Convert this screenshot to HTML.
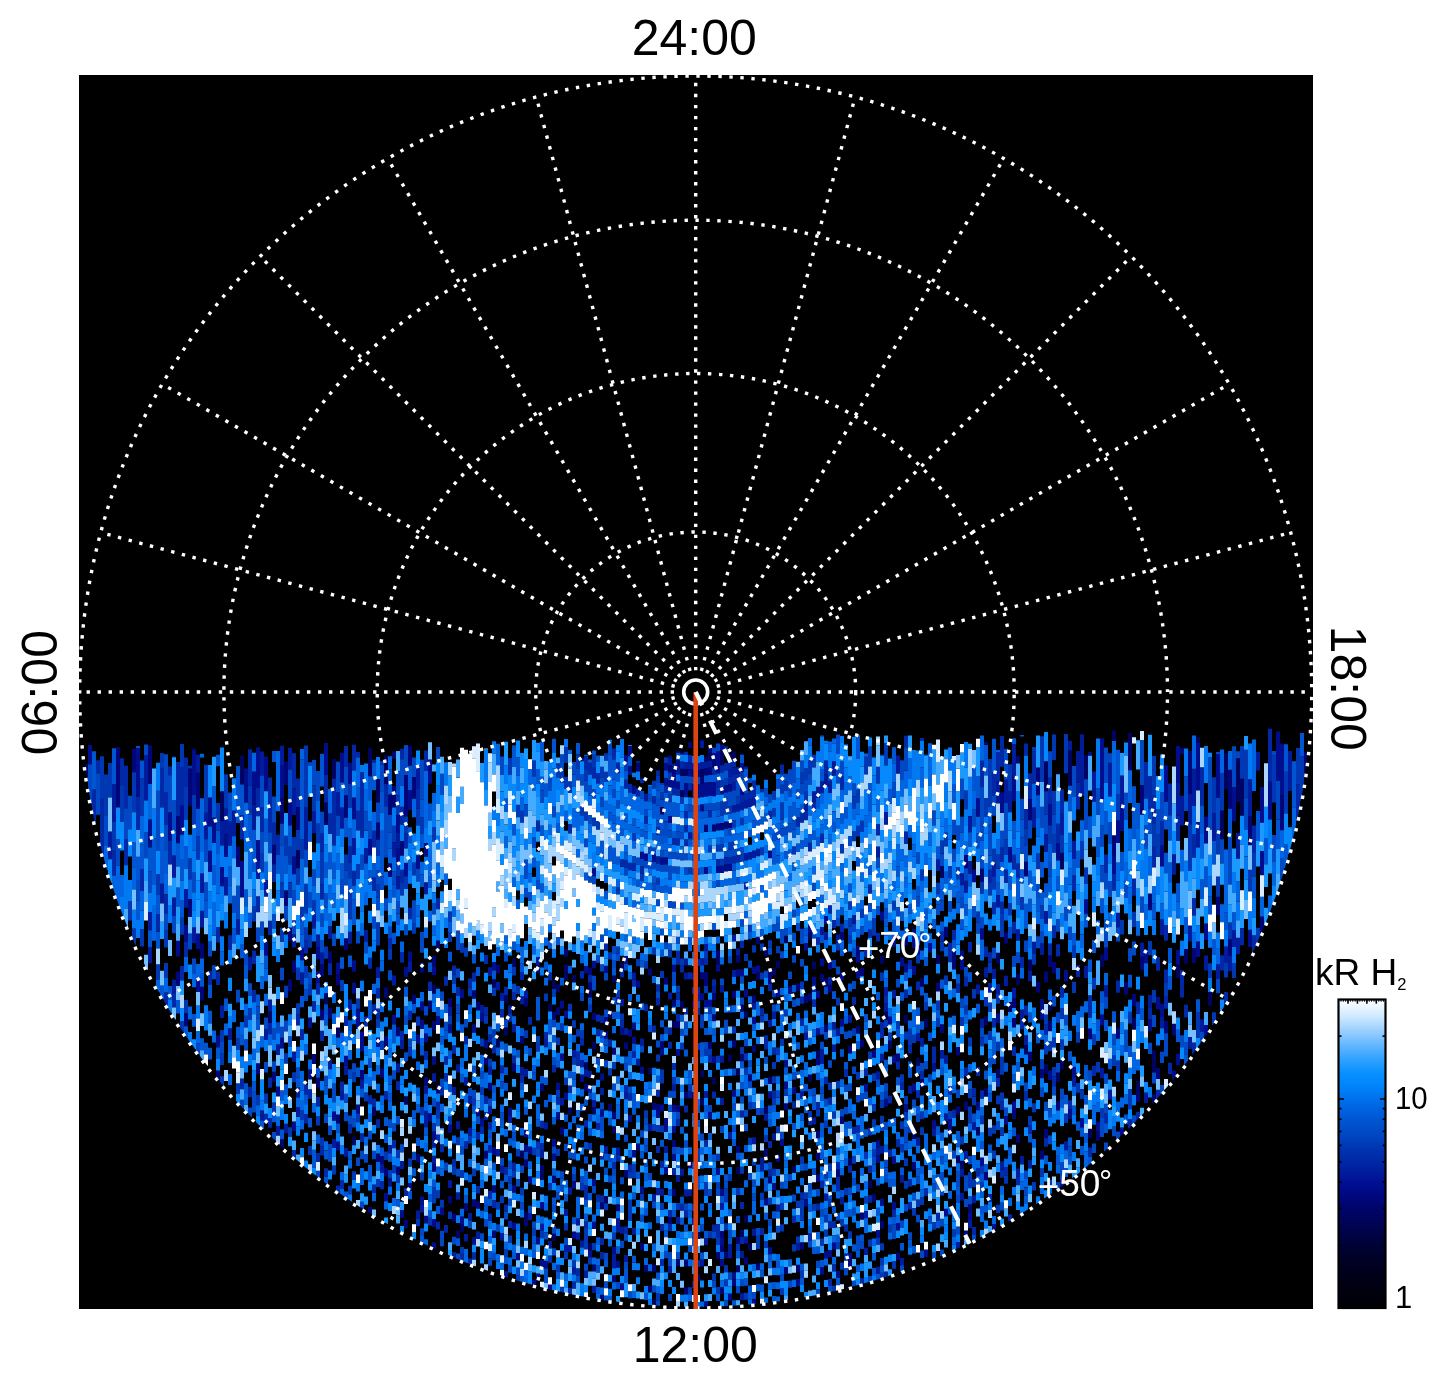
<!DOCTYPE html>
<html><head><meta charset="utf-8"><style>html,body{margin:0;padding:0;background:#fff;overflow:hidden;}svg{display:block}</style></head>
<body><svg width="1447" height="1384" viewBox="0 0 1447 1384">
<rect x="79" y="75" width="1234" height="1234" fill="#000"/>
<defs><clipPath id="dc"><circle cx="695.7" cy="692.0" r="615"/></clipPath></defs><g clip-path="url(#dc)"><path stroke="#000461" stroke-width="4" d="M222 791.2v29.9M242 755.4v29.2M270 1011.4v11.5M298 850.1v18.1M326 802.6v22.4M326 993.2v11.0M334 758.9v19.8M338 1027.6v10.1M354 1136.5v8.8M370 747.8v28.3M374 1107.3v8.8M378 779.0v23.6M386 755.3v28.8M406 1096.3v8.6M434 984.5v9.3M458 1230.6v7.6M462 1224.1v7.6M494 979.2v8.5M498 1039.6v8.0M506 995.0v8.2M506 1027.6v8.0M514 958.6v8.4M522 1150.6v7.5M526 1211.4v7.4M538 965.2v8.1M542 1172.6v7.3M550 1003.8v7.7M554 981.2v7.8M554 1233.8v7.2M558 984.2v7.7M566 972.4v7.7M570 1107.6v7.3M574 975.0v7.6M586 1062.2v7.3M590 989.9v7.4M590 1243.1v7.1M594 1042.0v7.3M594 1107.2v7.2M606 1196.1v7.1M610 1010.6v7.2M614 975.4v7.3M614 1126.3v7.1M622 962.9v7.2M650 1067.4v7.1M654 1299.6v7.0M662 807.1v7.3M674 1020.8v7.0M678 750.4v2.5M682 751.4v3.1M682 768.8v7.1M682 790.0v7.1M682 1000.7v7.0M686 769.0v7.1M702 769.1v7.0M702 1070.3v7.0M702 1098.3v7.0M710 753.5v7.2M714 1077.4v7.0M718 957.5v7.0M722 750.1v15.1M730 753.8v7.5M730 1054.7v7.0M734 751.6v7.8M738 1068.4v7.0M738 1166.9v7.0M738 1265.2v7.0M742 1230.1v7.0M746 1010.9v7.1M746 1215.4v7.0M750 1243.4v7.0M758 972.8v7.2M766 949.0v7.3M766 1106.5v7.1M774 968.2v7.3M778 960.6v7.3M786 935.8v7.5M794 1165.9v7.1M810 932.4v7.7M810 1074.5v7.3M814 961.6v7.6M818 1050.5v7.4M850 1158.1v7.4M870 1180.4v7.4M882 955.7v8.5M886 1011.7v8.1M890 1040.6v8.0M906 1015.0v8.3M914 1131.1v7.8M918 1057.7v8.2M922 977.8v8.9M926 1019.1v8.5M938 954.7v9.4M942 866.1v11.9M958 1155.2v8.0M962 1160.7v8.0M978 1127.0v8.3M986 1016.1v9.3M986 1088.1v8.6M998 952.8v10.6M998 1069.0v8.9M1010 1002.1v9.9M1018 973.9v10.5M1026 1045.0v9.5M1030 959.3v11.1M1046 761.2v30.0M1046 1064.1v9.6M1050 1000.1v10.6M1058 1072.6v9.6M1062 852.7v16.7M1062 1059.7v9.8M1070 750.5v35.2M1086 755.3v23.9M1090 1128.8v9.4M1102 954.4v12.7M1114 730.6v10.4M1130 732.8v37.4M1134 1018.1v11.6M1138 1081.0v10.5M1154 1050.3v22.3M1178 964.2v14.0M1186 949.0v14.8M1198 737.2v5.3M1210 992.0v13.7M1222 810.6v28.6M1226 753.2v36.4M1238 758.4v43.6M1242 778.8v37.0"/>
<path stroke="#000677" stroke-width="4" d="M86 764.3v15.6M118 746.9v60.8M134 748.7v23.6M150 745.3v38.7M178 816.1v27.2M178 971.6v14.4M186 1013.2v12.9M190 768.5v37.8M190 899.1v17.8M194 748.5v2.5M198 772.7v36.0M202 943.4v15.1M202 986.8v13.4M218 1070.4v10.5M238 846.5v20.7M258 1063.4v10.7M274 844.7v19.5M274 1071.8v10.4M282 798.5v25.3M282 1139.2v9.2M286 761.5v23.6M286 890.3v15.6M290 927.4v13.7M290 979.2v12.0M294 960.3v12.4M298 806.9v23.1M314 1053.9v10.1M318 1077.8v9.7M322 964.4v11.7M322 1009.6v10.7M330 951.4v11.9M330 1008.1v10.6M338 974.0v11.2M338 1114.4v9.1M346 795.3v22.5M346 938.1v12.0M362 1070.0v9.3M370 1207.1v7.8M378 822.3v17.5M378 1153.6v8.5M382 1068.4v9.1M382 1155.9v8.4M386 987.6v10.1M386 1036.3v9.4M386 1168.3v8.3M390 794.4v20.3M390 863.2v13.9M394 751.4v7.4M394 786.0v21.4M398 1026.9v9.3M398 1166.4v8.2M402 840.9v14.9M406 774.9v41.6M406 1220.1v8.0M410 745.9v19.8M414 777.1v21.7M414 994.4v9.5M418 1154.1v8.1M422 962.8v9.9M426 1077.0v8.5M430 1000.4v9.2M434 955.7v9.8M434 1021.1v8.9M434 1163.8v8.0M438 940.5v10.0M438 1085.1v8.3M450 998.2v8.9M450 1195.8v7.8M454 1213.7v7.7M466 1203.3v7.7M474 990.1v8.7M474 1199.2v7.6M478 1002.0v8.5M478 1108.3v7.9M478 1201.2v7.6M486 1056.4v8.1M486 1150.8v7.7M490 1082.7v7.9M494 1185.3v7.6M494 1230.4v7.5M498 964.7v8.6M514 1063.6v7.8M522 1036.0v7.8M526 998.6v8.0M526 1159.6v7.4M526 1218.8v7.3M542 1083.4v7.5M542 1165.2v7.4M554 1012.1v7.6M554 1175.7v7.3M558 1007.3v7.6M562 1127.4v7.3M566 949.0v7.8M566 964.6v7.7M586 1084.1v7.3M590 967.6v7.5M590 982.5v7.4M594 1012.7v7.3M594 1264.5v7.1M602 1202.4v7.1M602 1294.7v6.2M610 1104.1v7.1M614 1047.7v7.2M614 1112.1v7.1M614 1275.2v7.1M618 1204.1v7.1M626 1042.3v7.1M626 1170.1v7.1M638 762.6v8.8M638 1143.5v7.1M642 1242.9v7.0M646 1265.0v7.0M650 968.4v7.1M650 1285.4v7.0M654 1102.9v7.0M654 1264.5v7.0M658 1103.9v7.0M662 1041.3v7.0M666 977.5v7.0M670 765.3v7.4M670 1217.0v7.0M674 766.4v7.3M674 999.8v7.0M674 1140.0v7.0M674 1189.1v7.0M678 1020.9v7.0M678 1105.0v7.0M678 1259.1v7.0M686 1091.5v7.0M686 1259.5v7.0M686 1287.5v7.0M690 742.0v6.1M690 1161.3v7.0M694 770.0v7.0M694 1001.0v7.0M694 1092.0v7.0M698 770.0v7.0M698 1232.1v7.0M698 1274.1v7.0M702 739.5v1.5M702 776.2v7.0M702 972.3v7.0M706 757.3v4.2M706 768.6v7.1M706 824.8v7.0M706 972.1v14.0M710 747.2v6.3M710 767.8v7.1M710 1041.8v7.0M714 760.4v7.2M714 824.5v7.1M714 993.2v7.0M714 1014.3v7.0M718 823.5v7.1M718 950.4v7.0M718 1251.9v7.0M722 823.2v7.1M722 1231.1v7.0M722 1245.1v7.0M722 1287.2v7.0M726 821.6v7.2M726 1251.3v7.0M730 820.9v7.2M734 991.1v7.1M734 1040.4v7.0M734 1279.3v7.0M738 955.4v7.1M738 1145.8v7.0M738 1237.1v7.0M742 753.6v1.2M742 1004.6v7.1M742 1054.1v7.1M746 1257.6v7.0M750 1074.2v7.1M754 995.4v7.1M754 1045.2v7.1M758 936.8v7.2M758 1263.2v7.0M766 1149.0v7.1M770 969.3v14.5M770 1077.0v7.1M770 1176.5v7.1M786 1103.1v7.2M786 1266.9v7.1M798 983.5v7.4M798 1264.9v7.1M802 1242.3v7.1M806 995.7v7.4M810 993.2v7.5M818 1057.9v7.4M818 1131.1v7.3M818 1152.8v7.2M822 973.9v7.7M826 979.0v7.7M826 1024.6v7.5M830 984.7v7.7M838 1169.4v7.3M842 931.9v8.2M842 1116.5v7.4M850 1045.8v7.6M850 1260.4v7.3M858 945.9v8.3M858 1026.0v7.8M862 968.1v8.1M862 1039.6v7.7M862 1212.4v7.3M874 1050.0v7.8M874 1194.2v7.4M882 1221.0v7.4M898 1053.4v8.0M898 1252.8v7.4M906 936.4v9.2M914 1162.1v7.7M922 1079.3v8.1M938 982.6v9.1M942 1024.3v8.7M946 926.8v10.1M954 950.1v19.5M958 1046.9v8.7M958 1106.3v8.3M966 855.0v13.2M966 1101.5v8.4M970 1204.3v7.9M982 868.7v13.0M986 741.9v2.9M986 1172.1v8.2M1006 932.3v11.3M1014 998.0v10.0M1014 1017.8v9.7M1014 1110.1v8.8M1018 755.7v7.9M1018 1134.2v8.6M1026 861.8v14.8M1030 799.1v21.1M1030 1051.7v9.5M1038 767.4v27.7M1038 981.8v10.7M1042 1068.9v9.5M1042 1150.8v8.7M1046 971.4v11.1M1046 1129.0v8.9M1050 955.5v11.6M1050 1021.1v10.2M1054 962.1v11.5M1058 1101.2v9.3M1090 1028.6v10.7M1098 1131.3v9.4M1114 835.3v20.3M1118 1027.7v11.1M1126 982.1v12.3M1134 994.1v12.2M1138 1091.5v10.4M1142 785.0v29.8M1142 956.7v13.5M1150 893.6v16.7M1154 1094.2v9.4M1158 1067.9v11.0M1166 1021.1v12.1M1174 1023.7v12.1M1182 748.0v6.2M1190 751.1v42.8M1194 947.9v15.0M1218 896.6v18.5M1230 769.6v39.1M1230 939.7v16.2M1250 816.5v28.8M1262 916.6v17.9M1282 795.6v34.7M1306 752.3v23.3"/>
<path stroke="#000d8c" stroke-width="4" d="M90 745.0v19.2M138 748.1v49.0M150 819.5v27.9M170 812.2v28.3M178 940.8v15.8M182 805.8v28.9M186 925.1v16.4M194 751.0v44.0M198 933.5v15.6M198 978.3v13.8M210 797.4v29.2M210 850.8v21.3M214 817.7v25.4M218 1035.6v11.9M222 867.0v19.3M226 834.5v22.5M242 860.7v36.7M246 768.4v34.4M254 771.3v33.0M258 747.2v40.4M258 839.9v20.6M266 756.5v34.8M266 941.8v13.7M278 1086.3v10.1M282 765.6v32.9M282 1037.8v10.8M290 800.9v24.5M294 856.5v17.7M294 1121.5v9.5M302 947.7v12.6M310 1017.6v10.7M310 1069.6v9.9M318 947.3v12.3M318 971.5v11.6M326 743.1v31.8M334 1111.6v9.2M338 962.6v11.5M338 1141.6v8.9M342 752.8v29.9M346 1055.8v9.6M350 762.8v21.0M354 797.5v21.7M354 960.6v11.2M354 982.7v10.7M358 1008.7v20.1M358 1104.4v9.0M362 1031.8v19.4M370 839.1v16.3M378 1037.5v9.5M386 1193.1v8.2M390 1178.3v8.2M394 1015.0v9.5M398 815.0v17.3M398 848.0v14.6M402 1209.8v8.0M406 862.9v13.4M406 966.9v10.1M410 790.1v19.8M410 951.6v10.3M410 1183.0v8.1M418 855.3v13.4M418 1034.8v9.0M422 1001.4v9.3M422 1019.8v9.1M422 1196.6v7.9M426 842.9v13.9M426 1033.4v8.9M426 1215.7v7.9M430 759.4v24.4M430 1113.3v8.3M434 965.4v9.6M434 1056.2v8.6M434 1131.5v8.1M434 1219.1v7.8M434 1242.4v7.2M438 1016.1v8.9M442 1207.5v7.8M450 1024.7v8.7M450 1124.7v8.0M462 989.3v8.9M462 1216.5v7.7M474 1024.4v8.4M474 1237.2v7.5M482 1013.4v8.4M482 1118.4v7.8M486 1040.1v8.1M494 961.9v8.7M494 1147.3v7.6M510 1107.7v7.7M514 1185.2v7.5M514 1222.4v7.4M518 1253.0v7.3M526 1129.7v7.5M526 1144.7v7.5M530 1146.5v7.4M530 1176.2v7.4M534 1279.8v6.6M538 1237.1v7.3M538 1273.5v7.2M542 1201.9v7.3M542 1260.1v7.2M546 1261.2v7.2M550 1284.5v6.0M554 1139.1v7.3M554 1153.8v7.3M558 1082.5v7.4M558 1112.1v7.4M562 1000.8v7.6M562 1053.6v7.5M566 1010.5v7.5M566 1092.4v7.4M574 1181.2v7.2M574 1231.5v7.2M582 757.9v3.4M582 1074.6v7.3M586 966.0v7.5M590 1250.2v7.1M594 868.2v8.0M594 960.8v7.5M594 1178.9v7.1M594 1221.8v7.1M602 1073.6v7.2M602 1109.5v7.2M606 965.7v7.4M606 1016.9v7.3M606 1031.4v7.2M614 1246.9v7.1M618 1260.7v7.1M622 1027.8v7.2M622 1283.2v7.1M626 755.3v5.8M626 956.1v7.2M630 745.9v10.5M630 766.0v9.1M630 1029.6v7.1M630 1114.9v7.1M634 785.7v8.3M634 1022.5v7.1M634 1036.7v7.1M634 1150.1v7.1M638 980.5v7.1M642 851.8v7.4M642 1066.7v7.1M642 1186.6v7.0M646 853.6v7.3M654 854.8v7.2M658 1110.9v7.0M662 857.6v7.1M662 1048.4v7.0M662 1104.6v7.0M666 763.1v7.5M666 778.0v7.4M666 857.4v7.1M666 1118.0v14.0M666 1167.1v7.0M670 755.4v2.4M670 780.0v7.3M670 816.0v7.1M674 773.7v14.4M674 964.7v7.0M674 1105.0v7.0M674 1126.0v7.0M674 1154.0v7.0M678 760.1v7.2M678 781.6v7.1M678 1048.9v7.0M686 783.1v14.1M690 769.2v7.0M694 784.0v14.0M698 784.0v14.0M702 783.2v14.0M702 804.2v7.0M702 993.3v7.0M706 782.7v14.1M706 866.9v7.0M706 1000.1v7.0M706 1301.2v6.8M710 782.0v14.2M710 999.8v7.0M710 1111.9v7.0M714 753.1v7.3M714 782.0v14.2M714 1056.3v7.0M718 751.3v22.1M718 866.0v7.1M718 964.5v7.0M718 1167.9v7.0M722 744.5v5.6M722 787.2v7.2M722 865.8v7.1M722 1189.1v7.0M722 1238.1v7.0M722 1259.2v7.0M726 785.3v7.3M726 864.5v7.1M730 784.2v7.4M730 864.0v7.1M730 1293.4v7.0M734 1089.7v7.0M734 1272.3v7.0M738 969.5v7.1M742 763.3v8.2M742 787.4v7.7M742 969.2v7.1M746 989.6v7.1M754 966.8v7.2M754 1016.8v7.1M754 1299.2v6.1M758 965.6v7.2M766 1198.6v7.1M770 850.6v7.7M770 1091.3v7.1M770 1247.2v7.1M774 1182.9v7.1M778 989.8v7.3M778 1154.7v7.1M782 1139.0v7.1M786 1060.0v7.2M786 1081.6v7.2M790 986.4v7.3M794 1086.9v7.2M798 1279.1v7.1M806 943.0v7.6M806 1199.3v7.2M810 924.6v7.8M814 976.8v7.6M818 990.7v7.6M818 1028.2v7.4M818 1174.5v7.2M822 958.5v7.7M822 1267.2v7.2M826 916.0v8.1M826 1251.2v7.2M830 961.4v7.8M830 1250.1v7.2M834 1242.6v7.2M838 1270.9v7.2M842 972.1v7.9M842 1018.7v7.7M850 1253.1v7.3M858 954.2v8.2M858 970.5v8.1M866 1083.8v7.6M878 1140.4v7.5M878 1155.5v7.5M878 1230.0v7.4M882 911.4v9.1M882 1198.7v7.5M886 1098.7v7.7M890 1016.4v8.1M894 937.9v8.9M894 1055.3v8.0M894 1156.3v7.6M894 1201.7v7.5M898 1222.9v7.5M902 957.6v8.8M906 963.5v8.8M906 1103.8v7.8M914 929.2v18.7M914 966.0v8.9M914 1083.6v8.0M918 945.2v9.2M926 1249.3v7.6M930 942.9v9.5M934 1063.2v8.3M934 1120.3v8.0M946 1208.7v7.8M950 1119.1v16.2M962 950.4v19.7M966 1230.6v7.8M970 1212.2v7.9M974 869.6v12.7M978 798.2v18.5M978 1101.8v8.5M982 928.7v10.8M982 1157.5v8.2M994 1224.0v6.9M998 1013.4v9.5M1002 792.3v20.6M1006 1116.0v8.6M1010 847.2v15.2M1014 777.2v24.0M1014 1101.3v8.8M1042 999.1v20.7M1050 803.9v21.4M1050 1070.6v9.5M1058 843.0v17.4M1066 970.1v11.5M1070 1109.7v9.4M1074 1066.7v9.9M1082 1118.0v9.4M1086 899.3v14.5M1090 752.1v3.6M1098 1121.7v9.5M1102 738.3v62.6M1102 1014.4v11.1M1106 947.4v13.0M1114 855.6v18.3M1118 820.6v22.3M1122 806.4v24.6M1122 1127.4v9.2M1146 949.4v13.8M1150 1019.4v11.8M1158 997.0v12.5M1162 845.5v21.1M1162 1003.8v12.4M1166 765.5v36.6M1174 1070.7v9.5M1178 746.1v37.1M1178 949.7v14.5M1178 1053.7v11.6M1198 742.6v47.8M1198 941.5v15.4M1206 816.8v26.8M1206 923.5v16.5M1206 1025.0v12.0M1218 753.9v44.1M1234 786.9v34.4M1250 929.7v17.2M1262 786.9v35.8M1262 851.0v24.2M1270 781.8v37.7M1278 731.4v49.7M1282 743.6v52.0"/>
<path stroke="#001b9b" stroke-width="4" d="M110 831.6v27.6M114 784.3v37.4M146 755.0v45.4M150 912.1v18.1M150 947.2v16.1M162 883.7v19.8M174 855.6v22.1M174 897.6v18.4M174 979.7v14.2M186 889.1v18.7M194 927.3v16.0M198 754.8v17.9M202 873.5v19.4M202 910.8v16.7M206 812.7v26.5M222 821.1v24.5M222 1005.4v12.5M226 808.1v26.4M226 877.1v18.3M230 821.6v24.1M230 1028.2v11.8M234 810.6v25.6M238 919.4v15.3M250 956.7v13.5M254 804.4v25.7M258 860.5v18.6M262 751.4v24.1M262 1110.5v10.0M266 880.0v16.8M266 1028.9v11.2M270 999.6v11.8M278 1044.3v10.8M278 1126.1v9.7M282 745.7v19.9M286 1123.7v9.6M290 747.7v21.9M294 788.3v26.6M294 934.2v13.3M294 1051.5v10.4M298 1087.6v9.9M298 1107.2v9.6M302 972.5v11.9M306 807.0v42.5M314 811.6v21.7M314 914.8v13.6M318 934.6v12.7M322 952.3v12.1M330 926.4v12.7M330 1059.4v9.8M334 1138.9v9.0M338 792.3v23.4M342 807.6v20.9M342 1090.9v9.3M346 1065.5v9.5M346 1148.0v8.8M350 931.7v12.1M350 999.5v10.4M354 838.1v17.0M362 1079.3v9.2M366 847.8v15.7M366 930.1v11.8M378 967.3v10.6M382 1164.3v8.4M390 1144.9v8.4M394 842.2v15.1M394 975.5v10.1M398 832.3v15.7M398 876.2v13.0M398 1063.5v8.9M402 1039.9v9.1M402 1160.9v8.2M410 961.9v10.1M418 765.1v23.9M418 1210.5v7.9M422 1204.6v7.9M426 882.3v11.9M426 1085.5v8.5M426 1110.7v16.6M434 1073.3v8.5M434 1139.6v8.1M434 1155.7v8.0M450 1007.1v8.8M450 1180.2v7.8M454 1086.9v8.2M454 1252.1v6.5M458 1064.3v8.3M458 1121.3v8.0M458 1192.1v7.7M466 1077.3v8.1M466 1233.9v7.6M470 1096.0v8.0M470 1127.7v7.9M470 1212.9v7.6M478 1231.5v7.5M482 1005.0v8.4M490 967.2v8.7M490 1066.8v8.0M490 1106.3v7.8M498 981.9v8.4M498 1148.9v7.6M502 992.7v8.3M502 1165.6v7.6M502 1233.1v7.4M506 1271.2v6.8M510 1005.4v8.1M510 1115.4v7.6M514 1024.2v8.0M522 996.3v8.0M522 1067.1v7.7M526 990.6v8.0M526 1069.0v7.7M530 1213.0v7.3M538 957.1v8.1M542 1150.5v7.4M542 1223.8v7.3M546 1039.7v7.6M546 1122.2v7.4M550 1241.1v7.2M562 1098.1v7.4M566 1208.9v7.2M566 1244.9v7.2M570 1187.5v7.2M570 1245.1v7.2M574 1050.0v7.4M574 1267.3v7.2M578 1218.2v7.2M578 1232.5v7.2M582 1060.0v7.3M582 1240.5v7.1M586 1069.5v7.3M586 1270.8v7.1M590 1070.7v7.3M590 1085.2v7.2M594 1100.0v7.2M594 1285.8v7.1M602 1088.0v7.2M606 1146.3v7.1M614 1254.0v14.1M618 1147.4v7.1M618 1218.3v14.1M622 999.0v7.2M622 1226.7v7.1M626 1028.0v7.1M626 1092.1v7.1M626 1254.9v7.1M634 972.5v7.2M634 1227.7v7.0M638 1058.7v7.1M642 1038.4v7.1M646 793.6v7.7M650 1123.7v7.0M654 1194.3v7.0M658 856.3v7.2M658 1188.2v7.0M662 1188.8v7.0M666 1146.1v7.0M670 757.8v7.5M670 992.5v7.0M670 1266.1v7.0M674 763.5v3.0M674 1083.9v7.0M678 767.3v7.2M678 1175.0v7.0M678 1217.1v7.0M682 1168.8v7.0M686 761.9v7.1M686 958.4v7.0M686 972.4v7.0M686 1189.5v7.0M690 762.1v7.0M690 832.3v7.0M690 1091.3v7.0M690 1189.3v7.0M694 763.0v7.0M694 973.0v7.0M694 1218.0v7.0M694 1281.0v7.0M698 763.0v7.0M698 994.1v7.0M702 741.0v7.1M702 762.1v7.0M702 958.3v7.0M702 1259.4v7.0M706 761.5v7.1M706 944.0v7.0M706 1091.1v7.0M706 1238.1v7.0M710 760.6v7.1M714 986.2v7.0M718 743.1v0.7M722 985.6v7.0M722 1055.8v7.0M722 1097.9v7.0M722 1203.1v7.0M726 747.4v7.9M730 769.1v7.6M730 1132.0v7.0M730 1244.3v14.0M734 767.4v7.8M734 782.8v7.6M734 805.2v7.4M734 934.5v7.1M734 969.9v7.1M738 767.0v6.4M738 804.0v7.5M738 948.3v7.1M742 802.8v7.6M742 1251.1v7.0M742 1293.3v7.0M746 766.5v2.3M746 800.7v7.7M746 853.1v7.3M746 1236.5v7.0M750 799.1v7.8M750 852.1v7.4M754 796.8v7.9M754 850.6v7.4M754 1002.5v7.1M754 1137.2v7.1M754 1228.8v7.0M758 848.7v7.5M762 1157.4v14.1M766 1113.6v7.1M770 1019.8v7.2M774 1011.7v7.2M774 1133.2v7.1M778 1204.4v7.1M798 1243.5v7.1M802 1091.6v7.2M806 801.1v9.7M806 1032.7v7.4M814 791.2v10.6M814 1117.2v7.3M818 786.9v11.0M822 781.7v11.6M822 927.1v7.9M822 1049.2v14.8M826 774.4v12.5M826 932.1v7.9M826 1193.5v7.2M830 780.8v12.1M830 977.0v7.7M834 761.3v14.5M834 1021.9v7.6M834 1044.5v7.5M838 934.5v8.1M838 1028.3v7.6M842 1197.2v7.3M850 1015.0v7.7M854 915.1v8.5M866 1211.0v7.4M866 1247.7v7.3M874 756.8v0.6M878 846.6v10.6M878 1071.5v7.8M878 1147.9v7.5M878 1266.8v7.3M882 754.5v1.1M882 1053.7v7.9M882 1146.1v7.6M886 812.1v12.7M886 987.0v8.3M886 1003.5v8.2M894 989.9v8.4M898 755.6v18.1M902 1175.1v7.6M902 1257.9v7.4M910 1085.7v8.0M918 1032.9v8.3M918 1137.6v7.8M922 1038.1v8.3M934 1128.3v8.0M938 859.1v12.0M942 1050.1v8.5M946 1055.3v8.5M946 1113.4v8.1M958 1242.0v7.4M962 873.2v12.2M962 1168.7v8.0M962 1192.7v7.9M966 880.7v12.0M966 1151.0v8.1M970 816.2v16.1M970 860.8v13.0M970 1220.1v7.9M974 1121.9v8.3M974 1195.3v8.0M978 984.6v9.7M982 1018.8v9.3M986 967.3v10.1M990 983.0v9.9M994 863.2v13.7M994 968.8v10.2M998 781.4v22.2M998 895.2v12.3M998 983.9v10.0M1002 1161.2v8.3M1006 779.7v23.0M1006 975.7v10.3M1010 791.0v21.3M1014 743.9v33.3M1014 987.8v10.2M1018 929.2v11.6M1018 1168.4v8.4M1022 1009.5v10.0M1022 1156.1v8.5M1026 1035.3v9.6M1030 970.4v10.8M1030 1159.9v8.6M1034 807.6v20.1M1034 941.7v11.6M1042 943.2v11.7M1046 834.2v17.7M1046 910.9v12.9M1062 813.7v20.7M1062 1179.8v7.5M1066 1141.2v9.0M1070 740.8v9.7M1074 840.7v18.2M1074 1076.6v9.8M1078 751.1v31.6M1082 734.2v61.8M1086 966.1v12.0M1094 771.5v30.3M1102 1068.1v10.2M1106 985.2v11.9M1110 762.8v33.8M1110 1089.7v10.0M1118 912.6v14.7M1122 775.4v31.0M1142 942.7v14.0M1146 1092.6v10.5M1150 994.9v12.4M1162 919.7v15.5M1162 1016.2v12.1M1174 854.2v20.6M1178 783.1v32.3M1182 795.8v29.6M1190 793.9v30.4M1190 925.6v15.9M1190 1036.8v12.1M1194 768.6v37.3M1198 822.0v25.6M1202 1019.3v12.7M1206 955.6v14.9M1214 813.2v27.8M1218 964.2v14.8M1226 946.5v15.8M1230 955.9v15.4M1234 930.1v16.8M1238 833.1v25.6M1238 937.7v16.5M1250 779.2v37.3M1258 752.1v18.3M1290 751.0v39.9"/>
<path stroke="#0028a7" stroke-width="4" d="M94 789.4v34.5M98 760.3v12.9M102 798.1v58.2M114 850.8v24.8M122 758.2v27.0M126 765.7v42.6M126 839.3v25.9M138 797.1v32.9M142 869.2v21.8M158 913.9v17.7M162 767.9v39.7M166 791.9v32.7M166 894.4v18.9M166 992.6v13.9M170 766.6v8.7M170 840.5v24.0M174 756.6v0.6M174 993.9v13.7M178 762.0v54.1M182 767.0v38.8M182 965.9v14.6M186 757.5v29.5M186 941.5v15.5M210 970.8v13.8M218 927.1v15.4M218 971.4v13.6M230 935.2v14.8M242 814.9v24.5M242 1078.6v10.7M250 749.3v36.2M250 1086.8v10.5M254 950.5v13.6M254 989.9v12.3M258 787.6v28.7M258 896.3v16.0M262 806.9v24.9M266 1113.6v9.9M270 777.6v54.7M270 920.7v14.4M270 1023.0v11.3M270 1077.4v10.4M270 1118.0v9.8M274 822.7v22.0M274 864.2v17.7M278 834.8v20.4M294 753.3v35.0M294 1149.8v9.2M298 778.4v28.5M298 1014.4v11.0M302 1029.3v10.7M306 940.7v12.8M306 1084.8v9.8M306 1113.9v9.5M310 1089.3v9.7M314 1000.8v11.0M318 983.1v11.3M318 1097.1v9.5M318 1152.9v9.0M322 833.0v18.8M322 884.6v14.8M322 1030.8v10.3M322 1146.5v9.0M326 774.9v27.7M326 1168.2v8.8M330 813.5v20.6M330 963.3v11.6M334 778.7v66.8M338 761.5v0.6M338 1185.5v8.0M342 1081.5v9.4M342 1180.5v8.6M346 746.0v20.9M346 1015.9v10.2M350 846.6v16.4M350 1124.5v8.9M354 744.8v25.8M354 870.7v14.6M358 752.1v5.4M358 810.8v19.7M362 772.4v65.6M362 1133.3v8.7M366 1016.6v9.9M370 957.8v10.9M370 1095.3v9.0M374 759.8v2.8M374 830.8v16.8M374 877.5v13.6M374 1004.3v10.0M374 1098.4v8.9M374 1184.6v8.3M378 988.2v10.2M378 1008.4v9.8M378 1119.2v8.7M382 1181.0v8.3M386 784.1v22.2M386 1091.0v8.8M390 938.0v11.0M394 1139.9v8.4M398 1081.3v8.8M402 748.7v10.6M402 806.7v18.0M402 869.8v13.2M402 952.1v10.4M402 1030.7v9.2M406 833.3v15.3M406 1187.9v8.1M410 907.8v11.4M410 1010.8v9.3M418 789.0v19.5M426 750.6v20.5M426 1051.1v8.7M430 981.7v9.4M438 898.2v11.0M438 1101.7v8.2M438 1134.5v8.1M438 1221.7v7.8M442 1087.1v8.3M442 1144.3v8.0M446 976.6v9.2M446 1056.2v8.5M446 1073.1v8.3M446 1225.0v7.7M454 965.5v9.3M454 1045.2v8.5M454 1159.2v7.9M458 986.9v8.9M462 1254.6v7.4M466 1035.9v8.4M466 1141.2v7.8M470 978.5v8.9M470 1258.4v6.7M474 972.5v8.9M474 1252.3v7.5M478 1131.9v7.8M478 1186.0v7.6M482 1126.2v7.8M486 955.1v8.9M486 1007.0v8.4M486 1096.3v7.9M486 1112.0v7.8M490 1034.5v8.1M490 1121.9v7.7M490 1145.0v7.7M490 1190.8v7.6M490 1213.5v7.5M494 1045.4v8.0M494 1200.4v7.5M502 1009.2v8.2M502 1065.5v7.9M506 986.7v8.3M506 1167.0v7.5M506 1204.5v7.5M510 1220.7v7.4M514 991.9v8.2M514 1055.8v7.8M514 1162.8v7.5M522 971.8v8.2M522 1074.8v7.7M530 1016.9v7.8M538 820.6v10.8M542 1120.8v7.4M542 1143.1v7.4M546 1032.1v7.6M550 972.5v7.9M554 1065.1v7.5M558 1097.3v7.4M570 823.9v9.5M570 1085.6v7.3M570 1288.1v7.0M574 1281.6v7.1M578 1051.4v14.7M578 1268.3v7.1M582 970.9v7.5M582 1038.0v7.4M586 756.3v12.9M586 1120.3v7.2M586 1185.1v14.3M586 1220.9v7.1M590 762.7v11.9M590 975.0v7.5M594 767.1v11.3M598 772.9v10.6M598 1014.4v7.3M598 1029.0v7.3M598 1122.9v7.2M598 1194.5v7.1M602 1015.6v7.3M602 1152.5v7.1M602 1195.3v7.1M602 1237.9v7.1M602 1252.1v7.1M606 943.5v7.4M610 1039.6v7.2M614 748.5v11.0M614 1161.9v7.1M618 762.6v10.0M618 997.3v7.2M618 1154.5v7.1M622 859.2v7.6M622 970.2v7.2M622 1020.6v7.2M626 779.9v8.8M626 860.3v7.6M626 1085.0v7.1M626 1226.6v7.1M630 783.9v8.5M630 862.7v7.5M630 1093.6v7.1M630 1164.4v7.1M634 863.4v7.4M634 979.7v7.2M634 1050.9v7.1M638 788.2v8.1M642 778.4v4.5M642 866.5v7.3M646 816.6v7.5M646 1004.2v7.1M654 796.0v7.5M654 1025.4v7.1M658 770.5v4.9M658 827.5v7.3M658 984.2v7.1M658 998.3v7.1M658 1089.8v7.0M658 1146.0v7.0M662 1160.7v7.0M662 1223.9v7.0M662 1258.9v7.0M666 785.4v7.3M670 1027.7v7.0M670 1041.7v7.0M670 1210.0v7.0M670 1224.0v7.0M674 788.1v7.2M674 837.9v7.1M674 1062.9v7.0M674 1168.0v7.0M678 788.8v7.1M678 838.3v7.0M678 950.8v14.0M678 992.9v7.0M678 1013.9v7.0M678 1119.0v7.0M682 761.6v7.1M682 965.6v7.0M682 1203.8v7.0M686 751.7v3.2M686 811.2v7.0M686 825.3v7.0M686 839.3v7.0M686 1007.5v7.0M686 1105.5v7.0M686 1210.5v7.0M690 755.1v7.0M690 783.2v7.0M690 972.3v7.0M694 987.0v7.0M698 959.1v7.0M698 987.1v7.0M698 1008.1v7.0M698 1260.1v7.0M706 958.0v7.0M706 1140.1v7.0M710 810.3v7.0M710 1055.8v7.0M714 767.6v7.2M714 979.2v7.0M714 1091.4v7.0M714 1224.5v7.0M718 780.6v7.2M718 858.9v7.1M718 1223.9v14.0M722 765.2v7.4M726 762.9v7.6M726 857.4v7.1M730 761.3v7.7M730 776.7v7.5M730 856.8v7.1M734 759.4v7.9M734 775.1v7.6M734 856.1v7.2M738 773.4v7.8M738 855.3v7.2M742 795.1v7.6M742 940.8v7.1M742 1110.5v7.0M742 1202.0v7.0M742 1237.1v7.0M746 793.0v7.8M746 882.3v7.2M750 791.1v7.9M754 780.5v16.4M762 788.9v3.3M762 1008.2v7.1M762 1228.0v7.1M766 1035.3v14.3M770 810.8v8.2M770 983.8v7.2M770 1141.0v7.1M770 1169.4v7.1M774 1047.6v7.2M774 1090.5v7.1M782 764.6v9.7M794 1101.3v7.2M794 1215.8v7.1M798 817.5v8.9M802 813.5v9.2M802 996.4v7.4M802 1018.6v7.4M802 1192.3v7.2M806 810.9v9.4M810 842.8v8.7M810 1118.1v7.2M810 1233.3v7.2M814 801.8v10.1M814 984.4v7.5M814 999.4v7.5M818 937.0v7.8M818 1101.9v7.3M818 1203.4v7.2M822 833.8v9.2M822 1180.8v7.2M826 760.4v14.0M826 1076.7v7.4M830 905.3v8.2M830 1097.4v7.4M830 1221.3v7.2M830 1278.9v7.2M834 920.0v8.1M834 1220.9v7.2M834 1264.2v7.2M838 1162.1v7.3M838 1176.7v14.6M842 776.6v13.2M842 923.7v8.2M846 1069.4v7.5M846 1224.4v7.3M846 1253.5v7.2M850 1165.4v7.4M854 996.9v7.9M854 1126.7v7.4M858 1124.9v7.5M862 1278.2v6.9M866 948.9v8.4M866 1068.5v7.7M870 884.4v9.3M870 929.5v8.6M870 1165.5v7.5M870 1195.3v7.4M878 823.9v11.6M878 932.8v8.7M882 1021.9v16.0M886 995.3v8.2M886 1271.6v6.3M890 1095.8v7.8M890 1149.5v7.6M894 1209.2v7.5M898 1061.4v8.0M898 1139.6v7.7M902 1082.1v7.9M906 735.7v11.6M906 831.6v12.3M906 989.6v8.5M910 960.1v8.9M910 1045.3v8.2M910 1179.2v7.6M910 1202.0v7.6M918 981.5v8.8M918 1090.1v8.0M922 737.9v3.1M922 1071.2v8.1M926 1188.2v7.7M934 1046.5v16.8M938 1212.7v7.7M942 931.6v9.9M950 942.7v19.6M950 1086.2v8.3M954 929.9v10.2M954 1109.8v8.2M958 983.8v9.3M966 976.8v9.6M966 1067.5v8.6M970 941.9v10.3M974 1088.1v8.5M974 1227.1v7.9M978 1067.3v8.7M978 1168.2v8.1M982 760.8v25.6M982 1090.2v8.6M986 946.5v10.5M990 869.8v13.2M990 952.2v10.5M990 1193.9v8.1M994 772.4v23.7M994 902.2v11.9M994 1018.1v9.4M998 752.2v29.2M998 1077.9v8.9M1002 736.1v30.6M1002 847.0v14.9M1002 901.9v12.2M1002 1101.4v8.7M1002 1169.5v8.3M1006 869.4v13.7M1006 1167.1v8.3M1010 1214.2v7.6M1014 854.8v14.8M1014 921.7v11.8M1014 1046.6v9.4M1018 863.6v14.4M1018 1176.8v8.4M1022 956.9v11.0M1022 1019.5v9.8M1026 743.4v12.4M1026 809.0v19.5M1026 1005.5v10.1M1026 1091.5v9.0M1030 773.3v25.8M1030 1125.0v8.8M1034 751.5v32.1M1046 1024.6v10.1M1046 1137.9v8.9M1050 777.8v26.1M1050 943.6v11.9M1054 925.5v12.6M1054 1076.7v9.5M1058 823.7v19.3M1058 944.3v12.1M1062 789.2v24.5M1062 986.5v11.0M1070 1100.2v9.4M1074 875.6v15.5M1078 782.7v26.7M1078 965.2v11.9M1090 995.2v22.5M1090 1147.5v9.2M1094 1065.7v10.2M1106 854.4v18.2M1106 1113.6v9.7M1114 873.9v16.9M1118 980.5v12.2M1130 1119.3v9.5M1134 878.5v17.2M1138 1001.8v12.0M1138 1112.1v8.6M1146 761.9v36.5M1150 776.0v32.5M1150 1007.3v12.1M1154 795.0v28.3M1154 846.8v20.7M1158 957.0v13.8M1158 1089.7v9.4M1162 821.4v24.1M1166 925.4v15.3M1166 969.4v13.5M1166 996.0v12.7M1170 783.4v31.7M1170 1062.8v11.3M1178 815.4v25.8M1182 970.2v27.2M1186 1004.8v12.8M1194 834.1v23.7M1194 897.9v17.7M1194 1042.4v11.8M1202 767.3v38.2M1222 955.3v15.3M1226 991.9v13.6M1242 928.2v17.1M1254 825.4v27.5M1254 935.3v17.0M1270 728.8v52.9M1298 784.4v36.8"/>
<path stroke="#0037b3" stroke-width="4" d="M102 756.3v41.7M106 774.5v40.8M110 763.1v34.3M114 821.7v29.1M122 785.2v36.7M130 901.1v19.4M134 772.3v39.9M134 928.4v16.5M142 778.2v37.6M142 929.2v17.3M158 874.1v20.8M158 964.2v15.2M162 753.1v14.8M166 930.8v16.6M166 963.1v15.0M182 744.0v23.1M182 917.8v16.9M182 1021.2v10.7M186 787.0v32.8M186 999.9v13.3M190 765.7v2.8M190 858.7v21.2M194 795.0v30.5M198 836.3v23.4M206 764.8v47.9M218 803.0v27.7M222 746.9v0.9M222 1030.1v11.9M222 1053.7v11.4M222 1076.3v9.5M226 774.3v33.9M238 1038.5v11.5M238 1083.1v10.7M246 1015.8v11.8M250 785.4v29.7M250 1008.1v12.0M254 905.9v15.6M258 1095.1v10.3M262 853.1v19.1M266 1093.4v10.2M274 1102.5v10.0M282 881.9v16.2M282 927.8v13.8M286 835.7v19.9M286 985.8v11.9M286 1053.2v10.5M290 846.3v18.7M290 882.2v16.0M290 1127.3v9.5M294 837.0v19.5M294 1072.2v10.1M298 830.0v20.1M298 868.2v16.6M298 967.8v12.1M298 1003.2v11.2M302 839.5v18.9M302 906.7v14.3M302 1110.3v9.6M306 745.5v61.5M306 883.7v29.9M306 927.5v13.3M306 965.9v12.0M310 934.8v12.9M310 984.0v11.5M310 1146.0v9.1M314 785.5v26.0M314 900.6v14.2M318 823.3v20.0M318 1116.1v9.3M322 851.8v32.8M322 1137.4v9.1M326 946.6v12.1M334 1165.6v8.8M342 980.0v11.0M346 854.5v16.0M350 783.8v24.3M350 863.0v15.3M350 892.6v26.6M350 1185.7v8.5M354 1072.8v9.4M354 1171.3v8.6M358 864.0v14.9M358 998.4v10.3M358 1113.4v8.9M366 1092.4v9.0M378 839.8v15.9M378 884.3v13.2M378 922.3v23.1M378 1018.3v9.7M378 1178.9v8.3M382 761.0v3.7M382 1040.6v9.4M386 1151.5v8.4M390 949.0v10.7M390 1170.0v8.3M394 825.7v16.4M394 1165.0v8.3M398 795.3v19.7M398 862.6v13.7M398 1149.8v8.3M398 1174.7v8.2M402 882.9v12.6M406 816.6v16.8M406 876.3v12.7M410 1047.5v8.9M410 1158.5v8.2M414 862.5v13.2M414 922.9v10.9M418 808.5v17.1M418 1016.6v9.2M418 1218.4v7.9M422 817.4v16.0M422 1106.9v8.4M422 1172.6v8.0M430 1217.8v7.8M434 827.0v14.7M434 1123.3v8.2M434 1187.6v15.8M438 1110.0v8.2M438 1190.3v7.9M442 1199.7v7.8M450 911.6v10.4M450 932.1v9.9M450 1015.9v8.7M450 1116.6v8.1M450 1211.4v7.7M454 974.8v9.1M454 1167.0v7.8M458 1137.3v7.9M462 943.3v9.5M462 1170.1v7.8M462 1247.0v7.6M466 947.5v9.3M470 987.4v8.8M470 1135.6v7.8M474 1097.9v8.0M474 1168.5v7.7M482 1038.4v8.2M482 1086.9v7.9M486 1015.4v8.3M490 1058.8v8.0M494 987.7v8.4M494 1029.2v8.1M498 1201.9v7.5M502 1195.8v7.5M506 1249.1v7.4M510 757.9v16.9M510 1013.5v8.1M510 1175.9v7.5M510 1235.5v7.4M514 967.0v8.4M514 1170.3v7.5M518 804.7v12.6M518 985.9v8.2M518 1149.1v7.5M518 1275.0v6.8M522 810.7v12.0M522 1187.8v7.4M526 1030.2v7.8M534 760.5v16.4M534 1147.8v7.4M534 1228.8v7.3M538 1036.0v15.3M538 1141.6v7.4M542 1231.1v7.3M546 993.4v7.8M550 1183.0v7.3M550 1255.6v7.2M554 989.0v7.7M558 763.3v14.2M558 1037.6v7.5M558 1089.9v7.4M558 1148.8v7.3M558 1264.7v7.2M562 769.4v13.2M562 1023.6v7.5M562 1286.7v6.7M566 747.1v16.0M566 776.7v12.2M566 1077.7v7.4M566 1223.3v7.2M566 1252.1v7.2M570 781.3v11.6M570 1003.8v7.5M574 1020.2v7.5M574 1057.3v7.4M574 1173.9v7.2M574 1260.2v7.2M578 754.4v13.8M578 1029.3v7.4M582 806.2v9.7M582 1030.6v7.4M582 1183.2v7.2M586 769.2v11.6M586 811.4v9.3M586 1228.0v21.4M590 1004.8v7.4M590 1142.9v7.2M590 1257.3v7.1M594 754.6v12.5M594 817.4v8.9M594 1243.1v7.1M598 821.1v8.7M602 766.8v10.8M606 753.3v7.5M606 771.8v10.2M606 1203.2v7.1M610 952.2v7.4M610 1068.3v7.2M614 1062.0v7.2M614 1232.8v7.1M618 887.1v7.5M618 946.4v7.3M618 990.0v7.2M622 1013.4v7.2M626 761.1v9.6M630 1171.5v7.1M630 1199.7v21.2M634 833.3v7.6M634 1164.2v14.1M638 761.3v1.3M638 959.0v7.2M642 873.8v7.3M642 1193.7v7.0M646 961.6v7.1M646 1110.2v7.0M654 780.7v7.7M654 947.6v7.1M654 1124.0v7.0M658 775.5v7.6M658 877.8v7.1M658 1054.6v7.0M658 1125.0v7.0M658 1293.4v7.0M662 782.9v2.1M662 792.4v7.4M662 970.9v7.0M662 1069.4v14.1M662 1125.6v7.0M662 1202.8v7.0M666 757.3v5.7M666 1026.7v7.0M670 772.6v7.3M670 794.5v7.2M670 950.4v7.0M674 1076.9v7.0M678 985.8v7.0M678 1203.1v7.0M682 797.1v7.1M682 958.6v7.0M682 1042.7v7.0M690 867.3v7.0M690 1084.3v7.0M690 1287.3v7.0M694 1204.0v7.0M698 1043.1v7.0M698 1148.1v14.0M702 1014.3v14.0M706 951.0v7.0M706 986.1v7.0M706 1049.1v7.0M706 1182.1v14.0M710 845.5v7.0M710 1006.8v7.0M710 1048.8v7.0M710 1230.9v7.0M714 1273.5v7.0M718 787.8v7.2M718 844.8v7.1M718 1055.7v7.0M718 1153.9v7.0M718 1181.9v7.0M718 1237.9v7.0M718 1287.0v7.0M722 779.9v7.3M722 801.7v14.4M722 844.5v7.1M722 858.7v7.1M726 777.9v7.4M726 799.9v14.5M726 1188.2v14.0M726 1223.2v7.0M726 1265.3v7.0M726 1279.3v7.0M730 806.3v7.3M730 842.5v7.2M730 1174.1v7.0M734 819.9v7.3M734 841.7v7.2M734 1026.4v7.0M738 796.5v7.5M738 1187.9v7.0M738 1244.1v7.0M742 771.6v8.0M742 817.8v7.4M742 854.6v7.3M742 1047.0v7.1M742 1166.8v7.0M746 954.0v7.1M746 1053.3v7.1M746 1067.5v7.1M746 1292.7v7.0M750 924.8v7.2M750 1102.5v7.1M750 1137.7v7.1M754 804.8v7.8M754 945.3v7.2M754 1158.3v7.1M758 1235.0v14.1M762 847.6v7.6M762 943.5v7.2M762 972.4v7.2M762 1015.4v7.1M762 1107.9v7.1M762 1192.7v7.1M766 1134.9v7.1M766 1240.9v7.1M770 940.2v7.3M770 1197.7v7.1M774 790.9v8.8M774 808.2v8.4M774 990.0v7.2M774 1061.9v7.2M774 1076.2v7.1M774 1097.6v7.1M774 1168.7v7.1M778 945.9v7.3M778 1047.5v7.2M778 1126.2v7.1M782 784.1v9.4M782 802.5v17.3M782 1038.7v7.2M782 1203.0v7.1M782 1224.3v7.1M782 1288.0v7.1M786 781.2v9.7M786 1009.3v7.3M786 1088.8v7.2M794 846.3v8.2M794 1244.3v7.1M798 1200.7v7.1M798 1236.4v7.1M802 772.7v11.1M802 981.6v7.4M802 1156.4v7.2M802 1199.4v21.4M802 1270.8v7.1M806 768.3v11.7M806 790.9v10.2M806 1192.1v7.2M810 760.4v12.8M810 1110.9v7.3M814 754.7v12.9M814 1203.9v7.2M818 1109.2v7.3M822 1238.5v7.2M826 1120.8v7.3M826 1171.8v7.2M826 1215.2v7.2M826 1229.6v7.2M830 1082.6v7.4M830 1163.3v7.3M830 1199.6v7.2M834 960.1v7.9M834 1111.5v7.4M834 1285.8v6.5M838 942.6v8.0M838 997.7v7.7M838 1081.0v7.4M838 1242.1v7.2M842 844.0v9.6M842 1219.1v7.3M842 1262.5v7.2M846 1188.0v7.3M850 901.2v8.6M850 918.4v8.4M850 935.1v8.3M850 1231.3v7.3M854 796.3v12.2M854 830.9v10.4M854 1028.2v7.7M854 1156.3v7.4M858 789.5v13.0M858 825.8v10.8M858 1072.1v7.6M862 820.8v11.1M862 908.9v8.8M866 756.8v17.7M866 1151.7v7.5M866 1196.2v7.4M870 746.4v20.2M870 1051.6v7.8M870 1128.0v7.5M870 1239.5v7.3M874 918.1v17.6M874 1073.3v7.7M874 1104.0v7.6M874 1119.2v7.6M874 1149.4v7.5M878 766.7v16.9M878 1237.4v7.4M882 972.6v8.4M882 1100.4v7.7M882 1115.7v7.6M882 1243.2v7.4M882 1258.0v7.4M882 1272.7v6.5M886 743.1v22.5M886 1019.8v8.1M886 1091.0v7.7M890 1032.6v8.0M890 1224.8v7.4M894 900.7v9.6M894 1261.4v7.4M898 1020.9v8.2M902 1074.2v7.9M902 1121.3v7.8M902 1144.5v7.7M906 1031.6v8.2M906 1096.0v7.9M906 1111.7v7.8M906 1158.2v7.7M906 1181.1v7.6M910 1028.8v16.5M910 1125.1v7.8M914 1034.7v8.3M914 1208.1v7.6M918 954.5v9.1M918 1199.4v7.6M922 869.4v11.1M922 1111.4v7.9M922 1127.2v7.9M922 1197.2v7.7M926 1001.8v8.7M934 1222.0v7.7M938 882.7v11.1M938 1000.6v8.9M938 1018.2v8.7M942 840.5v13.1M942 941.5v9.7M946 832.7v13.8M946 975.5v9.3M950 865.9v12.1M950 1111.0v8.2M954 1229.3v7.8M958 867.0v12.3M962 1016.9v9.0M962 1136.4v8.1M966 790.4v18.9M966 1005.1v9.2M970 1037.4v8.9M970 1089.7v8.5M970 1106.6v16.7M970 1172.3v16.1M974 989.1v9.5M974 1096.7v8.5M974 1179.2v8.0M978 911.5v11.2M982 881.7v12.4M982 1037.2v9.0M982 1115.8v8.4M982 1165.7v8.2M982 1181.9v8.1M986 798.1v18.9M986 997.0v9.6M990 759.1v47.6M990 883.0v12.6M990 962.7v10.2M990 1002.5v9.6M990 1030.9v9.2M990 1127.8v8.4M994 848.7v14.5M994 876.9v13.0M994 1125.2v8.5M994 1150.4v8.3M998 854.5v14.3M998 993.9v9.8M998 1041.7v9.2M998 1095.6v8.7M998 1204.8v8.1M1002 914.0v23.1M1002 1056.7v18.1M1002 1092.6v8.8M1002 1127.3v8.5M1006 839.2v15.7M1006 1175.4v8.3M1010 764.3v26.6M1010 902.9v12.3M1022 896.9v12.9M1026 828.5v17.4M1030 1116.1v8.9M1034 747.1v4.4M1034 953.4v11.3M1034 1103.2v9.0M1034 1182.1v8.5M1038 853.6v15.8M1042 736.2v45.9M1042 905.5v13.1M1042 1059.3v9.6M1042 1168.2v8.6M1046 791.2v23.2M1046 1014.4v10.2M1046 1044.7v9.8M1050 825.3v18.7M1050 1041.3v9.9M1050 1179.4v8.6M1054 734.5v25.5M1054 790.9v23.7M1054 834.7v18.0M1054 1037.4v10.0M1054 1067.0v9.6M1058 1182.1v8.1M1062 834.4v18.3M1062 1008.3v10.6M1062 1039.6v10.1M1066 733.9v39.4M1066 1113.6v9.3M1074 945.7v12.4M1074 981.7v11.4M1078 1032.4v10.4M1078 1083.1v9.7M1082 841.0v18.5M1082 1089.2v9.7M1086 867.5v16.4M1094 977.7v11.9M1094 1034.3v10.6M1098 1062.1v10.3M1102 1108.2v9.7M1114 1055.5v10.6M1118 794.0v26.6M1118 1060.5v10.6M1122 919.9v14.5M1130 1011.7v11.7M1130 1088.8v20.5M1134 911.8v15.2M1150 940.9v14.3M1154 755.9v39.1M1154 823.3v23.5M1154 990.1v12.7M1158 834.8v22.2M1166 982.9v13.1M1190 824.3v46.7M1198 1012.5v25.3M1210 963.2v14.7M1214 777.3v35.9M1214 1012.3v12.6M1218 829.0v25.4M1218 876.6v20.1M1222 773.0v37.6M1226 962.3v15.1M1230 922.5v17.1M1234 962.8v15.2M1242 746.0v32.8M1246 749.8v47.7M1250 869.8v21.7M1254 852.8v23.7M1258 927.8v15.7M1274 755.3v47.2M1286 771.8v41.7M1298 747.9v36.5M1302 756.2v44.7"/>
<path stroke="#0048c4" stroke-width="4" d="M90 764.2v40.0M98 773.2v41.6M106 815.3v30.6M118 839.2v26.2M126 808.3v31.1M130 795.7v33.6M138 879.9v20.9M146 744.6v10.5M146 832.2v26.1M150 871.3v21.3M158 790.8v60.2M166 754.3v37.6M166 824.6v26.4M166 913.2v17.6M170 775.3v36.9M174 800.0v30.5M174 916.0v17.2M190 933.6v15.8M194 872.4v19.7M194 958.6v14.6M198 1043.3v11.7M206 839.2v22.7M206 882.2v18.6M210 941.4v15.0M214 965.3v13.9M222 1042.0v11.7M230 792.4v29.2M234 895.8v16.8M238 885.9v33.5M238 989.8v12.6M242 1099.8v8.8M246 951.4v13.7M246 1039.2v11.3M250 983.2v12.6M250 1107.6v9.6M254 1091.8v20.6M258 927.5v14.4M258 1006.6v11.8M262 775.5v31.4M262 831.8v21.4M262 921.5v14.6M266 1017.4v11.5M266 1062.0v10.6M270 832.3v21.0M274 796.6v26.1M274 913.8v14.7M274 1028.5v11.1M274 1061.2v10.5M274 1132.1v9.0M278 1022.2v11.2M282 823.8v21.5M282 967.8v12.4M282 1026.8v11.0M286 905.9v14.7M286 1020.5v11.1M290 769.6v31.3M290 1036.2v10.7M294 890.5v15.3M294 920.4v13.9M298 1067.5v10.1M306 849.5v17.8M306 989.6v11.4M310 762.2v3.9M310 892.6v14.8M310 972.2v11.8M314 759.9v25.7M314 869.6v16.0M318 771.0v29.1M318 1170.8v7.8M322 811.8v21.3M322 913.5v13.4M322 939.9v12.5M326 893.2v14.3M326 1004.2v10.7M326 1075.8v9.7M326 1113.8v9.3M330 1125.8v9.1M330 1143.9v17.9M334 933.6v12.4M334 1083.4v18.9M338 762.1v30.2M338 815.8v20.0M342 879.1v14.5M346 766.9v28.4M346 870.5v14.9M346 1093.8v9.2M346 1112.1v9.1M350 1069.2v9.4M350 1115.5v9.0M354 1063.3v9.5M354 1118.7v8.9M358 931.5v11.9M358 1157.4v8.6M362 854.7v15.4M362 1150.7v8.6M362 1201.7v8.1M366 811.4v19.2M366 941.8v11.4M366 1154.1v8.6M370 821.2v17.9M370 1058.6v9.3M370 1130.7v8.7M374 916.6v12.0M374 1150.8v8.5M378 802.6v19.8M378 870.5v13.9M378 897.5v12.6M382 764.7v26.5M382 876.6v13.4M386 806.2v51.2M386 898.3v12.4M390 814.7v17.7M390 926.7v11.3M390 970.3v10.3M390 1119.3v8.6M394 871.4v13.3M394 1070.5v8.9M394 1122.9v8.5M398 771.4v23.9M398 901.6v11.9M398 1116.0v8.5M402 759.3v26.5M402 1144.3v8.3M406 745.1v29.8M406 924.3v11.0M406 1015.6v9.3M406 1052.3v8.9M410 1038.5v9.0M414 757.6v19.5M414 900.2v22.8M414 1151.8v8.2M418 868.7v12.7M422 759.8v39.7M422 932.1v20.7M422 1228.2v7.8M426 1006.2v9.2M434 903.5v11.0M434 1098.5v8.3M438 746.9v15.1M442 773.8v20.5M442 991.6v9.1M442 1078.8v8.3M442 1230.8v15.4M446 1021.7v8.7M446 1162.5v7.9M450 1083.9v8.2M454 1236.8v7.6M458 930.5v19.4M458 968.6v9.2M458 1004.6v8.7M458 1168.8v7.8M458 1253.5v6.8M462 1146.6v7.9M466 1018.9v8.5M470 1087.9v8.0M470 1220.6v7.6M474 1065.7v8.1M474 1090.0v8.0M478 1116.2v7.9M482 1070.9v8.0M482 1233.3v7.5M486 1204.1v7.6M486 1219.2v7.5M490 1098.5v7.8M490 1258.4v7.4M494 1252.8v7.4M498 1224.3v7.5M502 756.4v18.6M502 1081.2v7.8M502 1112.2v7.7M502 1158.1v7.6M506 952.8v8.6M506 1019.5v8.1M506 1212.0v7.4M510 1160.9v7.5M510 1183.4v7.5M510 1198.3v7.4M510 1265.0v7.4M514 983.7v8.2M514 1132.6v7.6M518 1179.0v7.4M518 1267.6v7.3M522 1165.5v7.4M522 1202.6v7.4M526 804.2v12.2M526 859.5v19.4M526 888.2v9.2M526 1152.1v7.5M530 892.0v9.0M530 1048.1v7.7M530 1205.7v7.4M534 837.6v10.3M534 1072.7v7.6M534 1221.5v7.3M538 880.1v9.0M538 1149.0v7.4M542 790.5v12.4M546 1232.2v7.3M546 1268.4v14.5M550 777.9v13.1M554 806.3v10.8M554 1019.7v7.6M554 1057.6v7.5M554 1146.5v7.3M554 1204.8v7.3M554 1226.6v7.2M554 1248.3v7.2M558 1192.5v7.3M562 754.3v15.1M562 1171.2v7.3M562 1185.7v7.2M566 1143.7v7.3M566 1237.7v7.2M570 1151.3v7.3M574 762.0v12.6M574 1152.3v7.2M578 768.2v12.2M578 1124.5v7.3M578 1275.4v7.1M582 774.0v11.5M582 993.4v7.5M582 1176.0v7.2M586 780.8v10.8M586 838.7v8.7M586 1098.6v7.2M586 1142.0v7.2M586 1156.4v7.2M586 1263.7v7.1M590 785.5v10.3M590 815.0v9.1M590 874.8v8.0M590 1092.4v7.2M590 1114.1v7.2M594 788.9v9.9M594 876.2v8.0M594 975.8v14.8M594 1186.1v7.1M598 955.3v7.5M598 1058.1v7.2M598 1265.6v7.1M602 777.6v10.1M602 797.2v9.2M602 934.4v7.5M602 964.2v7.4M602 1030.2v7.3M602 1102.4v7.2M602 1116.7v14.3M606 973.1v7.3M606 1009.6v7.3M606 1038.6v7.2M606 1060.3v7.2M606 1167.7v7.1M606 1252.9v7.1M606 1281.3v7.1M610 741.5v12.8M610 1154.1v7.1M610 1175.4v7.1M614 789.1v9.0M614 946.1v7.3M614 960.8v7.3M614 997.2v7.2M614 1083.5v7.1M614 1169.0v7.1M618 800.0v8.5M618 953.7v7.3M618 1281.9v7.1M622 1177.2v7.1M622 1240.8v7.1M626 867.9v7.5M626 963.4v7.2M626 1063.7v7.1M626 1134.7v7.1M626 1233.7v7.1M626 1261.9v7.1M630 1086.5v7.1M630 1291.4v7.0M634 856.0v7.5M638 857.4v7.4M642 790.9v7.9M642 859.1v7.3M642 1045.5v7.1M642 1130.3v7.1M642 1214.8v7.0M646 809.0v7.6M646 861.0v7.3M646 1117.2v7.0M646 1145.4v7.0M646 1159.5v7.0M650 794.4v7.6M650 846.5v7.3M650 861.1v7.2M650 1025.0v7.1M650 1173.0v7.0M654 847.5v7.2M654 862.0v7.2M654 883.5v7.2M654 1201.3v7.0M654 1285.5v7.0M658 783.1v7.5M658 798.1v7.4M658 820.2v7.3M658 863.5v7.2M658 899.2v7.1M658 991.2v7.1M658 1040.6v7.0M658 1300.4v6.4M662 799.8v7.3M662 828.9v7.2M662 850.4v7.1M662 864.7v7.1M666 821.7v14.3M666 864.5v7.1M666 942.3v7.0M666 1251.2v7.0M670 787.2v7.2M670 830.3v7.1M670 851.6v7.1M670 865.8v14.1M670 901.1v7.1M670 1090.8v7.0M670 1252.1v14.0M670 1294.1v7.0M674 852.1v7.1M674 866.2v7.1M674 901.4v7.0M674 971.7v14.0M674 1090.9v7.0M674 1147.0v7.0M678 752.8v7.3M678 831.3v7.1M678 852.4v7.0M678 866.5v7.0M678 936.7v7.0M678 1112.0v7.0M678 1252.1v7.0M682 775.9v14.2M682 832.3v7.0M682 853.4v7.0M682 1028.7v7.0M686 776.1v7.0M686 853.3v7.0M686 867.3v7.0M686 1021.5v7.0M686 1140.5v7.0M686 1203.5v7.0M690 776.2v7.0M690 804.2v7.0M690 1245.3v7.0M694 777.0v7.0M694 805.0v7.0M694 833.0v7.0M694 854.0v7.0M694 868.0v7.0M694 1162.0v7.0M694 1232.0v7.0M698 777.0v7.0M698 805.0v7.0M698 854.1v7.0M698 868.1v7.0M702 1133.4v7.0M702 1224.4v7.0M706 803.8v7.0M706 1042.1v7.0M710 803.2v7.1M710 1104.9v7.0M710 1188.9v7.0M714 747.7v5.4M714 803.3v7.1M714 1231.5v7.0M714 1280.5v7.0M718 743.8v7.5M718 802.2v7.1M718 880.1v7.0M718 1188.9v7.0M722 978.6v7.0M722 1126.0v7.0M726 746.5v0.9M726 792.6v7.3M726 850.2v7.1M726 1019.7v14.1M726 1181.2v7.0M726 1300.4v6.9M730 791.6v14.7M730 828.1v7.2M730 849.7v7.2M730 956.1v7.1M730 1230.3v7.0M730 1272.3v7.0M734 790.3v14.9M734 848.9v7.2M734 1068.6v7.0M734 1103.8v7.0M734 1124.9v7.0M738 781.2v15.3M738 848.1v7.2M738 1216.0v7.0M738 1286.2v7.0M742 847.3v7.3M742 919.4v7.1M742 976.3v7.1M742 997.6v7.1M742 1096.4v7.0M742 1279.2v7.0M746 777.0v15.9M746 1039.2v7.1M746 1109.8v7.0M750 778.0v5.1M750 960.6v7.1M750 1060.1v7.1M750 1081.3v7.1M750 1173.0v7.0M754 1101.8v7.1M754 1179.5v7.0M754 1193.6v7.0M754 1292.1v7.0M758 1108.0v7.1M758 1228.0v7.0M766 788.5v8.5M766 970.7v7.2M766 1056.7v7.1M770 794.3v8.1M770 947.5v7.3M770 1162.3v7.1M770 1218.9v7.1M774 832.8v8.0M774 924.3v7.4M774 1004.5v7.2M778 779.3v9.4M778 831.5v8.1M778 923.8v7.4M778 1090.5v7.1M778 1225.6v7.1M782 828.2v8.2M782 929.0v14.8M782 951.2v7.4M782 1131.8v7.1M782 1181.7v7.1M782 1273.9v7.1M786 773.7v7.5M786 826.4v8.4M786 928.3v7.5M790 769.2v27.8M790 823.9v8.5M790 971.6v7.4M790 1174.0v7.1M790 1280.6v7.1M794 760.8v22.3M794 820.7v8.7M794 909.8v7.7M794 932.7v7.5M794 955.2v7.5M794 999.6v7.3M794 1072.5v7.2M794 1194.4v7.1M798 788.9v9.9M798 923.3v7.6M802 760.5v12.2M802 783.8v10.4M802 928.7v15.3M802 959.1v7.5M806 780.1v10.8M806 1025.4v7.4M806 1163.4v7.2M810 773.2v11.6M810 1183.1v7.2M810 1240.4v7.1M814 882.7v8.2M814 930.7v7.8M814 1088.1v7.3M814 1167.9v7.2M818 1189.0v7.2M818 1260.8v7.2M818 1289.4v6.3M822 1041.8v7.4M822 1086.1v7.3M822 1209.7v7.2M826 986.7v7.6M826 1032.1v7.5M826 1098.8v7.3M830 1060.3v7.4M830 1286.0v7.1M838 734.5v19.4M838 769.8v13.7M838 918.1v8.2M838 966.5v7.9M838 1213.1v7.3M842 761.5v15.0M842 1109.1v7.4M846 1031.5v7.6M846 1084.4v7.5M846 1106.9v7.4M846 1268.0v7.2M850 835.8v10.1M850 926.8v8.3M850 1030.4v7.7M850 1083.6v7.5M850 1187.5v7.3M854 783.0v13.3M854 923.7v8.4M854 948.7v8.2M854 981.1v8.0M854 1066.5v7.6M854 1178.5v7.4M854 1207.8v7.3M854 1280.7v6.6M858 1094.9v7.5M858 1184.3v7.4M858 1235.6v14.6M862 926.3v8.5M862 1093.2v7.6M862 1241.7v7.3M866 1091.4v7.6M870 902.9v9.0M870 1276.1v6.7M874 1156.9v7.5M878 857.2v10.3M878 905.9v9.1M878 1079.3v7.7M882 1123.3v7.6M886 908.2v9.2M886 1083.2v7.8M886 1121.8v7.6M886 1159.8v7.5M886 1174.9v7.5M894 782.3v15.8M894 1224.2v14.9M898 906.9v9.5M898 979.0v8.5M902 760.3v19.8M902 1220.5v7.5M902 1265.3v7.1M906 747.2v23.1M906 1127.3v15.5M906 1203.9v7.6M910 1232.3v7.5M914 1099.6v7.9M918 852.1v11.7M918 896.4v10.2M918 1065.9v8.1M918 1114.0v7.9M918 1176.4v7.7M918 1214.7v7.6M922 931.6v9.5M922 1063.0v8.2M922 1250.4v7.5M926 1061.1v8.2M930 1074.2v8.2M930 1216.3v7.7M934 810.5v15.0M934 1183.4v7.8M934 1252.6v7.4M938 904.6v10.5M938 1173.9v7.8M942 853.7v12.4M942 900.4v10.7M942 1156.3v7.9M942 1172.1v7.9M942 1187.8v7.8M942 1218.9v7.7M942 1249.6v7.0M950 900.9v10.9M954 819.8v15.1M954 848.8v13.1M954 1150.4v8.0M958 825.5v14.8M958 1089.6v8.4M958 1171.2v15.9M958 1195.1v7.9M958 1226.4v7.8M962 778.8v20.5M962 816.8v15.7M962 897.0v11.3M962 998.6v9.2M966 868.2v12.5M966 967.1v9.7M966 1175.2v16.0M966 1199.1v7.9M970 1156.1v8.1M970 1196.3v8.0M974 809.6v17.0M974 906.1v11.3M974 1235.0v6.6M978 833.1v15.0M978 922.8v10.9M982 786.4v54.0M982 855.0v13.7M982 917.5v11.1M982 1028.0v9.1M990 824.7v31.1M990 1058.3v8.9M994 796.1v19.6M994 947.8v10.6M994 1055.1v9.0M998 1121.5v8.5M1002 830.8v16.2M1002 1202.4v8.1M1006 748.8v30.9M1006 802.7v36.5M1006 1107.3v8.7M1010 927.1v11.5M1014 955.9v10.8M1018 952.1v11.0M1022 798.7v20.7M1022 837.6v16.4M1026 845.9v15.9M1026 940.6v11.5M1026 1082.4v9.1M1026 1170.5v8.5M1026 1187.4v8.4M1030 820.2v18.4M1038 884.1v13.9M1038 936.3v11.9M1042 806.8v20.6M1042 931.1v12.1M1042 1087.7v9.3M1046 814.4v19.8M1046 1101.7v9.2M1050 751.2v26.6M1050 861.0v15.7M1050 1108.2v9.2M1050 1135.4v8.9M1054 814.6v20.2M1054 995.7v10.7M1054 1086.2v9.4M1058 918.9v12.9M1058 968.1v11.4M1058 1012.2v10.5M1058 1062.9v9.7M1062 1088.8v9.5M1062 1162.1v17.6M1066 906.9v13.6M1066 1014.6v10.6M1070 926.8v12.9M1070 1146.6v9.0M1074 766.1v30.5M1086 779.2v50.6M1090 1070.3v10.0M1094 1143.6v9.3M1098 788.2v26.7M1102 825.5v21.0M1102 865.2v17.1M1102 1118.0v19.1M1106 747.6v35.5M1106 872.6v16.7M1106 919.8v27.6M1106 997.1v11.6M1106 1073.5v10.2M1106 1103.8v9.8M1106 1142.4v9.0M1110 753.3v9.5M1110 822.3v21.7M1110 880.8v16.3M1114 1033.7v11.0M1114 1126.5v9.7M1118 927.3v14.1M1118 1131.4v9.0M1126 792.9v27.2M1126 881.0v16.8M1126 1029.7v22.2M1130 948.3v13.5M1134 941.5v13.9M1134 1115.3v9.6M1142 740.1v44.9M1142 896.4v16.3M1146 825.6v22.8M1150 808.5v25.6M1150 1042.8v11.3M1154 1015.1v12.0M1154 1072.6v10.9M1158 808.9v25.9M1162 792.1v29.3M1162 1051.7v11.3M1162 1085.1v9.4M1166 1033.2v23.3M1182 1035.3v12.0M1186 776.7v34.4M1186 1042.3v11.9M1202 1032.0v10.9M1210 757.2v72.5M1218 752.0v1.9M1218 798.0v30.9M1218 979.0v14.3M1222 839.2v24.2M1230 838.1v46.4M1234 746.2v40.7M1238 751.2v7.1M1246 797.5v32.4M1274 751.1v4.1M1274 835.1v26.8M1278 781.0v38.3M1282 858.1v22.9"/>
<path stroke="#0056d2" stroke-width="4" d="M94 751.2v38.2M114 748.3v36.0M134 842.1v25.2M138 745.9v2.2M138 856.7v23.2M138 900.8v19.2M142 760.6v17.6M142 844.7v24.5M150 847.4v23.9M150 930.2v17.0M154 838.2v46.9M158 894.9v19.1M158 931.7v16.7M162 837.1v46.6M162 985.5v14.1M166 851.0v22.9M170 985.9v14.1M178 843.3v23.3M178 887.4v19.0M178 999.9v13.5M182 859.0v21.4M182 899.8v18.0M186 846.1v22.7M186 1026.2v11.8M194 1014.0v12.8M198 808.7v27.6M202 972.9v13.9M202 1038.3v12.1M206 900.8v17.3M206 1042.7v11.9M210 984.6v13.3M210 1010.8v12.6M210 1047.7v11.7M214 786.2v31.5M214 865.0v19.7M218 754.7v11.5M218 830.7v23.3M218 1047.4v11.6M226 998.5v12.6M230 866.7v19.0M234 928.4v15.0M238 765.9v57.0M238 1026.8v11.7M242 784.6v30.3M242 944.1v14.1M242 1033.8v11.5M246 889.4v16.8M246 965.1v13.3M246 1083.3v10.6M250 815.1v24.1M250 912.8v15.3M254 830.0v41.4M254 1081.3v10.5M258 994.4v12.2M258 1018.4v11.6M262 1120.5v9.0M266 818.8v22.9M266 955.4v13.2M274 751.0v11.1M274 1112.4v9.9M278 855.1v18.4M282 845.3v36.6M282 1090.2v10.0M282 1129.6v9.6M286 855.6v18.0M286 1084.2v10.1M290 825.4v21.0M298 1077.6v10.0M302 759.4v80.1M302 921.0v13.6M302 996.0v11.3M306 1094.6v9.7M310 821.2v20.6M310 1118.1v9.4M314 1149.7v18.1M318 1067.9v9.9M318 1134.6v9.2M322 753.7v32.7M326 861.9v16.1M326 1014.9v10.5M326 1085.4v9.6M326 1150.4v9.0M326 1177.1v7.7M330 852.5v16.7M334 862.7v15.8M338 1123.5v9.1M342 863.6v15.5M342 957.3v11.5M346 817.8v19.4M346 1191.4v7.8M350 828.5v18.0M350 878.3v14.3M350 955.5v11.4M350 1020.2v10.1M350 1151.1v8.7M354 899.2v25.9M358 787.7v23.1M358 1067.5v9.4M362 1088.5v9.1M370 776.2v24.7M370 870.5v14.1M370 1000.2v20.0M370 1165.1v16.9M374 762.6v27.6M374 863.1v14.4M382 791.2v21.2M382 830.7v45.9M382 1147.4v8.5M386 1117.3v8.6M386 1134.5v8.5M390 769.6v24.8M390 832.4v16.0M390 1075.4v8.9M390 1093.2v8.8M390 1153.3v8.4M394 884.7v12.7M394 932.8v11.1M394 1024.5v18.7M398 913.6v11.5M398 1199.2v8.1M406 986.8v9.7M410 765.7v24.3M410 827.2v15.6M410 1191.1v8.1M414 1003.9v9.4M414 1110.2v8.4M414 1168.2v8.1M418 1104.4v8.4M418 1137.7v8.2M422 799.5v17.9M422 833.4v14.7M422 874.7v12.3M422 1046.7v8.8M422 1236.1v7.8M426 1094.0v8.4M426 1127.3v8.2M430 803.4v17.0M430 875.9v12.0M430 962.4v9.7M430 1194.1v7.9M430 1209.9v7.9M434 1179.7v7.9M438 1007.1v9.0M438 1118.2v8.2M438 1166.6v8.0M438 1206.1v7.8M442 1036.2v8.7M446 1004.0v8.9M446 1030.5v8.7M450 922.0v10.1M450 951.8v9.6M450 1050.4v8.5M458 1013.4v8.7M458 1238.3v7.6M462 1024.2v8.5M462 1074.4v8.2M466 1195.6v7.7M470 1174.6v7.7M474 954.4v9.1M474 1105.9v7.9M478 967.1v8.9M486 1158.4v7.7M486 1196.6v7.6M490 1026.4v8.2M490 1129.6v7.7M490 1198.4v7.5M490 1250.9v7.5M494 970.6v8.6M494 1037.3v8.1M494 1085.2v7.9M494 1162.5v7.6M498 1023.4v8.1M498 1047.6v8.0M502 1119.9v7.7M502 1180.7v7.5M506 798.4v13.7M506 1043.6v7.9M506 1067.3v7.8M506 1082.9v7.8M506 1174.5v7.5M506 1256.5v7.4M510 1138.2v7.6M514 746.2v20.9M514 824.1v11.6M514 941.5v8.6M514 1251.9v7.4M518 757.7v18.1M518 1049.7v7.8M522 963.6v8.3M522 1028.1v7.9M522 1082.5v7.6M522 1276.1v6.9M526 1107.1v7.6M534 857.8v9.6M534 1065.1v7.6M534 1236.1v7.3M534 1250.7v7.3M538 768.9v14.8M538 997.1v23.5M538 1119.3v7.5M542 741.7v19.4M542 776.8v13.7M542 825.4v10.5M542 883.5v8.9M542 1075.9v7.5M546 783.7v12.8M546 961.8v8.0M546 1077.5v7.5M546 1099.9v7.4M550 940.6v8.1M550 1019.1v15.3M550 1094.6v7.4M554 738.7v13.8M554 1034.9v7.6M554 1117.1v7.4M554 1168.4v7.3M554 1197.6v7.3M558 823.0v10.0M558 937.0v8.0M558 1060.1v7.5M558 1271.9v7.2M562 977.8v7.7M562 1178.5v7.3M566 1114.4v7.3M566 1194.4v7.2M570 965.7v7.7M570 1070.9v7.4M574 774.6v11.9M574 1035.1v7.4M574 1072.1v7.3M574 1166.7v7.2M574 1217.2v7.2M578 742.9v11.4M578 1109.9v7.3M582 1103.7v7.3M586 754.8v1.5M586 872.4v8.1M586 1170.7v14.4M586 1199.4v7.2M586 1213.7v7.2M590 759.4v3.3M590 997.4v7.4M590 1128.5v7.2M590 1193.1v7.2M594 750.6v4.1M598 755.6v5.9M598 1201.6v7.1M598 1237.2v7.1M598 1286.9v7.1M602 840.9v16.3M606 890.7v7.7M606 1153.4v7.1M606 1260.0v7.1M606 1295.4v6.0M610 754.3v21.6M610 812.6v8.5M610 845.7v15.8M610 1118.4v7.1M610 1295.9v6.1M614 759.4v20.4M614 815.3v8.3M614 847.8v15.7M614 968.1v7.3M614 1011.7v7.2M614 1154.8v7.1M614 1176.1v7.1M618 772.7v9.5M618 856.6v7.7M618 1011.7v7.2M618 1246.6v7.1M622 828.1v7.9M626 770.7v9.1M626 813.6v8.0M626 852.7v7.6M626 897.7v7.4M626 1056.6v7.1M626 1269.0v14.1M630 756.3v9.7M630 993.9v7.2M630 1051.0v14.2M634 817.9v7.8M634 1043.8v7.1M634 1093.5v21.2M634 1192.4v7.1M634 1255.8v7.0M638 879.5v7.3M638 1171.7v7.0M642 829.4v7.5M642 960.2v7.1M642 1151.4v7.0M646 831.5v7.4M646 1124.3v7.0M646 1138.4v7.0M646 1173.6v7.0M646 1208.7v7.0M646 1293.1v7.0M650 786.7v7.7M654 803.5v14.8M654 833.0v7.3M654 876.4v7.2M658 790.6v7.5M658 805.5v14.7M658 834.7v7.2M658 885.0v7.1M658 1075.8v7.0M658 1272.4v7.0M662 785.0v7.4M662 814.4v14.5M662 836.1v7.2M662 886.0v7.1M662 928.6v7.1M662 949.8v7.1M662 1020.2v7.0M662 1034.3v7.0M662 1139.7v7.0M666 770.6v7.4M666 792.7v28.9M666 836.0v7.1M666 850.3v7.1M666 885.8v7.1M666 1230.2v7.0M670 801.7v14.3M670 823.1v7.1M670 887.0v7.1M670 943.3v7.0M670 1104.8v7.0M670 1189.0v7.0M674 802.4v14.2M674 830.9v7.1M674 957.7v7.0M674 1210.1v7.0M678 803.0v14.2M678 824.2v7.1M678 999.9v7.0M678 1147.0v7.0M682 825.3v7.0M682 902.5v7.0M682 1014.7v7.0M682 1126.8v7.0M682 1147.8v7.0M682 1196.8v7.0M682 1217.8v7.0M686 804.2v7.0M686 1049.5v7.0M686 1224.5v7.0M690 811.2v7.0M690 839.3v7.0M690 937.3v7.0M690 1070.3v7.0M690 1210.3v7.0M694 812.0v7.0M698 812.0v7.0M698 833.0v7.0M698 1001.1v7.0M698 1106.1v7.0M698 1120.1v7.0M698 1134.1v7.0M698 1176.1v14.0M702 811.2v7.0M702 867.3v7.0M702 965.3v7.0M702 1042.3v14.0M702 1203.4v7.0M702 1252.4v7.0M706 775.6v7.0M706 810.8v7.0M706 1028.1v7.0M706 1105.1v7.0M706 1231.1v7.0M710 774.9v7.1M710 1132.9v7.0M714 774.8v7.2M714 923.1v7.0M714 1028.3v7.0M714 1154.4v7.0M718 773.4v7.2M718 809.3v7.1M718 1294.0v7.0M722 772.6v7.3M722 837.4v7.1M722 1196.1v7.0M722 1217.1v7.0M722 1252.1v7.0M726 770.5v7.5M726 828.8v7.2M726 1174.2v7.0M730 1005.5v7.0M730 1237.3v7.0M734 863.3v7.2M734 1138.9v7.0M734 1300.3v6.5M738 877.0v7.2M738 1152.8v7.0M738 1251.1v7.0M742 754.8v8.5M742 779.6v7.8M742 1061.2v7.1M742 1082.3v7.0M746 768.8v8.2M746 1123.9v7.0M746 1145.0v7.0M746 1278.7v7.0M750 829.7v7.5M750 932.0v7.2M750 1285.6v14.1M754 820.3v7.7M754 1023.9v7.1M758 785.1v0.7M758 818.1v7.8M758 1284.3v7.0M762 816.6v7.9M762 929.0v7.3M762 1270.3v7.0M762 1284.4v7.0M766 813.6v8.0M766 1013.8v7.2M766 1177.4v14.1M766 1212.7v7.1M770 1105.5v7.1M770 1119.7v7.1M770 1254.2v7.1M774 848.6v15.5M774 1104.8v7.1M774 1211.3v7.1M774 1281.9v7.1M774 1296.1v6.9M778 855.4v7.8M778 916.3v7.4M778 1261.0v7.1M782 774.3v9.9M782 819.8v8.4M786 851.1v8.0M786 1067.2v7.2M786 1181.7v7.1M790 806.2v17.6M790 849.0v8.1M794 802.6v18.1M794 829.4v8.5M794 862.7v8.0M794 984.9v7.4M794 1122.9v7.2M798 808.3v9.2M798 843.6v8.4M798 998.3v7.4M798 1042.3v7.3M798 1071.4v7.2M802 804.1v9.5M802 840.3v8.5M802 1084.3v7.2M802 1113.3v7.2M802 1163.6v7.2M802 1263.7v7.1M802 1277.9v7.1M806 838.2v8.7M806 927.6v7.7M806 1083.9v7.3M806 1105.7v7.2M810 833.9v8.9M810 1089.1v7.3M810 1190.2v7.2M810 1204.6v7.2M814 830.8v9.1M814 1095.4v14.6M814 1246.9v7.2M818 797.9v10.4M818 837.1v9.0M818 1072.6v7.3M818 1246.5v7.2M822 735.6v0.9M822 768.9v12.7M822 935.0v7.9M822 1026.9v7.5M822 1093.5v7.3M822 1122.8v14.6M822 1151.9v7.3M822 1260.0v7.2M826 1208.0v7.2M830 767.4v13.4M830 1192.3v7.2M834 821.8v10.0M834 991.3v7.7M834 1029.4v7.6M834 1206.4v7.2M838 1147.5v7.3M838 1234.8v7.2M838 1278.1v7.2M842 813.2v10.7M842 906.9v8.4M842 948.1v8.0M842 1026.4v7.6M842 1049.2v7.6M842 1189.9v7.3M846 807.0v11.2M846 920.2v8.3M846 1016.1v7.7M846 1061.9v7.5M846 1121.7v7.4M846 1158.6v7.3M846 1209.9v7.3M850 883.5v8.9M850 983.6v7.9M850 1121.0v7.4M850 1209.4v7.3M854 1244.3v7.3M858 736.7v21.7M858 856.9v9.7M858 1041.5v7.7M858 1132.4v7.5M858 1250.2v7.3M858 1264.8v7.3M862 1130.9v7.5M862 1234.4v7.3M866 1013.9v7.9M866 1129.2v7.5M870 782.9v27.3M870 865.0v9.8M874 1164.4v7.5M874 1253.3v7.3M874 1267.9v7.3M878 992.0v8.2M878 1178.0v7.5M878 1207.8v7.4M878 1274.1v6.3M882 1092.6v7.7M882 1265.3v7.4M886 917.5v9.1M886 1059.7v7.9M886 1144.7v7.6M886 1167.4v7.5M890 788.8v14.8M890 1179.8v7.5M894 747.3v16.5M894 919.6v18.3M894 1179.1v7.5M894 1216.7v7.5M898 866.5v10.5M898 1029.1v8.1M898 1077.3v7.9M902 911.6v9.5M902 992.3v8.5M902 1167.5v7.6M902 1242.9v7.5M906 927.1v9.3M906 972.3v8.7M906 1142.8v7.7M910 903.7v9.8M910 1061.6v16.1M910 1239.8v7.5M914 1192.8v7.6M914 1245.9v7.5M918 885.9v10.5M918 1007.5v8.5M918 1024.5v8.4M918 1106.1v7.9M918 1168.7v7.7M922 986.7v8.8M922 1021.3v8.5M922 1166.3v7.7M926 908.4v10.1M926 956.9v9.2M926 993.1v8.8M930 1032.4v8.5M934 919.0v10.0M938 846.5v12.7M938 893.8v10.8M938 1009.4v8.8M938 1126.3v8.0M938 1220.5v7.7M942 889.4v11.0M942 921.4v10.2M942 979.5v9.2M942 1067.0v8.3M942 1132.4v8.0M942 1180.0v7.8M946 871.8v11.8M946 946.8v9.7M954 784.0v19.1M954 940.1v10.0M958 891.1v11.4M958 974.3v9.5M958 1130.9v16.2M958 1187.1v7.9M962 885.3v11.7M962 919.2v10.6M966 904.2v11.2M966 995.8v9.3M970 832.3v14.8M970 873.8v12.4M970 972.2v9.7M970 1081.1v8.5M974 766.6v23.6M974 1113.5v8.4M978 776.3v21.9M978 1003.8v9.4M982 1140.9v8.3M982 1173.8v8.1M982 1190.0v8.1M982 1206.1v8.0M986 744.9v30.7M986 1034.6v9.1M986 1070.6v8.8M986 1163.9v8.2M986 1204.6v8.0M990 806.6v18.1M990 855.9v13.9M990 1093.5v8.6M990 1144.6v8.3M994 738.7v33.6M994 1036.8v18.3M998 882.3v12.8M1006 1062.7v9.1M1010 876.6v13.5M1010 1147.6v8.5M1014 738.3v5.6M1014 821.1v17.6M1014 1074.4v9.1M1014 1127.6v8.6M1018 878.1v26.6M1018 1062.6v9.2M1022 735.1v1.3M1022 819.4v18.1M1022 869.2v14.2M1026 903.8v24.9M1026 1195.8v8.3M1030 870.7v14.4M1030 898.7v13.0M1030 1012.4v10.0M1030 1133.8v8.7M1038 795.2v22.1M1038 898.0v13.3M1038 1033.5v9.8M1042 862.1v15.3M1042 891.9v13.7M1046 883.2v14.2M1046 1155.6v8.7M1050 844.0v17.0M1050 876.7v14.7M1050 905.3v13.3M1058 876.3v15.0M1058 1155.8v8.9M1062 1098.2v9.4M1066 1094.8v9.5M1066 1168.1v8.8M1070 785.7v25.6M1070 899.2v14.1M1070 1051.3v10.0M1070 1137.5v9.1M1070 1155.6v9.0M1074 858.9v16.7M1074 932.9v12.8M1074 1105.6v9.4M1078 850.6v17.5M1078 1121.4v9.3M1082 1127.4v9.3M1082 1145.9v9.2M1086 913.8v13.8M1086 1065.1v20.0M1086 1094.9v9.7M1086 1133.0v9.3M1090 816.3v21.6M1090 959.4v12.3M1090 1156.7v8.6M1094 939.9v13.0M1098 837.0v19.5M1098 1019.3v11.0M1102 898.3v15.0M1102 991.3v11.7M1106 811.3v23.1M1106 1020.0v11.1M1106 1123.3v9.6M1110 1058.8v10.5M1114 1011.2v11.4M1118 749.7v44.3M1122 852.1v18.9M1126 1114.4v9.9M1130 974.8v12.6M1130 1046.0v11.0M1134 786.3v52.8M1138 803.0v25.9M1142 1008.1v12.0M1154 903.4v16.2M1166 802.1v27.5M1166 852.7v20.5M1170 815.2v25.4M1170 862.6v19.7M1170 948.1v14.4M1170 976.4v13.4M1178 883.2v18.2M1178 1029.8v12.1M1186 917.2v16.3M1186 1054.2v10.7M1198 999.3v13.2M1202 805.5v28.6M1202 879.4v19.3M1206 866.6v20.6M1210 896.4v18.3M1214 840.9v23.6M1214 939.3v15.8M1226 912.2v17.7M1230 808.8v29.3M1234 912.2v17.9M1254 876.5v21.2M1258 810.9v30.2M1266 838.1v26.0M1278 819.4v29.5M1286 744.2v27.6M1286 844.4v23.6M1294 761.3v46.0M1302 733.0v23.2"/>
<path stroke="#0065e3" stroke-width="4" d="M106 845.9v24.2M114 875.6v19.1M118 865.4v40.4M122 875.1v21.9M134 867.3v22.2M142 815.8v28.9M142 891.0v19.8M150 784.0v35.5M154 905.0v35.7M158 979.4v13.1M166 873.8v20.5M166 978.1v14.4M174 830.4v25.2M182 834.7v24.3M186 957.0v14.9M190 879.8v19.2M190 1006.4v13.1M194 825.5v25.1M194 973.2v14.1M198 964.0v14.3M198 1031.0v12.3M202 753.8v3.6M202 798.3v53.8M202 958.5v14.4M210 826.6v24.2M214 902.8v32.8M214 1030.6v12.0M218 854.0v39.4M222 951.2v14.3M226 1023.4v12.0M230 885.8v17.6M230 1040.1v11.6M230 1074.1v10.9M234 836.2v22.0M234 1010.1v12.2M242 1022.1v11.8M246 802.8v48.7M246 1003.7v12.1M246 1093.9v10.4M250 839.2v39.9M254 752.8v18.6M254 889.3v16.6M254 1048.7v11.0M258 1105.3v10.1M262 976.5v12.6M262 1036.2v11.2M266 861.8v18.2M266 968.6v12.7M266 993.7v12.0M270 1034.3v11.1M278 750.9v60.4M278 1116.3v9.8M290 865.0v17.1M294 874.2v16.3M298 1046.8v10.4M298 1097.5v9.7M302 749.0v10.4M302 858.4v33.2M302 934.6v13.1M302 960.3v12.2M302 1070.9v19.9M302 1100.6v9.7M302 1119.9v9.5M306 977.9v11.7M306 1044.3v10.4M310 1059.5v10.1M314 885.6v15.0M314 928.4v13.0M314 1103.1v9.5M318 800.2v23.2M318 861.2v16.5M318 893.1v28.3M326 907.4v13.6M326 1141.3v9.0M330 789.0v24.5M330 884.7v14.6M330 913.1v13.2M334 893.3v14.0M334 992.1v10.8M334 1013.5v10.4M338 853.6v16.3M338 1037.8v10.0M342 782.6v25.0M342 1032.7v10.0M342 1171.9v8.7M342 1189.1v7.2M350 1030.3v9.9M350 1050.0v9.7M350 1159.8v8.7M354 819.2v18.9M354 885.4v13.8M354 1003.9v20.4M354 1109.7v9.0M358 757.5v30.2M362 923.7v12.1M362 1167.9v17.0M366 789.0v22.5M366 863.6v14.7M366 892.1v13.2M366 1074.1v9.2M366 1136.8v8.7M370 1077.1v9.1M370 1113.1v8.8M374 812.0v18.8M374 983.8v10.3M374 1071.3v9.1M374 1193.0v8.3M378 855.7v14.8M378 977.9v10.4M378 1065.6v9.1M378 1083.8v9.0M378 1162.1v8.4M382 960.6v10.6M382 1002.0v9.9M382 1095.4v8.8M386 871.8v13.6M386 1201.3v8.2M390 756.2v13.3M390 848.4v14.8M390 890.3v12.6M390 1048.2v9.2M390 1084.4v8.8M390 1102.0v8.7M390 1186.5v8.2M394 857.3v14.1M394 1197.9v8.1M398 889.2v12.4M402 941.4v10.7M406 1006.2v9.5M410 857.3v13.6M414 798.8v18.4M418 905.3v11.3M418 1061.4v8.7M418 1087.4v8.5M422 861.7v12.9M422 992.0v9.4M422 1037.9v8.9M426 771.1v56.9M426 927.5v10.5M426 1024.4v9.0M426 1059.8v8.6M426 1102.4v8.4M426 1143.7v8.1M426 1239.2v6.6M430 850.0v25.9M430 910.7v10.9M430 1027.7v8.9M434 792.9v18.1M434 925.1v10.4M434 993.8v9.2M438 862.6v12.4M442 1103.7v8.2M442 1168.2v7.9M446 873.4v11.7M454 906.3v10.4M454 983.9v9.0M454 1135.4v8.0M458 995.8v8.8M462 1057.9v8.3M462 1138.8v7.9M462 1208.8v7.7M466 1093.5v8.0M466 1109.5v8.0M466 1249.1v14.5M470 1004.8v8.6M470 1159.1v7.8M474 1129.6v7.8M482 1054.7v16.2M482 1078.9v8.0M482 1094.8v15.8M482 1180.3v7.6M482 1210.7v7.6M486 1072.4v15.9M486 1143.0v7.7M490 1137.3v7.7M490 1221.0v7.5M490 1236.0v7.5M494 1061.5v8.0M494 1093.1v7.8M494 1116.4v15.5M498 743.8v21.5M498 947.3v8.8M498 1254.1v7.4M502 1041.6v8.0M502 1073.3v7.8M502 1104.5v7.7M502 1262.7v7.4M506 836.5v11.3M506 935.3v8.8M506 1129.1v7.6M506 1241.7v7.4M510 964.0v8.4M510 1168.4v7.5M510 1257.6v7.4M514 877.4v9.7M514 1016.2v8.0M514 1047.9v7.8M514 1125.0v7.6M514 1140.2v7.5M514 1244.5v7.4M518 899.8v9.1M518 944.1v8.5M518 1223.5v7.4M522 797.8v12.9M522 946.8v16.8M522 1128.0v7.5M522 1195.2v7.4M522 1246.8v7.3M526 1045.8v7.7M526 1233.5v7.3M526 1248.1v7.3M526 1270.0v14.1M530 769.0v15.4M530 873.5v9.4M530 1131.5v7.5M530 1161.3v7.4M534 776.8v14.2M534 946.6v8.3M534 1243.4v7.3M538 861.4v18.7M538 1104.3v15.0M542 1216.5v7.3M546 937.5v8.2M546 977.7v7.9M546 1203.1v7.3M550 824.8v10.2M550 1042.0v7.6M554 1262.7v7.2M558 1022.5v7.6M558 1052.7v7.5M558 1170.6v7.3M558 1185.2v7.3M566 810.8v10.1M566 1129.1v7.3M566 1180.0v7.2M566 1273.6v7.2M570 750.0v4.0M570 1122.2v7.3M574 807.9v19.5M574 1079.4v7.3M574 1116.0v7.3M574 1145.0v7.2M578 812.2v18.9M578 849.0v8.7M578 1044.0v7.4M578 1196.7v21.5M582 815.9v9.3M582 955.7v7.6M582 985.9v7.5M582 1023.2v7.4M582 1052.7v7.3M582 1089.2v7.3M582 1132.7v7.2M586 1054.9v7.3M590 795.8v9.8M590 824.0v8.9M590 937.3v7.6M594 1092.7v7.2M594 1214.6v7.1M594 1257.4v7.1M598 846.6v8.2M598 1115.7v7.2M598 1258.5v7.1M598 1294.0v6.2M602 806.4v8.9M602 1037.4v7.2M602 1131.0v7.2M602 1287.6v7.1M606 800.9v8.9M606 875.3v7.8M606 928.6v7.5M606 1045.9v7.2M610 785.7v9.3M610 803.9v8.7M610 1161.2v7.1M610 1239.3v7.1M614 779.8v9.3M614 806.8v8.5M614 823.6v8.2M614 953.5v7.3M614 1026.1v7.2M614 1225.7v7.1M614 1282.3v7.1M618 816.8v8.2M618 833.0v7.9M618 879.5v7.6M618 1076.2v7.1M618 1104.8v14.2M622 786.4v17.2M622 820.1v8.0M622 1155.9v7.1M622 1191.4v7.1M626 797.2v8.3M626 821.6v7.9M626 845.0v7.7M626 934.3v7.3M626 1120.5v7.1M630 792.4v16.4M630 824.6v7.8M630 972.4v7.2M630 1072.3v7.1M630 1150.3v7.1M634 794.0v16.1M634 825.7v7.7M634 840.9v7.6M634 878.3v7.4M634 900.3v7.3M634 936.5v7.2M634 1291.0v7.0M638 796.3v15.8M638 827.4v7.6M638 901.4v7.3M638 1101.1v7.1M642 798.8v15.5M642 881.1v7.3M642 953.1v7.1M642 1002.9v7.1M646 801.3v7.6M646 824.1v7.5M646 882.7v7.2M646 954.4v7.1M646 1089.0v7.1M646 1257.9v7.0M650 802.0v7.5M650 868.3v7.2M650 882.8v7.2M650 1081.5v7.0M650 1222.2v7.0M650 1264.3v7.0M654 976.0v7.1M654 1243.4v7.0M658 841.9v7.2M658 1216.2v7.0M658 1286.4v7.0M662 843.2v7.2M666 843.1v7.1M666 1153.1v7.0M666 1223.2v7.0M670 844.5v7.1M670 1132.9v7.0M674 1112.0v14.0M678 774.5v7.1M678 1077.0v7.0M678 1161.0v7.0M678 1231.1v7.0M682 846.4v7.0M686 818.2v7.0M686 1028.5v7.0M690 797.2v7.0M690 825.2v7.0M690 853.3v7.0M690 944.3v7.0M690 1077.3v7.0M690 1147.3v7.0M690 1203.3v7.0M690 1259.3v7.0M690 1294.3v7.0M694 826.0v7.0M694 952.0v7.0M694 1113.0v7.0M694 1239.0v7.0M698 819.0v14.0M698 889.1v7.0M698 945.1v7.0M698 1099.1v7.0M702 818.2v14.0M702 1147.4v7.0M702 1161.4v7.0M702 1301.4v6.6M706 817.8v7.0M706 937.0v7.0M706 1007.1v7.0M706 1112.1v7.0M710 817.3v14.1M710 866.5v7.0M710 1013.8v7.0M710 1027.8v7.0M710 1153.9v7.0M710 1202.9v7.0M714 810.4v14.1M714 852.8v7.0M714 880.9v7.0M714 951.2v7.0M714 1007.3v7.0M714 1035.3v7.0M714 1168.4v7.0M718 816.4v7.1M718 837.7v7.1M718 936.4v7.0M722 816.0v7.1M722 879.9v7.1M722 957.5v7.0M722 1280.2v7.0M726 836.0v7.1M726 878.7v7.1M726 1068.9v7.0M730 813.6v7.3M730 835.3v7.2M730 878.2v7.1M730 949.1v7.1M730 1040.7v7.0M730 1209.2v7.0M734 812.6v7.3M734 827.2v14.5M734 870.5v14.3M734 1005.2v7.1M734 1096.7v7.0M738 811.5v14.8M738 833.6v7.3M738 1110.6v7.0M742 832.6v7.4M742 1011.7v7.1M742 1152.7v7.0M742 1187.9v7.0M746 816.0v7.5M746 911.1v7.2M746 1074.5v14.1M746 1180.2v7.0M750 806.9v15.3M750 996.2v7.1M750 1067.1v7.1M750 1095.4v7.1M750 1215.2v7.0M750 1299.6v6.0M754 812.6v7.7M754 1186.5v7.0M754 1200.6v14.1M754 1264.0v7.0M758 785.8v8.3M758 810.2v7.9M758 833.5v7.6M758 1001.4v14.3M758 1164.5v7.1M762 885.0v7.4M762 1199.8v7.1M762 1263.3v7.0M766 797.1v8.3M766 829.5v7.8M766 845.0v7.7M766 1078.1v7.1M766 1127.8v7.1M766 1163.2v7.1M766 1297.4v6.6M770 827.0v7.9M770 1112.6v7.1M770 1226.0v7.1M770 1261.3v7.1M770 1282.5v7.1M774 824.8v8.1M774 840.8v7.9M778 823.3v8.2M778 839.5v15.8M778 1004.3v7.2M778 1054.7v7.2M778 1076.2v7.2M778 1097.7v7.1M778 1168.9v7.1M778 1190.2v7.1M778 1211.5v7.1M778 1254.0v7.1M778 1282.2v7.1M778 1296.4v6.1M782 987.9v7.3M782 1009.7v21.7M782 1266.8v7.1M786 790.9v9.3M786 834.8v8.2M786 994.8v7.3M786 1160.3v7.1M786 1174.6v7.1M790 873.0v7.9M790 926.9v7.5M790 1022.9v7.3M790 1095.2v7.2M790 1259.3v7.1M794 783.0v10.0M794 1279.8v7.1M798 778.4v10.5M798 826.4v8.7M798 907.9v7.7M798 1013.0v7.3M798 1093.1v7.2M798 1215.0v7.1M802 897.6v7.8M802 1069.8v7.3M802 1178.0v7.2M806 935.3v7.7M806 1010.6v7.4M806 1062.1v7.3M806 1098.4v7.2M810 738.0v7.5M810 805.7v9.7M810 1037.8v7.4M810 1226.1v7.2M814 866.0v8.4M814 1029.2v7.4M818 897.1v8.1M818 929.1v7.8M818 1138.3v7.3M818 1232.1v7.2M822 793.3v10.9M822 824.3v9.5M822 894.8v8.2M822 1078.8v7.4M822 1144.6v7.3M822 1173.6v7.2M822 1202.5v7.2M826 819.3v9.8M826 940.0v7.9M826 1113.5v7.3M826 1157.3v7.3M826 1179.1v7.2M826 1258.4v7.2M830 741.4v10.4M830 834.8v9.5M830 1022.8v7.5M830 1126.8v7.3M830 1170.5v7.3M830 1214.0v7.2M834 738.5v5.3M834 811.4v10.5M834 1184.6v7.3M834 1235.4v7.2M834 1257.0v7.2M838 818.2v10.3M838 909.8v8.3M838 1191.3v7.3M842 789.8v12.1M842 862.9v9.1M842 940.1v8.1M842 1079.3v7.5M842 1168.0v7.3M846 782.1v13.0M846 1008.4v7.7M846 1129.1v7.4M850 776.6v13.7M850 1098.7v14.9M850 1194.8v7.3M854 808.6v11.5M854 940.4v8.3M854 1111.7v7.5M854 1171.1v7.4M858 802.5v12.0M858 903.2v8.8M858 929.1v8.4M858 1139.8v7.4M862 872.3v9.4M862 900.0v8.9M862 951.6v8.3M862 1115.9v15.0M862 1168.1v7.4M866 753.6v3.1M866 815.2v11.6M866 914.5v17.4M866 1021.8v7.9M866 1181.4v7.4M866 1218.3v14.7M870 810.2v12.1M870 920.8v8.7M870 946.7v8.4M870 1097.7v7.6M874 1141.9v7.5M874 1238.6v7.4M878 798.3v13.3M882 883.0v9.7M886 898.8v9.4M886 926.5v8.9M886 978.6v8.4M886 1067.6v7.8M890 931.1v9.0M890 1008.2v8.2M890 1119.0v7.7M890 1172.3v7.5M890 1217.3v7.5M890 1232.2v7.4M894 763.8v18.5M894 880.9v10.0M894 1118.0v7.7M894 1148.7v7.6M894 1171.5v7.6M898 844.2v22.3M898 925.8v9.2M898 961.7v8.7M898 1131.9v7.7M898 1215.4v7.5M902 780.0v16.6M902 849.1v11.3M902 892.0v9.9M902 930.4v9.2M902 1136.8v7.7M906 770.4v18.2M906 855.6v11.2M906 877.5v10.4M906 1119.5v7.8M910 758.0v20.9M910 825.0v12.8M910 969.0v8.8M910 986.5v8.6M910 1020.5v8.3M910 1140.7v7.7M914 844.6v11.9M914 889.4v10.3M914 1009.5v16.9M914 1138.9v7.8M914 1154.4v7.7M918 935.8v9.4M918 1145.4v7.8M922 767.5v19.8M922 880.5v10.8M922 950.5v9.2M922 1095.4v8.0M922 1189.5v7.7M926 754.7v1.4M926 853.1v11.9M926 918.5v9.9M926 938.1v9.5M926 975.2v9.0M926 1109.8v8.0M926 1133.6v15.7M930 743.2v42.3M930 832.6v13.2M930 933.2v9.7M930 1162.1v7.8M934 938.9v9.6M934 1152.1v7.9M934 1175.6v7.8M938 1102.1v8.1M938 1181.7v7.8M942 878.0v11.4M942 1058.5v8.4M942 1148.4v7.9M946 817.9v14.9M946 1088.8v8.3M946 1153.7v7.9M950 878.1v11.6M950 1094.5v8.3M950 1191.0v7.8M950 1206.7v7.8M954 886.2v11.4M954 988.4v9.2M954 1015.8v8.9M954 1084.9v8.4M954 1237.1v7.7M958 879.3v11.8M958 902.5v11.0M958 1163.2v8.0M958 1210.8v7.8M962 832.5v14.4M966 841.0v14.0M966 1014.3v9.1M970 1063.9v8.7M970 1123.2v8.3M974 790.2v19.4M974 1154.9v16.3M978 816.7v16.4M978 1110.3v8.4M978 1160.1v8.2M978 1176.3v8.1M982 735.4v25.4M982 840.4v14.7M982 939.5v20.9M982 1107.3v8.5M982 1214.1v8.0M990 1084.8v8.7M994 1216.0v8.0M998 749.9v2.3M998 839.2v15.4M998 868.9v13.5M1002 862.0v14.0M1002 889.2v12.6M1002 1038.3v9.3M1002 1186.0v8.2M1006 908.6v12.0M1006 1158.7v8.4M1010 1156.1v8.4M1010 1197.8v8.2M1014 838.8v16.0M1018 848.2v15.4M1022 967.9v10.7M1022 1181.5v8.4M1026 1178.9v8.4M1030 936.3v11.7M1030 1098.2v9.0M1034 783.6v23.9M1034 876.8v14.2M1034 1066.3v9.4M1034 1138.9v8.7M1038 817.3v19.1M1038 911.3v12.7M1042 918.6v12.5M1042 1029.9v9.9M1042 1185.4v8.5M1046 851.9v16.2M1046 1034.7v9.9M1050 989.4v10.8M1050 1188.0v7.9M1058 801.6v22.2M1058 1146.8v8.9M1058 1164.6v8.8M1066 877.4v15.1M1066 1150.2v9.0M1070 832.6v18.8M1070 868.5v15.8M1074 1086.4v9.6M1078 1011.0v21.4M1082 820.3v20.7M1082 934.4v12.9M1082 1006.3v11.0M1086 1001.2v11.2M1086 1151.5v17.0M1094 1105.5v19.2M1098 920.5v13.9M1098 1030.3v10.8M1098 1102.3v9.7M1102 801.0v24.5M1102 1003.0v11.4M1106 973.0v12.2M1110 912.5v14.5M1114 740.9v42.4M1114 1044.7v10.8M1118 862.6v17.9M1118 1071.0v10.4M1118 1101.8v10.0M1122 1044.8v10.9M1122 1097.5v10.1M1126 862.8v18.2M1126 1094.1v10.2M1130 770.2v32.9M1130 828.6v21.8M1130 887.5v16.5M1134 1052.2v21.7M1138 829.0v22.1M1138 920.9v14.9M1138 1059.5v10.9M1146 904.0v16.0M1146 963.3v13.3M1150 856.0v19.6M1154 886.1v17.3M1154 949.6v14.0M1162 903.2v16.4M1178 901.5v17.0M1182 849.8v21.4M1194 735.6v33.1M1194 805.9v28.1M1194 932.2v15.7M1202 834.1v24.0M1210 876.6v19.8M1218 948.7v15.5M1222 749.4v23.6M1222 904.3v18.1M1226 849.5v62.7M1230 750.9v18.8M1238 881.2v20.3M1254 739.4v51.5M1262 896.8v19.7M1270 895.5v19.3M1274 861.9v23.4M1282 830.2v27.9M1294 807.2v31.4"/>
<path stroke="#0079f3" stroke-width="4" d="M122 897.0v19.4M126 865.2v43.3M130 880.0v21.1M134 909.7v18.7M138 920.0v17.9M142 910.8v18.4M146 800.5v31.7M150 892.6v19.5M154 808.4v29.7M154 885.1v19.9M158 762.7v28.0M170 905.1v18.0M170 1000.0v13.1M182 880.4v19.5M190 834.7v23.9M190 1032.1v11.6M194 850.5v21.9M194 892.2v18.2M198 1005.5v12.9M202 852.1v21.4M202 892.9v17.9M206 1005.3v25.3M210 891.3v17.8M214 843.0v22.0M218 893.4v17.4M222 845.6v21.4M222 886.2v17.8M222 936.3v14.9M226 857.0v20.0M226 912.4v16.0M230 845.7v21.1M230 950.0v14.2M230 1016.1v12.1M230 1051.6v11.3M234 778.3v32.3M234 912.6v15.8M242 929.4v14.7M242 1056.6v11.1M246 906.3v15.8M246 1061.7v10.9M250 1054.3v11.0M254 1002.2v12.0M254 1070.6v10.7M258 1041.3v11.1M262 872.3v17.5M262 1100.3v10.1M266 1040.1v11.0M274 1005.5v22.9M274 1039.6v10.9M278 890.4v15.8M278 949.0v13.1M278 1033.3v11.0M282 1110.1v9.8M286 934.6v13.5M286 1094.2v9.9M290 1014.2v11.1M298 884.8v15.5M298 1126.4v9.4M302 1090.9v9.8M306 913.6v13.8M306 1104.3v9.6M310 876.9v15.7M322 927.0v12.9M322 1081.0v9.6M326 844.4v17.5M326 982.0v11.2M330 1069.2v9.7M334 845.6v17.1M334 878.5v14.8M338 1132.6v9.0M342 828.5v18.4M342 893.6v13.8M342 933.2v12.2M342 1145.5v8.8M346 1036.1v9.9M350 808.1v20.4M350 919.2v12.5M350 1194.2v7.7M354 770.6v26.9M354 1034.2v9.8M358 1086.1v9.2M358 1122.3v8.9M358 1183.1v8.5M362 765.0v7.3M362 884.5v26.7M362 980.7v10.6M362 1011.9v10.0M362 1060.6v9.4M366 763.6v25.4M366 830.7v17.2M366 878.3v13.8M366 1045.9v9.5M370 800.8v20.4M370 884.6v13.4M370 946.6v11.2M374 891.1v13.0M374 940.3v11.3M378 757.0v22.0M378 1047.0v9.3M378 1145.1v8.5M382 812.4v18.3M382 949.7v10.9M382 1021.6v9.6M382 1104.2v8.8M382 1172.7v8.3M386 1017.2v9.6M386 1054.9v9.2M390 877.1v13.2M390 915.0v11.7M390 1038.9v9.3M394 807.4v18.4M394 1156.6v8.3M398 925.1v11.2M398 1007.9v9.6M398 1158.1v8.3M398 1182.9v8.2M402 785.8v20.9M402 824.8v16.2M402 1075.8v8.8M410 842.8v14.5M410 870.8v12.9M410 1001.3v9.5M410 1174.9v8.1M414 833.6v15.0M414 1031.6v9.0M414 1049.6v8.9M414 1118.7v8.4M418 916.6v11.0M422 1140.1v8.2M422 1156.4v8.1M426 828.0v14.9M426 856.8v13.1M426 1135.5v8.2M430 835.8v14.2M430 1105.0v8.3M430 1170.3v8.0M434 811.0v16.0M434 892.2v11.3M434 1003.0v9.1M434 1115.1v8.2M438 785.2v18.9M438 835.6v13.9M438 874.9v11.8M438 919.9v20.6M438 988.8v9.2M438 1093.4v8.3M442 1009.7v8.9M442 1027.4v8.7M442 1160.3v7.9M446 763.1v22.4M446 917.7v10.3M446 938.1v9.9M446 1081.4v8.3M446 1138.5v8.0M458 1022.0v8.6M458 1215.3v7.7M462 1066.2v8.2M462 1130.8v7.9M466 1044.3v16.6M466 1069.1v8.2M466 1133.4v7.9M466 1172.5v7.7M466 1187.9v7.7M474 981.4v8.8M474 1073.8v8.1M474 1121.7v7.9M474 1183.9v7.7M478 930.4v9.4M478 1162.9v7.7M482 952.6v9.0M486 749.4v40.5M490 1074.8v7.9M494 741.3v12.4M494 806.5v13.6M494 1192.8v7.5M494 1222.9v7.5M494 1245.3v7.4M498 813.1v12.9M498 1079.3v7.8M498 1261.5v7.4M502 1001.0v8.2M502 1057.6v7.9M502 1089.0v7.8M502 1127.6v7.7M502 1225.6v7.4M506 765.6v17.6M506 969.9v8.4M510 972.4v8.4M510 1242.9v7.4M514 1192.7v7.4M518 775.7v15.3M518 1026.1v15.8M518 1103.7v7.6M518 1193.9v7.4M522 875.1v9.5M522 1090.1v7.6M522 1210.0v7.4M522 1261.5v7.3M526 838.9v10.5M526 941.1v8.4M530 863.9v9.6M534 826.9v10.7M534 1026.6v7.8M534 1095.4v7.5M534 1177.4v7.4M538 1059.0v7.6M538 1081.8v7.5M538 1171.2v7.4M538 1215.2v7.3M542 967.6v8.0M542 1135.7v7.4M546 829.9v10.1M546 1195.8v7.3M546 1253.9v7.2M550 763.1v14.8M550 790.9v12.0M550 924.2v8.2M550 964.6v7.9M550 1219.4v7.3M554 768.6v37.8M554 949.7v8.0M554 996.7v7.7M554 1284.3v7.1M558 777.4v12.6M558 812.6v10.4M558 1228.7v7.2M562 782.6v12.0M562 805.7v10.5M562 1016.0v7.6M566 738.9v8.2M570 1033.8v7.4M574 944.3v7.8M574 1137.8v7.3M574 1253.0v7.2M574 1274.5v7.1M578 1088.1v7.3M582 940.4v7.7M582 1125.5v7.2M582 1147.2v7.2M582 1247.6v7.1M582 1283.3v14.1M586 950.9v15.1M590 774.6v10.9M590 832.9v8.7M594 835.0v8.5M594 851.8v16.4M594 923.0v7.6M594 1114.4v7.2M598 783.5v10.0M598 803.0v9.2M598 1079.7v7.2M598 1108.6v7.2M598 1208.7v7.1M598 1244.3v7.1M602 787.7v9.6M602 857.2v8.0M610 775.9v9.7M610 795.0v9.0M610 821.1v8.3M610 1111.3v7.1M610 1288.8v7.1M614 798.1v8.7M614 863.5v7.7M614 886.5v7.6M614 1147.7v7.1M614 1190.3v7.1M614 1268.2v7.1M618 745.0v6.8M618 791.2v8.8M618 864.3v7.7M618 1097.6v7.1M618 1133.2v7.1M618 1197.1v7.1M618 1211.2v7.1M618 1267.8v7.1M622 739.0v18.7M622 767.9v9.5M622 866.9v7.6M622 933.8v7.3M626 1099.2v14.2M630 870.2v7.4M634 772.8v4.4M634 870.9v7.4M634 1058.0v7.1M634 1157.1v7.1M634 1262.9v7.0M638 771.4v8.5M638 819.7v7.6M638 835.0v7.5M638 864.8v7.4M638 994.7v7.1M638 1115.3v7.1M638 1199.9v7.0M638 1263.3v7.0M638 1277.3v7.0M642 821.9v7.5M642 1073.8v7.1M642 1144.4v7.0M646 1082.0v7.1M646 1166.5v7.0M646 1180.6v7.0M646 1201.7v7.0M646 1286.0v7.0M650 784.9v1.8M650 809.6v7.5M650 824.5v7.4M650 853.8v7.3M650 947.1v7.1M650 1018.0v7.1M650 1088.5v7.0M650 1180.0v7.0M650 1299.4v6.9M654 788.4v7.6M654 1067.7v7.0M654 1109.9v7.0M662 878.9v7.1M662 1167.8v7.0M662 1287.0v7.0M666 878.7v7.1M666 984.5v7.0M666 1012.6v7.0M666 1033.7v7.0M666 1181.1v7.0M666 1244.2v7.0M670 837.4v7.1M670 879.9v7.1M674 845.0v7.1M674 1069.9v7.0M674 1203.1v7.0M678 873.5v7.0M678 1154.0v7.0M682 754.5v7.1M682 811.2v7.0M682 881.5v7.0M682 930.6v7.0M682 1084.7v7.0M682 1231.8v7.0M682 1294.8v7.0M686 754.9v7.1M686 881.4v7.0M686 1070.5v7.0M686 1182.5v7.0M686 1294.5v7.0M690 1217.3v7.0M694 756.0v7.0M694 840.0v7.0M694 1120.0v7.0M694 1260.0v7.0M698 756.0v7.0M698 840.0v7.0M698 882.1v7.0M698 1225.1v7.0M698 1302.1v5.9M702 755.1v7.0M702 1056.3v7.0M702 1175.4v7.0M702 1217.4v7.0M706 838.9v14.0M706 1161.1v7.0M710 796.1v7.1M710 838.4v7.0M710 943.7v7.0M710 1069.9v7.0M710 1146.9v7.0M710 1209.9v7.0M714 944.1v7.0M714 1175.5v7.0M714 1287.5v7.0M718 1111.8v7.0M718 1244.9v7.0M722 1048.8v7.0M726 843.1v7.1M726 998.6v7.0M726 1293.3v7.0M730 1082.9v7.0M730 1118.0v7.0M730 1167.1v7.0M730 1223.3v7.0M734 977.0v7.1M734 1131.9v7.0M734 1188.1v7.0M734 1230.2v7.0M738 840.8v7.3M738 862.6v7.2M738 1089.5v7.0M742 810.3v7.5M742 861.9v7.2M742 876.3v7.2M746 845.8v7.3M746 860.5v7.3M746 875.0v7.2M746 1032.1v7.1M746 1088.6v7.1M750 874.1v7.3M754 774.8v5.7M754 835.6v7.5M754 930.9v7.2M754 1073.5v7.1M754 1087.7v7.1M758 863.6v14.8M758 1037.0v7.1M762 792.2v8.3M762 870.2v7.5M762 986.7v7.2M762 1171.5v7.1M766 779.7v8.8M766 805.4v8.2M766 890.3v7.4M770 802.5v8.3M770 1041.3v14.3M774 799.7v8.5M774 816.6v8.2M774 1018.9v7.2M774 1111.9v14.2M774 1253.7v7.1M774 1267.8v7.1M778 774.3v5.0M778 797.7v25.6M778 1026.0v7.2M778 1112.0v7.1M778 1268.1v7.1M782 793.5v9.0M782 852.5v7.9M782 1195.9v7.1M786 800.2v17.7M786 980.1v7.3M786 1052.8v7.2M786 1153.2v7.1M790 797.0v9.2M790 993.7v7.3M790 1088.0v7.2M790 1116.8v7.2M794 793.0v9.6M794 940.2v7.5M794 1036.2v7.3M794 1065.2v7.2M794 1208.7v7.1M798 767.1v11.3M798 798.8v9.5M798 892.3v7.8M798 1186.4v7.1M802 794.2v9.9M802 1055.2v7.3M802 1120.5v7.2M802 1220.9v7.1M806 755.2v13.1M806 965.8v7.5M806 1069.4v7.3M810 745.5v14.9M810 1132.6v7.2M810 1197.4v7.2M810 1218.9v7.2M814 811.8v9.7M814 1051.4v7.4M814 1189.5v7.2M818 751.3v10.5M818 808.3v9.9M818 827.8v9.3M818 944.8v7.8M822 736.4v32.5M822 804.1v20.2M822 1011.9v15.0M822 1064.0v7.4M822 1166.4v7.2M822 1216.9v7.2M826 740.8v2.9M826 786.9v22.2M826 1200.8v7.2M830 751.8v15.6M830 793.0v11.3M830 825.0v9.8M830 913.5v8.1M830 1104.7v7.4M834 743.8v17.5M834 944.3v8.0M834 1089.3v7.4M838 1035.9v7.6M842 736.0v7.1M842 823.9v10.2M842 872.0v17.7M846 767.6v14.5M846 818.2v10.6M846 894.6v8.7M846 992.8v7.8M846 1151.3v7.4M846 1202.6v7.3M850 802.8v22.6M850 943.4v8.2M854 1104.2v7.5M854 1200.5v7.3M854 1215.2v7.3M858 735.2v1.5M858 814.5v11.3M858 1117.4v7.5M858 1147.3v7.4M858 1221.0v7.3M862 809.0v11.8M862 831.9v10.6M862 1263.6v7.3M866 789.4v25.8M866 826.8v11.0M866 858.5v9.9M866 1159.1v7.4M866 1276.9v7.1M870 844.5v10.4M870 1074.8v7.7M874 775.6v15.4M874 909.1v9.0M874 1126.8v7.6M874 1171.9v7.5M874 1275.3v6.4M878 867.5v10.0M878 1016.3v8.0M878 1032.3v7.9M878 1087.0v7.7M878 1125.2v7.6M878 1215.2v7.4M882 873.1v9.9M882 1045.8v7.9M882 1084.9v7.7M882 1161.2v7.5M886 798.4v13.7M886 970.2v8.4M886 1043.9v7.9M886 1129.4v7.6M890 841.4v11.2M890 912.8v9.2M894 860.0v10.6M894 1014.9v8.2M898 790.9v15.0M898 877.0v10.2M902 860.4v10.9M902 1042.0v8.1M902 1152.2v7.7M906 866.8v10.8M906 887.9v10.1M910 850.0v11.5M910 913.6v9.6M910 1171.5v7.7M910 1247.3v7.5M914 750.1v37.6M914 832.0v12.6M914 856.5v11.4M914 1026.4v8.3M914 1177.5v7.7M918 750.4v29.3M918 875.1v10.8M922 741.1v26.4M922 891.3v10.4M922 1046.5v8.3M922 1174.1v15.4M922 1235.3v7.6M926 876.4v11.0M926 1077.5v8.1M926 1157.2v7.8M930 858.2v11.8M930 902.9v10.3M930 1098.6v8.1M930 1208.6v7.7M934 1003.4v8.8M934 1020.9v8.6M934 1071.5v8.2M934 1191.2v7.7M938 925.3v10.0M938 1134.3v8.0M938 1150.2v7.9M942 811.2v15.3M946 782.5v18.9M946 1063.7v8.4M946 1105.3v8.2M946 1161.6v7.9M946 1224.2v7.7M950 747.5v22.9M950 825.3v14.5M950 911.8v10.6M950 990.5v9.1M950 1017.6v8.8M950 1167.4v7.9M954 760.3v23.6M954 861.9v24.3M954 908.7v10.7M954 1213.7v7.8M954 1244.8v6.4M958 840.3v13.7M958 924.2v20.6M958 1202.9v7.9M958 1234.2v7.8M962 1007.8v9.1M962 1069.6v8.5M966 742.1v25.5M966 809.3v16.6M966 892.7v11.5M966 926.2v10.6M970 776.7v39.4M970 1010.2v9.2M970 1046.3v8.8M978 848.2v14.0M978 1135.4v16.5M982 1132.6v8.3M986 817.0v16.8M986 863.3v13.4M986 889.4v12.2M986 1220.6v8.0M990 919.3v11.3M990 1049.2v9.0M990 1202.0v8.1M994 1073.1v8.9M998 1138.5v8.4M1006 854.9v14.6M1006 996.1v9.9M1006 1015.8v9.6M1010 890.1v12.8M1010 915.2v11.9M1010 1130.5v8.6M1014 1065.2v9.2M1014 1187.0v8.3M1018 791.0v40.4M1018 904.7v12.5M1018 1053.3v9.3M1022 1048.5v9.4M1022 1076.5v9.1M1022 1173.1v8.4M1022 1206.6v7.9M1026 755.8v30.2M1026 1054.5v9.4M1026 1204.1v7.8M1030 948.0v11.4M1034 845.5v16.2M1034 1007.4v20.2M1038 836.4v17.2M1038 1196.3v7.8M1042 827.4v18.2M1042 1078.3v9.4M1042 1176.9v8.6M1046 923.8v12.5M1050 1117.3v9.1M1054 1016.9v10.3M1054 1114.1v9.1M1058 860.4v16.0M1058 1110.5v9.2M1062 913.4v13.2M1062 997.5v10.8M1062 1144.3v9.0M1070 851.4v17.1M1070 884.4v14.9M1070 939.7v12.5M1070 1030.8v10.3M1074 796.6v23.8M1074 1015.1v10.7M1074 1056.7v10.0M1074 1115.0v9.3M1074 1151.9v9.0M1082 920.9v13.4M1086 883.9v15.4M1086 1142.3v9.2M1094 801.8v23.9M1094 897.4v14.9M1094 1095.8v9.8M1098 738.4v49.8M1098 856.5v17.7M1098 1092.5v9.9M1106 905.0v14.8M1110 844.0v19.3M1114 1116.8v9.8M1118 880.5v16.6M1118 1038.8v10.9M1122 1022.4v11.3M1126 820.1v42.7M1130 869.8v17.7M1130 904.0v15.5M1130 999.7v12.0M1130 1067.7v10.6M1134 1094.9v10.3M1138 1013.9v11.8M1142 860.0v18.9M1142 995.8v12.3M1142 1031.7v11.4M1146 798.4v27.2M1146 848.4v38.5M1150 1087.0v10.6M1154 919.7v15.3M1158 876.8v18.1M1158 1033.7v11.7M1162 1028.3v11.8M1170 882.2v34.9M1182 940.8v15.0M1186 748.5v28.1M1186 860.8v20.4M1186 1030.1v12.2M1198 925.3v16.2M1206 746.1v36.8M1210 931.7v16.1M1210 977.9v14.1M1218 932.4v16.3M1226 929.9v16.6M1234 872.0v21.0M1234 946.9v16.0M1238 901.5v18.7M1246 856.4v23.0M1250 743.4v35.8M1250 911.3v18.4M1254 897.7v19.4M1270 819.5v29.2"/>
<path stroke="#0589fc" stroke-width="4" d="M110 859.2v23.6M118 807.6v31.6M122 821.9v28.7M130 829.3v27.2M134 812.2v29.9M158 850.9v23.2M162 807.6v29.5M182 1008.1v13.2M186 819.8v26.3M190 964.5v14.5M194 910.3v17.0M194 1039.3v10.2M198 880.5v18.9M210 764.9v32.6M210 925.7v15.7M214 884.7v18.1M218 1059.0v11.4M222 747.8v43.4M222 904.0v16.6M230 977.8v13.2M238 934.7v14.6M238 1050.0v11.3M238 1093.8v10.4M250 995.8v12.3M250 1020.0v11.7M254 871.5v17.8M258 1115.5v10.0M262 936.1v14.0M262 1079.6v20.7M270 1108.0v10.0M274 942.5v13.4M282 1059.3v10.5M282 1100.2v9.9M286 873.6v16.6M286 1114.0v9.7M290 1046.9v10.5M298 915.0v14.0M298 955.3v12.5M298 1057.2v10.3M298 1116.9v9.5M302 1040.0v10.5M302 1148.0v9.2M306 1132.7v9.3M306 1160.4v8.7M310 766.1v31.0M310 907.4v14.0M314 852.3v17.3M314 1167.8v7.7M318 843.3v17.9M318 1005.5v10.8M318 1106.6v9.4M322 987.5v11.2M326 878.1v15.1M326 921.0v13.0M326 1095.0v9.4M330 1097.9v9.4M330 1170.6v8.8M334 1034.2v10.1M334 1064.1v19.3M334 1102.3v9.3M334 1147.9v8.9M338 835.8v17.8M338 899.5v13.6M342 1042.7v19.6M346 984.1v31.8M350 1078.7v18.6M354 855.1v15.7M354 1179.9v8.5M358 848.0v16.0M358 878.9v14.1M358 1048.4v9.6M362 838.0v16.7M362 911.2v12.5M366 953.3v11.1M366 1119.2v8.8M366 1171.2v8.5M370 855.4v15.1M370 910.8v12.3M370 1049.2v9.4M370 1067.9v9.2M370 1104.3v8.9M370 1182.0v8.4M374 928.6v11.6M374 1033.8v19.0M374 1124.9v8.7M386 922.6v11.5M386 1064.1v18.0M390 1000.6v9.8M390 1029.5v9.4M390 1127.9v8.5M390 1202.9v8.1M398 1036.2v9.2M402 855.8v13.9M402 919.2v11.3M402 1084.6v8.7M402 1225.9v7.6M406 1070.1v8.8M410 919.3v11.1M410 1082.8v8.6M414 848.5v13.9M414 1232.2v7.6M418 750.4v14.6M418 825.6v15.4M418 893.6v11.7M418 997.9v9.4M418 1095.9v8.5M422 1115.3v8.3M426 1184.0v8.0M426 1223.6v7.8M430 1088.3v8.4M430 1186.2v7.9M434 935.5v10.2M434 1090.2v8.4M438 762.0v23.2M438 1182.4v7.9M442 794.4v17.5M442 1044.8v8.6M450 1033.3v8.6M450 1108.5v8.1M450 1148.7v7.9M454 1036.7v8.5M466 1101.5v8.0M470 1013.4v8.5M474 1032.8v8.3M474 1137.4v7.8M474 1244.7v7.5M478 1010.5v8.4M478 1035.7v8.3M478 1208.8v7.6M482 934.2v9.3M482 1134.0v7.8M482 1172.6v7.7M482 1248.4v15.0M486 972.7v8.7M486 1211.7v7.5M490 1152.7v7.7M494 953.1v8.8M494 1170.1v7.6M498 1209.4v7.5M502 791.4v14.5M502 854.3v10.7M510 774.8v16.0M510 817.8v12.1M510 946.8v8.6M510 980.8v8.3M510 1153.3v7.5M514 745.6v0.6M514 783.9v27.9M514 846.7v10.6M514 1266.6v7.3M518 740.5v17.1M518 829.1v21.9M518 1065.3v7.7M518 1111.3v7.6M518 1164.1v7.5M518 1230.9v7.4M522 753.0v14.5M522 783.6v14.2M526 758.9v45.2M526 878.9v9.4M526 1099.5v7.6M530 833.2v10.6M530 1124.0v7.5M530 1249.6v7.3M530 1271.5v13.8M534 876.9v9.2M534 938.3v8.3M534 1057.4v7.6M534 1140.3v7.4M538 742.7v8.6M538 783.8v13.2M538 1089.3v7.5M538 1156.4v7.4M538 1200.6v7.3M542 1179.9v7.3M542 1238.3v7.3M546 796.5v11.8M546 1024.4v7.7M546 1047.3v7.6M546 1217.6v14.5M546 1246.7v7.2M550 761.5v1.6M550 890.4v8.6M550 1011.5v7.7M550 1175.7v7.3M554 752.5v16.1M554 1050.0v7.5M554 1183.0v7.3M554 1212.1v7.3M558 790.1v11.6M558 1257.5v7.2M562 836.0v9.4M562 946.5v7.9M562 1243.5v7.2M562 1257.9v7.2M566 1025.6v7.5M566 1216.1v7.2M566 1280.8v7.2M570 803.7v10.3M570 1011.3v7.5M570 1041.2v7.4M570 1092.9v7.3M570 1136.7v7.3M574 786.5v11.0M578 831.1v9.1M578 922.9v7.8M578 1131.7v7.2M578 1153.4v7.2M582 761.3v12.6M582 834.3v8.9M582 948.0v7.6M586 791.6v10.1M586 1285.1v7.1M590 841.6v16.8M590 1048.8v7.3M590 1121.3v7.2M590 1178.8v7.2M590 1221.7v7.1M594 778.4v10.5M594 843.5v8.4M594 907.7v7.7M594 1027.4v7.3M594 1128.8v7.2M598 761.4v11.5M598 793.5v9.5M598 854.8v8.1M598 894.5v7.7M598 940.3v7.5M598 1065.3v7.2M602 896.5v7.7M606 782.0v9.6M606 809.8v8.7M606 859.6v7.9M606 898.4v7.6M606 951.0v7.4M606 1110.5v7.2M606 1174.8v7.1M610 739.8v1.7M610 930.0v7.4M614 931.4v7.4M614 1090.6v7.1M614 1119.2v7.1M614 1183.2v7.1M618 751.7v10.9M618 782.1v9.1M618 982.8v7.2M618 1054.8v7.2M622 803.6v8.3M622 851.6v7.7M622 889.5v7.5M622 1084.9v7.1M622 1276.1v7.1M626 805.5v8.1M626 829.5v7.8M630 808.7v15.8M630 832.3v7.7M630 855.2v7.5M630 877.7v7.4M630 965.2v7.2M630 1192.7v7.1M634 810.1v7.8M634 1015.4v7.1M634 1086.4v7.1M634 1206.5v7.0M638 812.0v7.7M638 937.5v7.2M638 1009.0v14.2M638 1044.5v14.2M638 1136.4v7.1M638 1228.1v7.0M642 814.3v7.6M642 895.6v7.2M642 1095.0v7.1M642 1207.8v7.0M646 838.9v7.4M646 875.5v7.2M646 1222.8v7.0M650 817.1v7.4M650 831.9v7.3M650 1010.9v7.1M654 818.3v14.7M654 869.2v7.2M654 1159.2v7.0M654 1250.5v7.0M658 870.7v7.1M658 941.8v7.1M658 1181.1v7.0M662 871.8v7.1M662 942.7v7.1M662 1209.9v7.0M662 1266.0v7.0M662 1280.0v7.0M666 871.6v7.1M666 1005.6v7.0M666 1096.9v7.0M666 1160.1v7.0M666 1195.1v7.0M666 1209.2v7.0M666 1272.3v7.0M670 929.3v7.0M670 1182.0v7.0M670 1196.0v7.0M670 1280.1v7.0M674 823.8v7.1M674 873.2v14.1M674 985.7v7.0M674 1006.8v7.0M674 1224.1v7.0M674 1287.1v7.0M678 845.4v7.0M678 922.7v7.0M678 1238.1v7.0M682 804.1v7.0M682 867.4v14.0M682 1098.7v7.0M682 1238.8v7.0M686 832.3v7.0M686 874.4v7.0M686 1077.5v7.0M686 1238.5v7.0M686 1252.5v7.0M690 874.3v7.0M690 1168.3v7.0M690 1231.3v7.0M694 861.0v7.0M694 875.0v7.0M694 889.0v7.0M694 1085.0v7.0M694 1176.0v7.0M698 798.0v7.0M698 861.1v7.0M698 924.1v7.0M702 797.2v7.0M702 832.3v7.0M702 860.3v7.0M702 951.3v7.0M702 1182.4v7.0M702 1280.4v7.0M706 796.7v7.0M706 831.9v7.0M706 859.9v7.0M706 1056.1v7.0M706 1084.1v7.0M706 1098.1v7.0M706 1147.1v7.0M706 1196.1v7.0M710 831.4v7.0M710 859.5v7.0M710 992.8v7.0M710 1020.8v7.0M710 1160.9v7.0M714 796.2v7.1M714 831.6v7.1M714 859.8v14.1M714 1112.4v7.0M714 1161.4v7.0M718 795.0v7.2M718 830.6v7.1M718 908.2v7.0M718 1062.7v7.0M718 1097.8v7.0M718 1174.9v7.0M722 794.4v7.2M722 830.3v7.1M722 908.2v7.0M722 1027.7v7.0M722 1069.8v7.0M722 1168.0v7.0M722 1210.1v7.0M726 935.2v7.1M726 991.6v7.0M726 1005.6v7.0M726 1202.2v14.0M726 1286.3v7.0M730 1068.8v7.0M730 1286.4v7.0M734 1110.8v14.1M738 826.2v7.3M738 990.8v7.1M738 1279.2v7.0M742 825.2v7.4M742 926.5v7.1M742 1032.9v7.1M742 1075.3v7.0M742 1272.2v7.0M746 823.5v7.5M750 844.7v7.4M750 859.5v7.3M750 982.0v7.1M750 1053.0v7.1M750 1264.5v7.0M754 843.1v7.5M754 858.0v14.8M754 981.1v7.1M754 1031.0v7.1M758 841.1v7.6M758 1058.3v7.1M758 1072.5v7.1M758 1213.9v7.0M762 839.9v7.6M762 1100.8v7.1M762 1291.5v7.0M766 837.3v7.7M766 852.7v7.6M766 977.9v7.2M766 1233.9v7.1M770 835.0v7.8M770 903.4v7.4M770 925.6v7.3M774 1175.8v7.1M774 1197.1v7.1M782 1259.7v7.1M782 1280.9v7.1M786 920.8v7.5M786 950.6v7.4M786 987.5v7.3M786 1167.4v7.1M786 1195.9v7.1M786 1281.1v14.2M790 840.7v8.2M790 919.3v7.6M790 1073.6v7.2M790 1145.4v7.1M790 1195.4v7.1M798 1165.0v7.2M798 1257.7v7.1M802 1025.9v7.3M802 1077.1v7.3M802 1285.0v7.1M806 829.3v8.9M806 973.3v7.5M806 1292.1v6.0M810 876.7v8.2M810 916.8v7.8M810 1052.5v7.3M810 1096.3v7.3M810 1161.5v7.2M814 821.5v9.3M814 922.8v7.8M814 1036.7v7.4M814 1160.7v7.2M814 1211.1v7.2M818 880.6v8.3M818 1020.8v7.5M818 1267.9v7.2M818 1282.2v7.1M822 852.1v8.8M822 911.1v8.0M822 1071.4v7.4M822 1100.8v7.3M822 1137.3v7.3M822 1224.1v7.2M826 743.7v16.7M826 907.9v8.1M826 1106.2v7.3M826 1279.9v7.2M830 880.0v8.5M830 937.7v7.9M830 1148.7v7.3M830 1242.9v7.2M834 775.8v12.8M834 831.8v9.7M834 850.9v9.2M834 1052.0v7.5M834 1104.1v7.4M838 753.9v15.9M838 1154.8v7.3M842 743.1v18.4M842 1146.0v7.3M842 1160.7v7.3M842 1211.8v7.3M846 750.4v17.2M846 858.4v9.3M846 885.8v8.8M846 911.8v8.4M850 760.8v15.7M850 1053.4v7.6M854 737.1v45.9M854 820.0v10.9M854 879.8v9.1M854 906.5v8.6M854 932.1v8.3M854 1051.3v7.6M854 1148.9v7.4M854 1185.8v7.3M858 758.4v31.2M858 1033.8v7.7M858 1206.3v7.3M858 1279.3v6.9M862 751.7v15.0M862 852.8v9.9M862 917.7v8.6M862 1085.6v7.6M862 1145.8v14.9M862 1190.3v7.4M866 878.0v9.4M866 1060.8v7.7M866 1188.8v7.4M870 737.6v8.8M870 822.3v11.4M874 757.4v18.2M874 790.9v13.7M874 969.6v8.3M874 1002.3v8.0M874 1057.8v7.8M874 1096.3v7.6M878 783.6v14.7M878 1048.1v15.7M882 755.6v35.2M882 830.0v11.5M882 1176.2v7.5M882 1206.1v7.4M886 765.6v17.6M886 847.9v10.8M886 935.5v8.8M886 1137.1v7.6M886 1256.8v7.4M890 758.6v30.3M890 893.7v9.6M890 1254.5v7.4M894 910.3v9.4M894 1006.6v8.2M894 1125.7v7.7M898 887.3v10.0M898 1207.9v7.5M898 1230.4v7.5M902 975.1v8.6M902 1033.9v8.2M906 1219.0v15.0M910 778.9v17.2M910 883.3v10.4M910 932.7v9.3M910 1148.4v7.7M910 1194.4v7.6M914 909.8v9.8M918 826.8v25.3M918 906.6v10.0M918 1160.9v7.7M922 845.7v23.7M922 901.7v10.2M922 1227.7v7.6M926 840.5v12.5M926 928.4v9.7M926 1052.8v8.3M926 1149.3v7.8M926 1211.3v7.6M930 845.8v12.4M930 1106.6v8.0M930 1154.3v7.8M930 1224.0v7.6M934 1029.5v8.5M934 1245.0v7.6M938 964.1v9.3M938 1085.8v8.2M942 826.5v14.1M942 1015.5v8.8M942 1100.0v16.3M942 1164.2v7.9M946 859.5v12.3M946 916.4v10.4M946 984.7v9.2M946 1177.4v7.9M946 1216.5v7.7M946 1232.0v7.7M950 809.4v15.8M950 839.7v13.5M950 1035.1v17.3M954 1076.5v8.4M954 1118.0v8.2M954 1182.3v7.9M954 1221.5v7.8M962 860.4v12.8M962 929.9v10.4M962 1034.8v8.8M962 1061.0v8.6M962 1152.6v8.1M966 825.9v15.1M970 886.2v11.9M970 909.5v21.9M974 826.6v15.4M974 1062.2v8.7M978 1118.7v8.4M978 1192.5v8.0M982 894.1v23.4M982 990.3v9.6M982 1230.0v7.4M986 833.8v15.3M986 913.4v11.4M986 1180.3v8.1M990 1067.2v8.9M994 833.0v15.7M994 889.8v12.4M994 914.2v11.5M994 979.0v10.0M998 822.4v16.8M998 907.5v11.8M998 1112.9v8.6M998 1163.7v8.3M1002 1194.3v8.2M1010 812.2v18.4M1010 862.4v14.2M1010 1012.0v9.7M1010 1121.9v8.6M1014 1008.0v9.9M1014 1161.8v8.4M1018 831.4v16.8M1018 940.8v11.3M1018 1081.0v9.0M1018 1201.8v8.3M1022 909.8v24.3M1022 999.4v10.1M1026 1025.5v9.8M1026 1100.6v9.0M1026 1127.3v8.8M1030 1042.1v9.6M1030 1070.6v18.5M1030 1185.5v8.4M1034 1121.2v8.9M1038 1099.9v9.1M1042 1159.6v8.7M1046 731.9v29.3M1046 1083.1v9.3M1046 1190.3v8.4M1050 891.4v13.9M1050 931.3v12.3M1050 1162.0v8.7M1054 869.1v43.3M1054 1027.3v10.2M1054 1141.3v8.9M1062 1153.2v8.9M1066 843.6v17.6M1066 920.5v13.1M1066 992.9v11.0M1078 884.2v15.1M1078 940.4v12.6M1078 1063.3v10.0M1082 947.3v12.5M1086 1114.1v9.5M1090 1017.7v10.9M1090 1039.3v10.5M1094 881.7v15.8M1094 1001.1v11.3M1094 1023.4v10.8M1098 874.2v16.4M1098 1082.5v10.0M1102 846.4v18.7M1106 783.1v28.2M1110 796.6v25.7M1110 1109.7v19.5M1114 783.3v28.6M1114 906.6v14.9M1114 1096.9v10.0M1118 1111.8v9.9M1122 871.1v17.4M1126 742.6v12.9M1126 897.8v15.7M1126 1006.5v11.7M1126 1073.3v10.5M1130 1109.3v10.0M1138 851.0v19.6M1138 888.6v16.7M1138 976.7v12.7M1138 1025.6v22.8M1142 839.0v21.0M1146 919.9v15.1M1146 1082.0v10.6M1150 910.2v15.7M1158 775.9v33.0M1162 754.6v37.5M1162 866.6v36.6M1166 909.1v16.2M1170 962.5v13.9M1174 830.9v23.3M1174 893.6v17.4M1178 1017.4v12.4M1182 908.4v16.7M1182 1047.3v11.7M1186 933.5v15.4M1194 915.6v16.6M1198 847.6v42.2M1198 1037.8v10.8M1206 906.0v17.5M1210 752.7v4.5M1210 854.7v21.9M1214 955.1v15.1M1222 999.4v12.7M1242 815.8v28.6M1246 829.9v26.4M1266 806.7v31.4M1274 885.3v18.9M1286 813.5v31.0M1290 827.2v26.9"/>
<path stroke="#1b99ff" stroke-width="4" d="M146 858.3v22.8M162 921.8v17.2M170 885.7v19.4M174 757.2v42.8M174 877.7v19.9M178 906.5v17.7M182 980.5v14.0M186 868.7v20.3M198 859.7v20.8M198 899.4v17.6M210 872.1v19.2M210 909.1v16.6M214 756.7v29.5M218 910.8v16.3M230 1003.7v12.4M242 913.9v15.5M242 997.7v12.4M246 978.4v12.8M254 1059.8v10.8M258 955.7v26.2M262 963.5v13.0M266 791.3v27.5M266 1103.6v10.1M274 898.4v15.5M274 928.5v14.0M274 1092.4v10.1M278 873.5v16.9M278 987.1v12.0M278 1076.1v10.3M282 1069.7v10.3M286 812.9v22.8M290 1136.8v9.4M302 1018.4v10.9M306 1033.7v10.5M314 989.6v11.3M318 921.3v13.2M322 899.5v14.1M326 825.0v19.4M330 899.3v13.9M330 1107.3v9.3M334 907.4v13.4M334 1120.8v9.1M338 869.9v15.2M338 926.1v12.6M338 1006.8v10.5M338 1095.9v9.3M342 846.9v16.7M342 1100.2v9.2M346 1174.2v8.6M354 1145.3v8.7M358 830.5v17.5M358 919.2v12.3M362 870.1v14.4M362 1124.5v8.8M362 1193.3v8.4M366 1055.4v9.4M366 1083.3v9.1M366 1196.5v8.3M370 1030.0v9.7M374 1176.2v8.4M378 1028.0v9.6M378 1056.3v9.2M378 1101.6v8.8M382 902.9v12.3M386 1082.1v8.9M386 1217.6v6.8M394 909.6v11.8M394 1043.2v9.2M394 1061.5v9.0M394 1105.7v17.2M394 1173.2v8.2M402 1102.0v8.6M402 1201.8v8.1M406 1024.9v9.2M406 1087.6v8.6M414 875.6v12.5M414 1084.7v8.6M418 841.0v14.3M418 881.4v12.2M422 898.8v11.4M426 894.2v22.6M426 948.3v10.1M430 820.4v15.4M430 887.9v11.6M430 1162.2v8.0M430 1202.1v7.9M434 1147.7v8.1M434 1171.7v8.0M434 1211.3v7.8M442 811.8v15.6M442 891.2v11.1M442 913.2v30.8M442 1053.4v8.5M446 1047.7v8.5M446 1064.7v8.4M446 1114.3v8.1M450 775.7v19.7M450 1058.9v8.4M450 1249.8v7.0M454 1103.2v8.1M458 796.7v16.3M458 1047.6v8.4M462 933.7v9.6M462 1090.8v8.1M466 1218.6v7.6M474 1113.8v7.9M474 1191.6v7.6M478 939.8v9.2M478 1076.5v8.0M482 763.1v19.2M482 1240.8v7.5M486 789.9v15.6M486 1104.1v7.8M490 826.1v12.4M490 1228.5v7.5M494 1177.7v7.6M494 1237.9v7.5M498 826.1v12.1M502 774.9v16.4M502 819.2v12.3M506 741.8v23.8M506 783.2v15.2M506 824.7v11.9M506 944.1v8.7M510 829.9v11.4M510 892.5v9.4M510 1205.8v7.4M514 1079.1v7.7M518 861.3v10.0M518 881.0v9.5M518 935.5v8.6M518 1141.6v7.5M518 1238.3v7.4M522 834.0v10.8M522 893.9v9.1M522 988.2v8.1M526 748.4v10.6M526 1053.6v7.7M530 1139.0v7.5M530 1168.8v7.4M534 740.1v20.3M534 847.9v9.9M534 895.1v8.9M534 971.2v8.1M534 1199.5v7.3M534 1265.2v7.3M538 751.3v17.7M538 797.0v23.6M538 831.4v10.4M538 851.7v9.7M538 948.9v8.2M538 1051.4v7.6M542 761.2v15.6M542 802.9v11.6M542 855.7v9.5M542 874.4v9.1M542 1045.6v7.6M542 1194.6v7.3M546 808.3v11.1M546 886.6v8.8M550 814.1v10.6M550 835.0v9.8M554 817.2v10.3M554 883.3v8.6M554 1094.9v7.4M554 1109.7v7.4M558 1104.7v7.4M558 1279.1v13.3M562 826.3v9.7M562 1046.1v7.5M562 1061.0v7.4M562 1200.2v7.2M566 788.9v21.9M566 830.7v9.4M566 858.3v8.8M566 900.9v8.2M566 1070.3v7.4M566 1187.2v7.2M570 814.0v9.9M570 1273.7v7.2M574 797.5v10.4M574 1094.1v7.3M578 802.1v10.0M578 899.1v8.0M578 1254.0v7.1M582 825.2v9.1M582 1067.3v7.3M582 1168.8v7.2M586 1010.8v7.4M586 1206.6v7.2M590 1207.4v7.1M590 1228.8v7.1M594 1157.5v7.2M598 947.8v7.5M598 1036.3v7.3M598 1130.1v7.2M602 1145.3v7.1M602 1159.6v7.1M602 1223.7v7.1M606 867.5v7.8M606 958.4v7.4M606 1189.0v7.1M610 869.3v7.7M610 900.0v7.6M610 1274.7v7.1M614 871.2v7.7M614 901.6v7.5M614 1040.5v7.2M614 1197.4v7.1M618 808.5v8.3M618 871.9v7.6M618 1018.9v7.2M618 1239.5v7.1M618 1296.0v7.0M622 757.7v10.1M622 777.3v9.1M622 874.4v7.5M622 948.4v7.3M622 1056.4v7.1M626 788.7v8.5M626 875.4v7.5M626 1077.9v7.1M626 1148.9v7.1M626 1283.1v14.1M630 892.5v14.7M630 1143.2v7.1M630 1220.9v7.1M630 1235.0v7.1M634 1008.3v7.1M634 1072.2v7.1M634 1185.4v7.1M638 1023.2v7.1M638 1072.8v7.1M638 1221.0v7.0M638 1291.4v7.0M642 844.4v7.4M642 1165.5v7.0M642 1221.8v7.0M646 1096.1v7.1M646 1229.8v7.0M646 1243.9v7.0M650 1194.1v7.0M650 1292.4v7.0M654 905.0v7.1M654 926.3v7.1M654 940.5v7.1M654 1117.0v7.0M658 927.6v7.1M658 1068.7v7.0M658 1202.2v7.0M662 1251.9v7.0M666 1047.8v7.0M670 858.7v7.1M670 922.2v7.0M674 795.3v7.1M674 1238.1v7.0M678 795.9v7.1M678 943.8v7.0M678 1041.9v7.0M678 1245.1v7.0M682 839.3v7.0M686 797.2v7.0M686 902.4v7.0M686 1119.5v7.0M686 1133.5v7.0M686 1147.5v14.0M686 1231.5v7.0M690 846.3v7.0M690 902.3v7.0M690 958.3v7.0M690 1021.3v7.0M694 798.0v7.0M694 903.0v7.0M694 931.0v7.0M694 1267.0v7.0M698 903.1v14.0M698 938.1v7.0M698 1127.1v7.0M702 909.3v7.0M702 937.3v7.0M702 1112.3v7.0M706 902.0v14.0M706 1175.1v7.0M706 1294.2v7.0M710 908.6v7.0M710 936.7v7.0M710 1279.9v7.0M714 873.9v7.0M722 1273.2v7.0M722 1301.2v6.2M726 814.4v7.2M726 899.9v7.1M726 928.2v7.1M726 1125.1v14.0M726 1272.3v7.0M730 892.4v7.1M730 927.9v7.1M730 1279.4v7.0M738 891.3v14.3M738 1272.2v7.0M742 840.0v7.3M742 890.7v14.3M742 983.4v7.1M742 1159.8v7.0M746 838.4v7.4M746 968.3v7.1M746 1159.1v7.0M746 1229.5v7.0M746 1271.6v7.0M750 822.2v7.6M750 1038.8v7.1M750 1144.8v7.0M754 894.7v7.3M754 1009.6v7.1M754 1094.8v7.1M754 1116.0v7.1M754 1271.0v7.0M758 794.1v8.1M758 856.2v7.5M758 893.2v7.3M758 1022.8v7.1M758 1065.4v7.1M758 1171.6v14.1M766 867.9v7.5M766 927.1v7.3M766 1248.0v7.1M770 865.9v7.6M770 910.8v7.4M770 1183.5v7.1M770 1233.0v7.1M770 1289.5v7.1M774 864.2v7.7M774 1040.4v7.2M778 863.2v7.7M778 931.2v7.4M778 1083.4v7.2M782 860.4v15.6M782 1045.9v14.4M786 817.9v8.5M786 859.1v15.8M786 890.4v7.7M786 943.2v7.4M786 1002.1v7.3M786 1074.4v7.2M786 1146.0v7.1M786 1259.8v7.1M790 865.1v7.9M790 911.7v7.6M790 1008.4v7.3M790 1109.6v7.2M794 1021.6v7.3M794 1130.1v7.2M794 1173.0v7.1M798 860.3v8.1M798 915.6v7.7M798 1114.7v14.4M802 905.5v7.8M802 1098.8v7.2M806 872.0v8.2M806 904.2v7.9M806 919.9v7.8M806 1018.0v7.4M806 1040.1v7.3M806 1127.4v7.2M810 784.7v10.8M810 868.4v8.3M810 947.8v7.6M810 1023.0v7.4M810 1067.2v7.3M810 1154.3v7.2M814 779.9v11.3M814 991.9v7.5M814 1021.8v7.4M814 1239.8v7.2M818 818.3v9.6M818 1013.3v7.5M818 1065.3v7.4M822 1245.7v7.2M826 829.2v9.5M826 1047.0v7.4M826 1069.3v7.4M826 1150.0v7.3M830 871.3v8.7M830 1177.8v7.3M830 1235.7v7.2M834 800.3v11.0M834 860.1v9.0M834 877.9v8.7M834 1006.6v7.6M834 1037.0v7.5M834 1271.4v7.2M838 795.9v11.5M842 898.4v8.5M842 1086.7v7.5M846 744.5v5.9M846 903.2v8.5M846 1143.9v7.4M846 1217.2v7.3M846 1239.0v14.5M850 909.8v8.5M850 1076.1v7.5M850 1202.1v7.3M850 1238.6v7.3M854 870.5v9.3M854 888.8v8.9M854 1134.1v7.4M854 1273.4v7.3M858 1272.1v7.3M862 766.7v15.7M862 976.2v8.1M862 1008.3v7.9M866 848.4v10.2M866 887.4v9.2M866 1203.6v7.4M866 1262.3v14.6M870 874.8v9.6M870 938.1v8.5M870 1150.6v7.5M870 1224.8v7.4M870 1261.5v7.3M874 804.7v12.6M874 890.6v9.3M874 1245.9v7.3M878 811.6v12.3M878 896.6v9.3M878 1200.3v7.4M882 790.7v14.2M882 892.7v9.5M886 735.5v7.6M886 869.2v10.1M890 829.6v11.8M890 883.9v9.8M890 991.6v16.6M890 1269.3v7.3M894 849.0v11.0M894 891.0v9.8M894 1023.1v8.1M894 1253.9v7.4M898 832.3v12.0M898 1004.4v8.3M898 1108.7v7.8M898 1154.9v7.6M902 1050.1v8.1M902 1090.0v7.9M902 1197.9v15.1M902 1228.0v7.5M906 917.6v9.5M910 735.4v22.6M910 872.6v10.7M910 893.6v10.1M910 1003.7v8.5M918 812.7v14.1M918 863.8v11.2M918 926.3v9.6M918 1082.1v8.0M922 787.3v16.8M922 1103.4v8.0M926 756.1v22.5M926 812.8v14.4M926 898.1v10.4M926 947.6v9.3M926 1044.5v8.3M926 1180.5v7.7M930 785.5v17.5M930 892.3v10.6M930 913.3v10.1M930 1082.3v16.2M930 1185.5v7.7M934 749.5v24.9M934 825.5v26.7M934 887.3v10.9M934 1167.8v7.8M938 802.6v15.9M938 1158.1v7.9M938 1197.3v7.8M942 1116.3v8.1M942 1234.3v7.7M946 749.5v9.7M946 801.4v16.5M946 883.5v11.3M946 1002.9v8.9M946 1072.2v16.7M946 1200.9v7.8M950 1069.4v8.4M954 969.6v9.5M954 1033.5v8.7M954 1134.3v8.1M958 790.9v34.6M958 854.1v13.0M958 944.9v10.0M958 993.1v9.2M958 1038.2v8.7M962 752.5v26.3M966 767.5v22.9M966 915.4v10.8M966 1023.4v9.0M966 1134.7v8.2M970 743.8v4.9M970 847.1v13.8M974 841.9v14.2M974 1008.1v9.3M974 1130.2v8.3M978 747.0v29.3M982 1046.2v9.0M990 1012.1v9.4M990 1040.1v9.1M990 1185.8v8.1M994 1027.5v9.3M998 919.3v11.5M1002 958.9v10.5M1002 1135.9v8.5M1002 1218.7v7.7M1006 1133.3v17.0M1010 830.6v16.5M1010 992.0v10.1M1010 1021.7v9.6M1014 869.6v14.0M1014 966.8v10.6M1014 1027.5v9.6M1018 917.2v12.0M1030 855.3v15.4M1030 1002.2v10.2M1030 1168.5v8.5M1034 861.7v15.1M1034 904.5v12.9M1034 1075.6v9.3M1034 1156.3v8.6M1038 735.4v32.1M1038 1023.5v10.0M1042 1049.6v9.7M1046 1110.9v9.1M1046 1173.0v8.6M1054 912.4v13.1M1054 1104.9v9.2M1054 1132.3v9.0M1062 884.9v14.6M1062 1029.4v10.2M1062 1049.7v9.9M1062 1107.6v18.5M1066 801.4v42.2M1066 1025.2v10.4M1070 1081.0v9.7M1074 1169.9v8.3M1078 831.4v19.3M1078 868.1v16.1M1078 1167.2v7.8M1082 892.1v28.9M1082 1108.5v9.5M1090 971.7v11.9M1090 1080.3v9.9M1090 1100.0v9.7M1094 864.8v16.9M1094 1012.4v11.1M1094 1085.9v9.9M1102 1098.4v9.8M1106 889.3v15.7M1110 863.3v17.6M1110 1026.2v21.9M1110 1079.6v10.2M1114 1106.9v9.9M1118 1049.7v10.7M1122 753.0v22.4M1122 974.4v12.5M1122 1033.8v11.1M1122 1117.6v9.9M1126 1083.8v10.3M1130 850.4v19.4M1142 814.8v24.2M1142 1065.4v10.8M1146 887.0v17.0M1146 1037.7v11.4M1150 734.8v41.2M1158 894.9v16.8M1166 873.2v18.6M1174 927.3v15.5M1190 871.0v19.6M1194 857.8v21.0M1202 858.2v21.2M1202 933.3v15.8M1222 863.4v21.4M1230 904.2v18.3M1234 848.5v23.5M1238 858.7v22.5M1242 909.9v18.2M1246 735.9v13.9M1246 879.4v20.7M1254 917.2v18.1M1258 841.1v25.3M1262 822.7v28.3M1266 864.2v22.8M1266 907.7v17.1M1270 848.6v24.8M1278 848.9v25.1"/>
<path stroke="#46abff" stroke-width="4" d="M126 908.5v17.8M138 830.0v26.7M146 881.1v20.5M154 768.5v40.0M178 866.6v20.8M178 924.1v16.6M202 1050.3v10.1M206 861.9v20.3M210 1023.4v12.3M214 935.7v15.1M226 895.4v17.0M234 858.2v19.7M234 943.4v14.3M238 867.1v18.7M242 1089.3v10.5M246 851.5v38.0M246 1027.6v11.6M246 1104.4v8.6M250 879.1v17.4M254 1014.3v23.2M258 816.3v23.6M262 889.8v16.3M262 950.1v13.4M266 841.7v20.1M282 941.7v13.3M282 1015.5v11.2M282 1048.6v10.6M290 898.1v29.3M290 1025.3v10.9M290 1078.1v10.1M294 1140.5v9.4M298 1154.5v7.9M306 867.3v16.4M310 1006.6v11.0M314 966.2v11.8M314 1140.6v9.2M318 994.5v11.1M322 1061.3v9.9M326 1025.5v10.4M326 1056.1v9.9M330 834.1v18.3M330 869.2v15.5M330 1029.1v20.3M330 1078.9v9.6M330 1116.6v9.2M334 1156.8v8.8M338 1105.2v9.2M342 1136.6v8.9M346 899.5v13.4M346 1046.0v9.8M346 1084.4v9.3M346 1103.0v9.1M346 1165.5v8.7M358 1140.0v8.7M378 1170.5v8.4M390 902.9v12.1M390 1057.4v9.1M390 1136.4v8.5M394 1148.3v8.4M398 751.1v20.2M398 1191.0v8.1M398 1215.4v8.0M402 895.5v12.1M402 1058.1v8.9M406 848.6v14.2M406 889.0v23.9M406 996.6v9.6M406 1104.8v8.5M410 1116.9v8.4M422 1064.3v8.7M422 1164.5v8.1M430 1178.2v8.0M434 764.6v6.8M438 820.7v15.0M438 909.2v10.7M442 756.8v17.0M442 867.7v12.0M442 1128.2v16.1M446 762.5v0.5M446 834.7v13.6M446 1106.2v8.2M450 901.0v10.6M450 1092.1v8.2M450 1164.5v7.9M450 1242.2v7.7M454 1070.4v8.3M454 1095.1v8.1M458 759.5v18.3M458 889.0v10.8M458 910.3v10.2M458 1153.1v7.9M458 1184.4v7.8M462 786.8v17.3M462 971.3v9.1M462 1154.5v15.6M470 922.7v9.7M474 945.2v9.2M474 998.8v8.6M474 1057.6v8.2M474 1153.0v7.8M474 1222.0v7.6M478 1100.4v7.9M478 1147.5v7.7M482 1164.9v7.7M486 1173.8v7.6M490 984.5v8.5M490 1168.0v7.6M494 753.7v20.8M494 1012.8v8.2M494 1100.9v7.8M498 881.5v10.0M498 938.3v8.9M502 831.5v11.7M502 1218.2v7.5M506 847.8v10.8M506 889.0v9.6M506 1098.4v7.7M506 1189.6v7.5M514 767.1v16.8M514 835.6v11.0M514 867.5v9.9M514 1109.8v7.6M518 791.1v13.7M518 817.3v11.8M518 851.0v10.3M518 1057.5v7.8M522 767.4v16.2M522 865.3v9.8M526 915.2v8.7M526 949.5v8.3M526 966.2v8.2M526 1181.9v7.4M530 784.4v26.1M530 882.8v9.2M530 901.0v8.9M530 935.7v8.4M530 1071.1v7.6M530 1116.5v7.5M530 1264.2v7.3M534 791.0v24.7M534 954.8v8.2M538 1163.8v7.4M538 1222.5v7.3M538 1244.4v7.3M538 1266.2v7.3M542 814.5v10.9M542 892.4v8.8M542 943.3v8.2M542 1267.4v7.2M546 760.9v8.5M550 1248.4v7.2M554 874.5v8.8M554 1161.1v7.3M558 757.4v5.8M562 1207.4v7.2M562 1272.3v7.2M566 1288.0v6.2M570 833.4v9.2M570 942.4v7.8M570 1259.4v7.2M574 959.7v7.7M574 982.6v7.6M574 1064.7v7.4M578 938.5v15.4M578 1282.6v14.1M586 820.7v9.1M586 935.6v7.7M590 1271.6v14.2M594 1085.5v7.2M594 1271.6v7.1M598 870.9v7.9M598 1094.2v7.2M598 1173.0v7.1M602 755.7v11.1M602 1044.7v7.2M602 1266.3v7.1M606 760.8v11.0M606 791.6v9.2M606 1231.6v7.1M610 884.8v7.6M610 1232.2v7.1M618 939.1v7.3M618 1004.5v7.2M622 1092.0v7.1M622 1205.5v7.1M626 882.8v14.8M626 1163.0v7.1M630 745.2v0.7M630 885.1v7.4M630 929.0v7.3M630 943.5v7.2M630 1065.2v7.1M630 1249.1v7.0M634 885.6v7.3M634 986.8v7.1M634 1128.9v7.1M634 1284.0v7.0M638 872.2v7.3M638 886.8v7.3M638 1122.3v7.1M638 1178.8v14.1M638 1235.1v7.0M642 836.9v7.4M642 902.8v7.2M642 938.8v7.2M646 868.2v7.3M646 904.4v7.2M646 925.9v7.2M646 947.3v7.1M650 839.2v7.3M650 875.6v7.2M650 1046.2v7.1M650 1151.9v7.0M654 840.3v7.3M654 890.7v7.1M654 933.4v7.1M654 1074.7v14.1M654 1278.5v7.0M658 849.1v7.2M658 948.8v7.1M658 1230.3v21.0M658 1279.4v7.0M662 1244.9v7.0M662 1273.0v7.0M666 892.8v7.1M666 914.0v7.1M666 1132.0v7.0M670 1125.9v7.0M670 1203.0v7.0M670 1238.0v7.0M674 915.5v14.1M674 1259.1v14.0M678 1273.1v7.0M682 1035.7v7.0M682 1091.7v7.0M686 951.4v7.0M686 1301.5v6.4M690 909.3v7.0M690 930.3v7.0M694 910.0v7.0M694 959.0v7.0M694 1057.0v7.0M694 1169.0v7.0M698 875.1v7.0M698 1246.1v7.0M702 839.3v7.0M702 853.3v7.0M702 874.3v7.0M702 1140.4v7.0M702 1154.4v7.0M706 852.9v7.0M706 874.0v7.0M706 1014.1v7.0M706 1252.1v7.0M710 852.5v7.0M710 880.6v7.0M710 1294.0v7.0M714 838.7v7.1M714 902.0v7.0M714 1021.3v7.0M718 851.8v7.1M718 873.0v7.1M718 1216.9v7.0M718 1266.0v7.0M722 851.6v7.1M722 894.1v14.1M722 950.4v7.0M722 1224.1v7.0M726 1111.0v7.0M730 899.5v7.1M730 1146.1v7.0M734 1202.1v7.0M738 919.8v7.1M738 997.8v14.1M738 1019.0v7.1M738 1258.2v7.0M738 1300.3v6.3M742 933.7v7.1M742 1068.2v7.1M742 1103.5v7.0M742 1265.2v7.0M746 808.4v7.6M746 889.5v7.2M750 895.9v7.2M750 1017.5v7.1M754 923.7v7.2M758 802.2v8.0M758 1270.3v7.0M762 800.5v8.1M762 855.2v7.5M762 914.4v14.6M762 1051.0v7.1M762 1093.7v7.1M766 919.8v7.3M766 1063.8v7.1M766 1255.1v7.1M770 1084.1v7.1M774 909.5v14.8M778 788.7v9.0M778 908.9v7.5M778 1197.3v7.1M782 844.5v8.0M786 882.6v7.7M786 1217.2v7.1M786 1295.2v6.1M790 880.9v15.5M790 934.4v7.5M790 1080.8v7.2M790 1152.6v7.1M794 870.7v15.8M794 902.1v7.7M794 1043.5v7.3M798 868.4v16.0M798 1056.8v7.3M802 749.9v10.6M802 831.6v8.7M802 865.5v16.2M802 989.0v7.4M802 1142.1v7.2M802 1235.2v7.1M806 741.3v14.0M806 863.8v8.3M810 815.4v9.4M810 860.0v8.4M810 1211.8v7.2M810 1290.4v6.9M814 767.6v12.3M814 839.9v8.9M814 857.5v8.5M814 915.0v7.9M814 1006.9v7.5M814 1066.1v7.3M814 1275.5v7.1M814 1289.8v6.7M818 761.7v25.1M818 905.2v8.0M818 921.2v7.9M822 860.9v8.7M822 919.1v8.0M826 809.1v10.2M826 838.7v9.2M826 874.4v8.5M826 1186.3v7.2M826 1236.8v7.2M830 862.5v8.8M830 929.7v8.0M830 1015.2v7.6M834 869.1v8.8M834 1228.1v7.2M838 828.5v9.9M838 866.5v8.9M838 892.9v8.5M838 1227.6v7.2M842 1153.3v7.3M846 876.9v8.9M850 756.3v4.5M850 874.4v9.1M850 1143.3v7.4M854 851.3v9.7M854 1258.9v7.3M858 920.6v8.5M862 796.3v12.6M862 1175.5v7.4M866 998.0v8.0M866 1029.7v7.8M866 1114.1v7.5M866 1174.0v7.4M866 1255.0v7.3M870 833.6v10.9M870 911.9v8.9M870 1143.1v7.5M870 1158.1v7.5M874 829.1v11.2M874 861.4v10.0M874 986.1v8.2M878 1244.7v7.4M886 783.2v15.2M886 836.6v11.3M890 1024.5v8.1M890 1194.9v7.5M898 944.0v8.9M898 1045.4v8.0M902 796.6v14.7M902 881.8v10.2M906 818.5v13.1M906 908.0v9.7M906 981.0v8.6M910 796.1v15.2M910 1109.4v15.7M914 1107.5v7.9M918 797.3v15.5M918 1191.8v7.7M922 1220.1v7.6M926 796.9v15.9M930 818.5v14.1M930 997.8v8.8M934 908.8v10.3M934 948.5v9.5M934 1096.1v16.2M938 762.5v22.0M938 818.5v27.9M938 1069.2v8.3M942 757.2v16.9M942 1140.4v8.0M946 1129.6v8.0M946 1239.7v7.7M950 962.3v9.5M950 1026.4v8.8M950 1143.4v8.0M958 1147.2v8.1M962 846.9v13.5M962 1086.6v8.4M966 1238.5v7.1M970 1188.3v8.0M978 899.9v11.6M978 933.7v10.6M982 1098.8v8.5M982 1198.1v8.0M990 895.6v12.1M990 1076.0v8.8M990 1152.9v8.3M990 1226.1v7.0M994 998.8v9.7M994 1108.1v8.6M998 941.9v10.8M998 1032.4v9.3M998 1155.3v8.3M1002 989.9v10.0M1002 1019.3v9.5M1002 1047.5v9.2M1002 1118.7v8.6M1006 883.1v13.0M1006 1098.6v8.8M1006 1208.4v8.1M1010 1104.4v8.8M1014 896.8v12.7M1014 1170.3v8.4M1018 763.6v27.4M1018 1024.6v9.7M1018 1099.0v8.9M1018 1185.2v8.3M1022 1164.6v8.5M1026 876.6v27.2M1030 885.1v13.6M1030 1032.3v9.7M1034 891.0v13.5M1034 1147.6v8.7M1042 782.1v24.7M1046 897.4v13.5M1058 774.2v27.4M1058 905.5v13.5M1062 899.5v13.9M1062 1018.9v10.4M1066 861.2v16.2M1066 892.6v14.3M1066 1035.6v10.2M1070 913.3v13.5M1070 1164.6v8.9M1074 905.7v27.2M1078 1139.9v9.2M1078 1158.2v9.0M1082 876.4v15.7M1082 1079.3v9.8M1086 829.8v19.8M1090 755.8v34.8M1090 983.6v11.6M1094 825.8v20.6M1098 814.9v22.2M1098 890.6v15.3M1098 960.4v24.5M1106 1083.8v10.1M1114 890.8v15.8M1122 1010.9v11.6M1126 1018.2v11.5M1126 1051.9v10.8M1134 839.1v20.7M1138 740.3v29.1M1142 1020.0v11.7M1142 1107.7v8.9M1150 834.1v21.9M1166 891.9v17.3M1170 840.6v22.0M1174 803.2v27.7M1174 911.0v16.3M1178 841.1v22.2M1182 871.2v37.2M1186 881.3v36.0M1190 1011.7v12.7M1194 878.8v19.1M1198 908.2v17.1M1202 898.7v17.9M1206 843.6v23.0M1206 1012.0v13.0M1230 884.5v19.8M1234 893.0v19.2M1238 920.2v17.5M1242 844.4v24.3M1278 874.0v19.0"/>
<path stroke="#77c0ff" stroke-width="4" d="M110 797.4v34.2M134 889.5v20.2M146 954.8v15.2M162 903.5v18.3M162 970.7v14.8M170 940.0v16.0M174 1007.6v11.9M178 986.0v13.9M190 916.9v16.7M198 917.0v16.5M198 992.1v13.3M202 1013.3v12.7M206 918.0v16.2M234 877.8v18.0M234 1045.8v11.4M242 1067.7v10.9M254 1037.5v11.2M258 879.1v17.2M258 1052.4v10.9M270 853.3v18.8M270 889.4v31.3M270 975.1v12.5M270 1045.3v21.5M278 935.4v13.6M278 1055.1v10.6M278 1106.5v9.9M290 1098.1v9.8M294 1008.0v11.2M294 1111.9v9.6M298 929.0v13.4M314 954.0v12.2M314 1011.8v10.8M314 1131.3v9.2M318 877.7v15.4M322 1020.3v10.5M326 1046.0v10.0M326 1066.0v9.8M334 1044.4v10.0M338 885.1v14.3M338 1067.4v9.6M346 925.8v12.4M358 1028.9v9.8M358 1095.3v9.1M366 1145.5v8.6M370 1039.7v9.5M370 1122.0v8.7M374 1080.4v9.0M374 1142.2v8.6M374 1209.5v7.8M382 915.2v11.9M394 897.4v12.2M398 1207.3v8.1M402 1177.4v8.2M410 1166.7v8.2M414 1040.7v9.0M414 1093.3v8.5M422 1028.9v9.0M426 869.9v12.4M430 742.2v17.2M430 991.1v9.3M434 841.7v26.5M434 880.4v11.7M434 914.5v10.7M434 1047.6v8.7M438 804.1v16.5M438 1042.5v8.7M442 841.7v13.3M446 803.9v16.2M446 907.2v10.6M450 795.4v16.9M450 970.7v9.3M450 1100.3v8.1M454 916.7v20.1M462 913.8v10.1M470 941.9v9.4M474 926.3v9.5M474 1145.2v7.8M474 1160.8v7.7M478 1052.1v8.2M478 1092.5v7.9M486 748.5v0.9M486 936.9v9.1M490 812.8v13.3M490 931.3v9.2M490 1160.4v7.6M494 1021.0v8.2M498 1133.6v7.7M502 923.3v9.1M502 941.3v8.8M506 812.0v12.6M506 869.1v19.9M506 1234.3v7.4M510 841.4v10.9M510 1045.5v7.9M510 1123.0v7.6M510 1190.9v7.5M514 857.3v10.2M518 871.3v9.7M518 1171.6v7.5M518 1208.7v7.4M518 1245.6v7.3M518 1260.3v7.3M522 822.7v11.3M522 844.8v20.5M522 1143.1v7.5M526 849.4v10.1M530 810.5v22.7M530 843.8v20.0M530 927.2v8.5M534 815.7v11.2M534 904.0v8.7M538 889.2v8.9M538 940.7v8.3M542 845.9v9.7M542 926.7v8.3M542 1113.4v7.4M546 769.4v14.2M546 819.4v10.6M546 849.9v18.8M546 877.7v8.9M546 1282.9v6.7M550 863.6v9.1M550 1034.4v7.6M554 837.4v9.6M554 941.6v8.0M554 1102.3v7.4M558 801.7v10.9M562 794.5v11.1M562 938.6v7.9M570 754.0v14.5M570 860.4v8.7M570 1048.7v7.4M570 1266.6v7.2M574 836.7v9.0M574 888.4v8.2M574 1086.7v7.3M574 1245.9v7.2M574 1288.8v7.1M578 840.1v8.8M578 1225.4v7.2M582 785.4v10.7M582 843.2v8.7M582 868.7v8.3M586 855.8v8.4M586 1278.0v7.1M590 858.4v8.2M590 944.9v7.6M594 953.3v7.5M594 1278.7v7.1M598 862.9v8.0M598 917.6v7.6M598 1272.7v7.1M602 865.2v7.9M610 837.6v8.1M610 1061.1v7.2M610 1089.8v7.2M610 1196.7v7.1M610 1218.0v7.1M614 839.9v7.9M614 1054.8v7.2M618 825.0v8.0M618 1047.6v7.2M618 1083.4v7.1M622 811.9v8.1M622 836.0v7.8M622 941.1v7.3M622 1070.7v7.1M626 837.3v7.7M626 941.6v14.5M626 1113.4v7.1M630 840.0v15.2M630 1100.7v7.1M634 848.5v7.5M634 914.8v7.3M634 943.8v14.4M638 842.5v14.9M638 944.7v7.2M642 1292.2v7.0M646 846.3v7.3M646 897.2v7.2M646 1131.3v7.0M650 904.3v7.2M654 919.2v7.1M654 1138.1v7.0M658 977.1v7.1M658 1117.9v7.0M658 1209.2v7.0M662 1216.9v7.0M666 949.3v7.0M674 859.1v7.1M674 943.6v7.0M678 859.4v7.0M678 1168.0v7.0M682 860.4v7.0M682 1210.8v7.0M682 1259.8v7.0M682 1280.8v7.0M686 860.3v7.0M690 860.3v7.0M690 1063.3v7.0M694 1015.0v7.0M694 1071.0v7.0M694 1225.0v7.0M694 1246.0v7.0M698 1092.1v7.0M702 902.3v7.0M706 1063.1v7.0M710 873.6v7.0M710 901.6v7.0M710 1139.9v7.0M710 1181.9v7.0M714 845.7v7.0M714 937.1v7.0M718 1146.8v7.0M718 1202.9v7.0M730 885.3v7.1M730 934.9v7.1M730 1026.6v7.0M734 884.8v7.1M734 941.6v7.1M734 1195.1v7.0M738 869.8v7.2M738 884.1v7.2M738 1033.1v7.1M738 1061.3v7.0M738 1082.5v7.0M742 883.5v7.2M742 1117.5v7.0M746 903.9v7.2M746 932.6v7.1M750 866.8v7.3M750 881.4v7.3M750 917.6v7.2M750 1088.3v7.1M754 1172.4v7.1M758 929.6v7.2M766 912.5v7.3M766 1205.6v7.1M770 858.3v7.6M770 881.0v7.5M770 918.2v7.4M770 1190.6v7.1M770 1268.3v7.1M774 1232.5v7.1M778 870.9v15.3M782 836.4v8.1M782 876.0v7.7M786 843.0v8.1M786 874.9v7.8M786 898.0v7.6M786 1016.6v7.3M786 1096.0v7.2M786 1203.0v7.1M790 896.4v7.7M790 1030.2v7.3M790 1059.2v7.2M790 1266.4v7.1M794 837.9v8.4M798 761.8v5.3M798 835.1v8.5M798 1020.3v14.6M798 1207.9v7.1M802 848.8v8.4M806 896.3v7.9M806 1263.6v7.1M810 795.5v10.2M818 913.2v8.0M818 1094.6v7.3M818 1239.3v7.2M826 865.8v8.7M826 891.4v8.3M826 1222.4v7.2M830 804.2v10.6M830 921.6v8.1M830 1264.5v7.2M834 788.6v11.8M834 841.5v9.4M834 886.5v8.5M834 1014.3v7.6M834 1096.7v7.4M834 1118.8v7.4M838 783.5v12.4M838 807.3v10.8M838 1110.6v7.4M838 1249.3v7.2M842 1138.6v7.4M846 795.1v11.9M846 1091.9v7.5M850 790.3v12.5M850 855.7v18.8M850 1128.5v7.4M858 876.0v18.3M858 1154.7v7.4M862 842.5v10.2M862 881.8v18.3M862 1070.4v7.6M862 1219.7v7.3M870 1020.2v7.9M870 1105.3v7.6M874 881.1v9.5M874 1209.0v7.4M878 745.6v21.1M878 835.5v11.1M882 841.5v10.9M886 889.2v9.6M886 1035.9v8.0M886 1264.2v7.4M890 803.7v13.5M890 863.4v20.5M890 903.4v9.4M890 1056.5v7.9M898 1085.2v7.9M902 837.2v11.8M902 1025.7v8.2M906 788.6v15.7M906 843.9v11.7M914 1200.5v7.6M922 921.8v9.7M926 887.4v10.7M930 1169.9v7.8M934 793.8v16.7M934 852.2v23.9M934 1012.2v8.7M934 1214.3v7.7M946 846.5v12.9M946 1185.3v7.8M950 791.6v17.8M950 853.2v12.7M950 889.7v11.2M950 981.2v9.3M958 755.0v13.8M966 1126.4v8.2M970 898.1v11.5M974 750.0v16.6M974 882.3v12.1M978 887.9v12.0M978 1208.5v8.0M982 1124.2v8.4M986 775.5v22.6M986 849.1v14.2M994 1167.0v8.2M1002 812.9v17.9M1002 876.0v13.3M1018 1193.5v8.3M1022 883.4v13.5M1022 1067.3v9.2M1030 924.2v12.1M1030 1193.9v8.4M1034 929.8v12.0M1034 975.7v10.8M1050 1031.3v10.0M1054 852.7v16.4M1054 1095.6v9.3M1062 926.6v12.7M1070 811.3v21.4M1074 1096.0v9.5M1078 899.3v14.3M1082 1017.3v10.8M1086 849.6v17.8M1090 857.0v17.4M1106 1042.0v10.7M1106 1093.8v9.9M1110 927.0v13.9M1114 921.6v14.2M1118 842.9v19.7M1118 897.1v15.6M1122 888.4v16.2M1126 755.5v37.3M1130 919.5v14.7M1130 1078.4v10.5M1134 1041.1v11.1M1138 870.7v17.9M1138 905.3v15.7M1142 1076.2v10.6M1158 1078.9v10.8M1170 1002.8v12.6M1186 837.9v22.9M1190 890.6v18.1M1190 1024.5v12.4M1194 1030.1v12.3M1214 922.6v16.7M1246 900.1v19.0M1250 845.3v24.5"/>
<path stroke="#abd7ff" stroke-width="4" d="M158 948.4v15.9M170 864.4v21.3M182 994.5v13.6M226 1069.9v11.1M246 922.1v15.0M250 896.5v16.3M258 912.3v15.2M258 1030.0v11.3M262 906.1v15.4M262 1001.3v11.9M266 912.6v14.9M270 987.5v12.1M274 993.7v11.9M278 1135.8v9.0M282 898.1v15.3M286 1031.6v10.9M298 1025.4v10.8M302 1050.4v10.3M310 1079.5v9.8M310 1164.3v8.0M314 1093.5v9.6M322 1051.3v10.0M342 907.4v25.8M350 1040.2v9.8M358 987.9v10.5M358 1200.0v7.2M374 1052.7v9.3M378 910.2v12.1M378 998.4v10.0M382 1031.2v9.5M382 1130.3v8.6M394 1206.0v8.1M402 1127.5v8.4M402 1152.6v8.3M406 912.9v11.4M406 1138.6v8.3M410 1125.4v8.4M426 1207.8v7.9M434 868.2v12.2M438 1126.3v8.1M442 1000.7v9.0M446 785.5v18.4M446 820.0v14.7M450 761.9v13.7M454 763.6v3.2M454 848.6v12.5M458 899.8v10.5M466 928.3v9.7M470 1038.7v8.3M474 1259.8v6.9M478 920.8v9.6M478 1019.0v8.4M478 1239.1v7.5M486 1264.2v7.0M490 762.9v19.2M490 838.5v11.8M490 922.0v9.3M494 832.7v11.9M494 907.2v9.5M498 765.3v33.8M498 1171.7v7.6M502 805.9v13.3M502 875.3v10.0M502 1049.6v7.9M506 1226.8v7.4M510 852.3v10.5M510 873.0v9.9M514 896.6v9.3M522 884.6v9.3M522 1268.8v7.3M526 816.4v11.5M526 1240.8v7.3M530 960.8v8.2M530 1101.5v7.5M530 1256.9v7.3M534 912.7v8.6M538 898.0v8.7M546 904.0v8.5M546 1070.0v7.5M546 1151.8v7.4M550 844.8v18.8M550 881.6v8.8M550 899.0v16.9M554 827.5v9.9M554 847.1v9.4M554 917.2v8.2M554 933.6v8.1M554 1027.3v7.6M554 1042.5v7.5M558 852.0v9.1M558 878.8v17.1M558 904.3v16.5M558 1250.3v7.2M562 745.2v9.1M562 854.6v9.0M562 872.3v8.6M562 897.9v8.3M562 1112.8v7.3M570 792.9v10.8M570 1078.2v7.4M570 1100.3v7.3M574 827.4v9.3M574 845.7v8.8M574 863.2v16.9M574 1224.3v7.2M578 791.6v10.5M578 866.2v8.4M578 930.8v7.8M578 1066.1v7.3M578 1182.3v7.2M578 1261.2v7.1M582 796.1v10.1M582 851.8v8.5M582 1219.0v7.2M586 829.8v8.8M586 847.3v8.5M590 866.6v8.1M590 1164.5v7.2M594 826.3v8.7M594 930.7v15.1M594 1056.5v7.3M598 829.7v16.8M598 886.7v7.8M602 824.0v8.5M602 956.8v7.4M606 827.0v32.6M610 829.4v8.2M614 831.8v8.1M618 841.0v15.6M618 894.6v7.5M622 843.8v7.7M622 919.1v7.3M622 1127.6v7.1M634 1241.8v7.0M642 967.4v7.1M642 1200.7v7.0M654 1180.2v7.0M658 955.9v7.1M658 1195.2v7.0M666 899.9v7.1M670 1020.6v7.0M670 1111.9v7.0M674 936.6v7.0M674 1055.9v7.0M674 1161.0v7.0M678 880.5v7.0M678 929.7v7.0M678 1301.1v6.6M682 923.6v7.0M682 1021.7v7.0M682 1077.7v7.0M686 846.3v7.0M686 895.4v7.0M686 1014.5v7.0M690 881.3v7.0M694 847.0v7.0M694 882.0v7.0M694 896.0v7.0M694 938.0v7.0M698 847.1v7.0M698 896.1v7.0M698 1162.1v7.0M702 846.3v7.0M702 881.3v7.0M702 895.3v7.0M702 923.3v7.0M702 1238.4v7.0M706 881.0v21.0M706 1266.2v7.0M710 887.6v14.0M714 887.9v14.1M714 1126.4v7.0M718 887.1v7.0M718 1020.6v7.0M722 887.0v7.1M722 943.4v7.0M722 1034.8v7.0M726 885.8v14.2M730 913.7v7.1M734 913.3v7.1M734 1223.2v7.0M738 912.7v7.1M738 934.1v7.1M746 925.5v7.2M750 910.4v7.2M754 872.8v7.3M754 1144.2v7.1M754 1242.9v7.0M758 922.3v7.2M758 1093.8v7.1M762 808.6v8.0M762 1022.5v7.1M762 1036.8v7.1M762 1079.5v7.1M762 1143.3v7.1M770 819.0v8.0M774 879.4v7.6M774 1033.3v7.2M778 893.8v7.5M782 1174.6v7.1M790 832.4v8.4M790 857.1v8.0M794 854.5v8.1M794 894.3v7.8M794 1265.6v7.1M798 852.0v8.2M798 884.4v7.9M802 822.7v8.9M802 857.2v8.3M802 889.7v7.9M806 820.2v9.1M806 846.9v8.5M806 1185.0v7.2M806 1235.1v7.1M806 1270.7v7.1M810 884.9v8.1M810 1030.4v7.4M814 1131.8v7.2M822 886.5v8.3M830 1030.3v7.5M834 903.5v16.5M834 1081.9v7.4M834 1155.5v7.3M838 838.4v9.6M838 901.4v8.4M838 1118.0v7.4M838 1132.8v14.7M842 834.1v9.9M842 889.7v8.6M842 1123.9v7.4M846 828.8v10.2M846 848.9v9.6M850 825.4v10.5M850 845.9v9.8M850 892.4v8.8M854 841.3v10.0M858 894.3v8.9M858 911.9v8.6M862 782.5v13.9M866 774.4v15.0M870 766.6v16.3M870 979.9v8.2M870 1210.1v7.4M874 1010.4v8.0M878 736.6v9.0M878 877.4v9.7M882 817.9v12.1M882 862.9v10.2M886 858.8v10.4M886 879.3v9.9M890 852.6v10.8M894 825.2v12.2M894 870.6v10.3M894 1186.6v7.5M898 773.7v17.2M898 897.2v9.7M898 996.0v8.4M902 811.3v13.4M902 871.3v10.5M910 861.5v11.1M914 867.9v11.0M918 779.7v17.6M918 916.5v9.7M922 804.1v15.0M922 832.9v12.8M926 827.2v13.3M930 1193.2v7.7M934 876.1v11.2M934 1144.2v7.9M938 991.6v9.0M938 1189.5v7.8M938 1205.0v7.7M938 1243.5v7.6M942 1041.6v8.5M942 1211.1v7.7M950 770.4v21.2M950 1077.8v8.4M954 1158.4v8.0M962 908.3v10.9M962 1078.2v8.5M962 1111.7v8.3M970 748.7v28.1M978 862.1v13.2M978 944.3v10.4M982 1149.2v8.2M986 876.7v12.7M986 1155.7v8.2M986 1228.6v6.7M990 1119.3v8.5M990 1169.4v8.2M990 1210.1v8.0M994 1081.9v8.8M998 803.6v18.8M1002 1009.7v9.7M1010 1031.3v9.5M1014 1144.8v8.5M1046 1004.0v10.4M1050 1098.9v9.2M1054 1047.4v9.9M1054 1176.6v8.7M1066 1104.2v9.4M1066 1159.2v8.9M1074 958.0v12.0M1086 1104.6v9.6M1086 1123.6v9.4M1098 934.3v13.3M1102 882.3v16.0M1102 927.6v13.7M1110 1048.1v10.6M1114 1086.7v10.1M1142 879.0v17.4M1150 875.6v17.9M1158 857.0v19.8M1174 766.5v36.8M1174 1011.3v12.4M1198 790.4v31.6M1202 747.8v19.5M1210 829.7v25.0M1214 864.6v21.0M1218 854.4v22.2M1266 763.2v43.5"/>
<path stroke="#daeeff" stroke-width="4" d="M146 901.6v18.9M198 1018.4v12.6M238 1072.3v10.9M242 897.5v16.4M262 1024.8v11.4M262 1069.0v10.6M278 906.2v14.9M318 1161.9v8.9M338 1057.6v9.7M346 912.9v12.8M358 893.0v13.4M382 1050.0v9.3M402 1119.1v8.5M414 1022.5v9.1M426 916.7v10.8M442 855.0v12.6M442 902.4v10.8M446 1012.9v8.8M450 890.0v11.0M450 1140.7v8.0M462 1177.9v7.8M466 898.0v10.3M470 932.4v9.5M470 1063.6v8.2M474 746.3v12.5M478 743.4v28.3M482 924.8v9.4M486 1189.0v7.6M490 753.2v9.6M490 1243.4v7.5M498 799.1v14.0M498 838.2v22.5M498 1118.2v7.7M502 843.2v11.1M502 1255.3v7.4M506 898.6v9.4M510 790.7v14.1M510 862.8v10.2M510 929.3v8.8M510 1092.3v7.7M514 923.9v8.8M514 1200.1v7.4M526 1084.3v7.6M534 929.8v8.4M534 1034.3v7.7M534 1192.1v7.4M538 932.4v8.3M542 835.9v10.1M542 865.2v9.3M542 918.3v8.4M542 951.4v8.1M542 1281.8v6.7M554 900.5v8.4M558 833.0v9.6M558 895.9v8.4M562 816.2v10.1M562 881.0v8.5M566 840.2v9.2M566 867.1v8.6M570 768.5v12.7M570 842.6v9.0M570 1237.9v7.2M578 780.4v11.2M578 857.6v8.5M578 1102.7v7.3M582 860.4v8.4M586 864.2v8.2M586 1249.5v7.1M590 929.7v7.6M594 798.7v9.5M594 884.2v7.9M598 902.3v7.7M602 832.5v8.3M602 873.1v7.8M602 888.7v7.7M602 904.1v7.6M602 941.9v7.5M602 1209.5v7.1M610 877.1v7.7M610 892.4v7.6M610 915.1v14.9M614 878.8v7.6M614 1076.3v7.2M618 917.0v7.4M618 1126.1v7.1M622 896.9v7.4M622 1163.0v7.1M626 912.4v21.9M630 936.3v7.2M630 950.7v7.2M630 1008.2v7.1M634 893.0v7.3M638 894.1v7.3M642 917.2v14.4M646 911.6v7.2M650 897.1v7.2M650 911.5v7.1M654 897.8v7.1M654 912.1v7.1M654 1032.5v7.1M654 1088.8v7.0M658 913.4v7.1M658 1082.8v7.0M658 1258.3v7.0M662 907.3v14.2M666 921.1v7.1M666 1111.0v7.0M666 1237.2v7.0M670 936.3v7.0M670 1097.8v7.0M670 1118.9v7.0M674 816.7v7.1M674 908.5v7.0M674 929.6v7.0M678 817.1v7.1M678 908.7v7.0M682 818.2v7.0M682 909.5v14.0M686 937.4v7.0M690 818.2v7.0M694 819.0v7.0M694 924.0v7.0M694 1295.0v7.0M706 1126.1v7.0M710 922.7v7.0M710 1258.9v7.0M714 909.0v7.0M718 915.3v14.1M718 1195.9v7.0M722 872.9v7.1M722 1083.9v7.0M726 871.6v7.1M726 907.0v7.1M726 921.1v7.1M730 871.1v7.1M730 906.6v7.1M734 891.9v7.1M738 905.6v7.1M738 1103.6v7.0M738 1117.6v7.0M742 869.1v7.2M742 905.1v7.2M746 867.8v7.3M750 903.2v7.2M750 1165.9v7.0M754 887.4v7.3M758 1100.9v7.1M762 862.7v7.5M762 1298.5v5.9M766 860.3v7.6M766 1276.2v7.0M770 842.8v7.8M774 902.0v7.5M778 901.4v7.5M778 1133.3v7.1M778 1218.6v7.1M782 891.4v15.2M782 914.1v15.0M782 1124.7v7.1M786 913.2v7.5M786 1031.1v7.2M790 904.1v7.6M794 886.5v7.8M794 917.5v7.6M798 1100.3v7.2M802 881.7v8.0M802 1134.9v7.2M806 855.4v8.4M806 880.2v16.1M810 824.8v9.1M810 851.5v8.5M810 1175.9v7.2M814 848.8v8.7M814 874.4v8.3M814 907.0v8.0M814 938.5v7.7M814 1175.1v7.2M818 846.2v8.8M818 863.7v16.9M818 888.9v8.2M822 843.0v9.0M822 869.5v8.5M826 856.9v8.8M826 899.7v8.2M826 1164.5v7.3M830 814.9v10.2M830 853.5v9.0M830 888.5v16.7M830 1112.1v7.3M834 895.1v8.4M834 1170.1v7.3M838 848.0v9.4M842 853.6v9.3M842 1284.2v6.2M858 846.9v10.0M862 1062.7v7.7M866 868.4v9.6M870 854.9v10.1M874 1223.8v7.4M878 1222.6v7.4M882 804.9v13.0M894 798.1v14.1M894 837.4v11.5M898 819.6v12.7M898 916.5v9.3M898 1012.7v8.2M902 901.9v9.7M914 1001.0v8.5M922 911.9v9.9M938 739.4v23.1M946 1097.1v8.2M950 1151.4v8.0M954 755.9v4.4M954 1024.7v8.8M958 1218.6v7.8M966 1084.6v8.5M986 1096.7v8.6M990 992.8v9.7M994 1008.5v9.6M994 1175.3v8.2M1014 1083.4v9.0M1022 854.0v15.2M1026 785.9v23.0M1034 917.4v12.4M1038 869.3v14.7M1050 918.6v12.7M1062 869.4v15.5M1066 1003.9v10.8M1094 912.3v14.1M1102 1047.2v10.5M1102 1088.4v10.0M1106 1052.7v10.5M1114 1022.6v11.2M1130 1057.0v10.8M1134 737.3v6.3M1142 731.0v9.1M1146 1026.1v11.6M1154 867.4v18.7M1166 1078.9v10.9M1178 918.5v16.0M1206 887.2v18.8M1242 890.2v19.7M1262 875.2v21.6"/>
<path stroke="#ffffff" stroke-width="4" d="M206 1054.6v11.1M234 1057.2v11.2M238 1061.2v11.0M246 1050.5v11.1M266 896.8v15.8M270 872.1v17.3M278 1096.5v10.0M282 992.3v11.8M282 1080.0v10.2M286 1063.7v10.3M294 905.8v14.5M294 1019.2v11.0M294 1040.9v10.6M298 900.3v14.7M302 891.7v15.0M302 1157.2v8.6M310 841.7v18.4M314 1043.6v10.3M314 1064.0v10.0M314 1083.8v9.7M330 986.2v11.0M334 1024.0v10.3M338 1017.3v10.3M342 1012.2v10.3M346 885.4v14.1M346 1026.1v10.1M358 1038.7v9.7M358 1174.6v8.5M362 1106.6v8.9M366 996.3v10.2M366 1026.5v9.8M370 989.9v10.3M374 847.6v15.5M374 904.1v12.5M382 890.1v12.8M406 1196.0v8.1M410 1029.3v9.1M414 1143.6v8.2M414 1224.3v7.9M426 1199.9v7.9M438 849.5v13.0M438 998.0v9.1M438 1025.0v8.8M438 1158.6v8.0M442 827.4v14.3M446 848.4v25.0M446 885.0v22.1M446 1089.7v8.2M450 812.3v66.4M450 1075.6v8.3M454 766.7v81.9M454 861.1v45.1M458 777.9v18.8M458 813.0v76.0M458 920.5v10.0M458 1145.2v7.9M462 747.7v39.1M462 804.1v109.7M462 923.8v9.8M462 1032.7v8.5M466 749.7v148.4M466 908.4v20.0M466 1010.3v8.6M470 753.8v168.9M474 758.8v167.5M478 771.6v149.1M482 782.3v142.5M482 1195.5v7.6M486 805.4v131.5M486 1166.1v7.6M486 1241.8v7.5M490 782.1v30.7M490 850.3v71.7M490 940.5v9.0M494 774.5v17.0M494 820.1v12.6M494 844.6v62.6M494 916.7v27.5M498 860.7v20.9M498 891.5v46.8M498 1015.2v8.2M498 1141.3v7.6M498 1156.5v7.6M502 865.0v10.3M502 885.4v37.9M502 932.4v8.9M502 1017.4v8.1M502 1270.1v6.6M506 858.6v10.4M506 908.0v27.2M506 1144.3v7.6M510 804.9v13.0M510 882.9v9.7M510 902.0v27.3M510 938.1v8.7M514 811.8v12.3M514 887.1v9.5M514 905.9v18.1M514 932.8v8.7M518 909.0v26.5M522 903.1v35.2M522 1254.1v7.3M526 827.9v10.9M526 906.4v8.9M526 1122.2v7.5M526 1262.7v7.3M530 759.2v9.8M530 909.9v17.3M534 886.1v9.0M534 921.3v8.5M534 1206.8v7.3M538 906.8v25.6M538 1178.6v7.4M538 1251.7v7.3M542 901.1v17.1M542 935.0v8.2M546 840.1v9.8M546 868.6v9.1M546 895.4v8.6M546 912.5v25.0M550 802.9v11.2M550 872.7v8.9M550 915.9v8.3M550 1277.3v7.2M554 865.6v8.9M554 908.9v8.3M554 925.4v8.2M558 842.6v9.4M558 861.1v17.7M558 920.8v16.2M562 845.4v9.2M562 863.6v8.8M562 889.5v8.4M562 906.2v24.4M562 1279.5v7.2M566 849.3v9.0M566 875.7v25.2M566 909.1v32.1M570 851.6v8.8M570 869.1v73.3M570 1026.3v7.5M574 854.6v8.7M574 880.1v8.3M574 896.6v39.8M578 874.5v24.5M578 907.1v15.8M582 877.0v63.4M582 1197.5v7.2M586 801.7v9.7M586 880.6v55.0M586 1292.2v6.0M590 805.6v9.4M590 882.8v46.9M590 1200.3v7.1M594 808.2v9.2M594 892.1v15.6M594 915.4v7.7M594 1228.9v7.1M598 812.2v8.9M598 910.0v7.6M598 925.2v15.1M602 815.4v8.7M602 911.8v22.7M602 1059.1v7.2M606 818.5v8.5M606 906.0v22.6M606 936.1v7.4M606 1274.2v7.1M606 1288.3v7.1M610 861.5v7.8M610 907.6v7.5M614 894.0v7.5M614 909.1v22.3M614 1218.6v7.1M618 902.1v14.9M618 924.4v7.4M622 882.0v7.5M622 904.3v14.8M622 926.5v7.3M622 1198.4v7.1M622 1212.6v7.1M622 1290.2v7.1M626 905.1v7.4M630 907.1v21.9M630 1178.5v7.1M630 1284.3v7.0M634 907.6v7.3M634 922.1v14.5M634 1143.0v7.1M638 908.6v28.9M638 1094.1v7.1M642 888.3v7.2M642 910.0v7.2M642 931.6v7.2M646 890.0v7.2M646 918.7v7.2M650 890.0v7.2M650 918.6v21.4M650 1095.6v7.0M650 1236.2v7.0M658 892.1v7.1M658 906.3v7.1M658 920.5v7.1M662 893.1v14.2M662 921.5v7.1M662 935.6v7.1M666 907.0v7.1M666 928.2v7.1M670 894.0v7.1M670 908.1v14.1M670 1167.9v7.0M674 887.3v14.1M674 1245.1v14.0M678 887.6v21.1M678 915.7v7.0M678 1294.1v7.0M682 888.5v14.0M682 937.6v7.0M686 888.4v7.0M686 909.4v28.0M690 888.3v14.0M690 916.3v14.0M690 1182.3v7.0M690 1238.3v7.0M694 917.0v7.0M698 917.1v7.0M698 931.1v7.0M698 1239.1v7.0M698 1295.1v7.0M702 888.3v7.0M702 916.3v7.0M702 930.3v7.0M706 916.0v14.0M706 1119.1v7.0M710 915.7v7.0M710 1174.9v7.0M714 916.1v7.0M718 894.2v14.1M722 915.2v21.1M722 1076.9v7.0M730 920.8v7.1M730 942.0v7.1M730 1216.2v7.0M734 899.0v14.2M734 920.4v7.1M742 912.2v7.1M742 1124.6v7.0M746 831.0v7.4M746 896.7v7.2M746 918.3v7.2M750 888.7v7.3M754 828.0v7.6M754 880.1v7.3M754 902.0v21.7M754 1285.1v7.0M758 825.8v7.7M758 878.5v14.7M758 900.5v21.8M762 824.4v7.8M762 877.6v7.4M762 892.4v22.0M766 821.6v7.9M766 875.4v14.9M766 897.7v14.7M770 873.5v7.5M770 888.5v14.9M774 871.8v7.6M774 887.0v15.0M778 886.2v7.6M782 883.7v7.7M782 1110.4v7.1M786 905.6v7.6M786 1124.6v7.1M798 946.1v7.5M802 913.2v7.7M806 912.1v7.8M810 893.0v8.0M810 908.9v7.9M814 890.9v8.1M814 1232.6v7.2M818 855.0v8.7M818 1217.7v7.2M822 878.1v8.4M822 903.0v8.1M826 847.9v9.0M826 883.0v8.4M830 844.3v9.2M834 1162.8v7.3M838 857.4v9.1M838 875.5v17.4M838 1285.3v6.0M842 801.9v11.3M842 1003.3v7.7M842 1131.3v7.4M846 839.0v9.8M846 867.7v9.1M846 1260.7v7.2M854 897.7v8.8M854 1043.6v7.7M858 866.5v9.4M858 1087.3v7.6M862 862.7v9.6M862 1205.0v7.4M866 837.8v10.5M866 905.6v8.9M866 1099.0v7.6M870 893.7v9.2M870 1059.3v7.7M874 817.3v11.8M874 840.3v21.1M874 871.4v9.7M874 899.9v9.1M878 887.1v9.5M878 1040.2v7.9M882 852.4v10.5M882 1168.7v7.5M886 824.8v11.9M886 1152.2v7.6M890 817.1v12.5M894 812.2v13.0M898 805.9v13.7M902 824.7v12.5M906 804.4v14.2M910 811.2v13.8M914 787.7v44.3M914 899.7v10.0M918 1016.0v8.5M918 1245.0v7.5M922 819.1v13.7M926 778.6v18.2M926 865.0v11.4M926 1241.8v7.6M930 803.0v15.5M934 744.8v4.7M934 774.4v19.4M938 784.5v18.1M942 774.1v37.1M946 759.2v23.3M946 1145.7v8.0M954 803.1v16.7M958 768.9v22.0M962 744.0v8.5M962 1025.9v8.9M962 1043.6v8.7M966 1222.8v7.8M974 894.4v11.7M974 1146.7v8.2M978 738.8v8.2M978 1184.4v8.1M986 987.3v9.7M1006 1200.2v8.2M1010 1040.8v9.4M1014 883.6v13.2M1018 1071.8v9.1M1058 891.3v14.1M1058 1033.0v10.1M1082 1028.1v10.6M1090 1090.2v9.8M1090 1119.3v9.5M1114 811.9v23.3M1134 859.8v18.7M1134 1029.7v11.4M1138 1048.4v11.1M1142 912.7v15.4M1170 917.2v15.9M1190 908.7v16.9M1210 914.6v17.1M1214 904.8v17.8M1222 922.3v16.9M1250 891.5v19.8"/></g>
<circle cx="695.7" cy="692.0" r="616" stroke="#fff" stroke-width="3.4" stroke-dasharray="3.4 7.62" fill="none" stroke-dashoffset="6.1"/>
<circle cx="695.7" cy="692.0" r="471.8" stroke="#fff" stroke-width="3.4" stroke-dasharray="3.4 7.62" fill="none" stroke-dashoffset="3.4"/>
<circle cx="695.7" cy="692.0" r="318.5" stroke="#fff" stroke-width="3.4" stroke-dasharray="3.4 7.62" fill="none" stroke-dashoffset="8.12"/>
<circle cx="695.7" cy="692.0" r="160" stroke="#fff" stroke-width="3.4" stroke-dasharray="3.4 7.62" fill="none" stroke-dashoffset="0"/>
<line x1="717.40" y1="692.00" x2="1311.70" y2="692.00" stroke="#fff" stroke-width="3.4" stroke-dasharray="3.4 7.62" fill="none"/>
<line x1="716.66" y1="697.62" x2="1290.71" y2="851.43" stroke="#fff" stroke-width="3.4" stroke-dasharray="3.4 7.62" fill="none"/>
<line x1="714.49" y1="702.85" x2="1229.17" y2="1000.00" stroke="#fff" stroke-width="3.4" stroke-dasharray="3.4 7.62" fill="none"/>
<line x1="711.04" y1="707.34" x2="1131.28" y2="1127.58" stroke="#fff" stroke-width="3.4" stroke-dasharray="3.4 7.62" fill="none"/>
<line x1="706.55" y1="710.79" x2="1003.70" y2="1225.47" stroke="#fff" stroke-width="3.4" stroke-dasharray="3.4 7.62" fill="none"/>
<line x1="701.32" y1="712.96" x2="855.13" y2="1287.01" stroke="#fff" stroke-width="3.4" stroke-dasharray="3.4 7.62" fill="none"/>
<line x1="695.70" y1="713.70" x2="695.70" y2="1308.00" stroke="#fff" stroke-width="3.4" stroke-dasharray="3.4 7.62" fill="none"/>
<line x1="690.08" y1="712.96" x2="536.27" y2="1287.01" stroke="#fff" stroke-width="3.4" stroke-dasharray="3.4 7.62" fill="none"/>
<line x1="684.85" y1="710.79" x2="387.70" y2="1225.47" stroke="#fff" stroke-width="3.4" stroke-dasharray="3.4 7.62" fill="none"/>
<line x1="680.36" y1="707.34" x2="260.12" y2="1127.58" stroke="#fff" stroke-width="3.4" stroke-dasharray="3.4 7.62" fill="none"/>
<line x1="676.91" y1="702.85" x2="162.23" y2="1000.00" stroke="#fff" stroke-width="3.4" stroke-dasharray="3.4 7.62" fill="none"/>
<line x1="674.74" y1="697.62" x2="100.69" y2="851.43" stroke="#fff" stroke-width="3.4" stroke-dasharray="3.4 7.62" fill="none"/>
<line x1="674.00" y1="692.00" x2="79.70" y2="692.00" stroke="#fff" stroke-width="3.4" stroke-dasharray="3.4 7.62" fill="none"/>
<line x1="674.74" y1="686.38" x2="100.69" y2="532.57" stroke="#fff" stroke-width="3.4" stroke-dasharray="3.4 7.62" fill="none"/>
<line x1="676.91" y1="681.15" x2="162.23" y2="384.00" stroke="#fff" stroke-width="3.4" stroke-dasharray="3.4 7.62" fill="none"/>
<line x1="680.36" y1="676.66" x2="260.12" y2="256.42" stroke="#fff" stroke-width="3.4" stroke-dasharray="3.4 7.62" fill="none"/>
<line x1="684.85" y1="673.21" x2="387.70" y2="158.53" stroke="#fff" stroke-width="3.4" stroke-dasharray="3.4 7.62" fill="none"/>
<line x1="690.08" y1="671.04" x2="536.27" y2="96.99" stroke="#fff" stroke-width="3.4" stroke-dasharray="3.4 7.62" fill="none"/>
<line x1="695.70" y1="670.30" x2="695.70" y2="76.00" stroke="#fff" stroke-width="3.4" stroke-dasharray="3.4 7.62" fill="none"/>
<line x1="701.32" y1="671.04" x2="855.13" y2="96.99" stroke="#fff" stroke-width="3.4" stroke-dasharray="3.4 7.62" fill="none"/>
<line x1="706.55" y1="673.21" x2="1003.70" y2="158.53" stroke="#fff" stroke-width="3.4" stroke-dasharray="3.4 7.62" fill="none"/>
<line x1="711.04" y1="676.66" x2="1131.28" y2="256.42" stroke="#fff" stroke-width="3.4" stroke-dasharray="3.4 7.62" fill="none"/>
<line x1="714.49" y1="681.15" x2="1229.17" y2="384.00" stroke="#fff" stroke-width="3.4" stroke-dasharray="3.4 7.62" fill="none"/>
<line x1="716.66" y1="686.38" x2="1290.71" y2="532.57" stroke="#fff" stroke-width="3.4" stroke-dasharray="3.4 7.62" fill="none"/>
<circle cx="695.7" cy="692.0" r="12" stroke="#fff" stroke-width="3.6" fill="none"/>
<line x1="695.7" y1="692" x2="695.7" y2="1309" stroke="#dd4313" stroke-width="4.6"/><line x1="695.7" y1="692.0" x2="969.6" y2="1243.8" stroke="#fff" stroke-width="4.2" stroke-dasharray="14.8 17.1"/>
<defs><linearGradient id="cb" x1="0" y1="0" x2="0" y2="1"><stop offset="0.000" stop-color="#ffffff"/><stop offset="0.050" stop-color="#d4ebff"/><stop offset="0.100" stop-color="#9cd0ff"/><stop offset="0.150" stop-color="#60b6ff"/><stop offset="0.200" stop-color="#2aa0ff"/><stop offset="0.240" stop-color="#0890ff"/><stop offset="0.290" stop-color="#0080f8"/><stop offset="0.340" stop-color="#0068e6"/><stop offset="0.390" stop-color="#0056d2"/><stop offset="0.440" stop-color="#0046c2"/><stop offset="0.490" stop-color="#0032ae"/><stop offset="0.550" stop-color="#0020a0"/><stop offset="0.600" stop-color="#000e90"/><stop offset="0.635" stop-color="#000880"/><stop offset="0.680" stop-color="#000468"/><stop offset="0.750" stop-color="#00034a"/><stop offset="0.810" stop-color="#000230"/><stop offset="0.880" stop-color="#00001c"/><stop offset="1.000" stop-color="#000005"/></linearGradient></defs><rect x="1338.5" y="999.5" width="47.0" height="308.5" fill="url(#cb)" stroke="#000" stroke-width="2.2"/><line x1="1338.5" y1="1245.1" x2="1341.5" y2="1245.1" stroke="#000" stroke-width="1.6"/><line x1="1385.5" y1="1245.1" x2="1382.5" y2="1245.1" stroke="#000" stroke-width="1.6"/><line x1="1338.5" y1="1208.3" x2="1341.5" y2="1208.3" stroke="#000" stroke-width="1.6"/><line x1="1385.5" y1="1208.3" x2="1382.5" y2="1208.3" stroke="#000" stroke-width="1.6"/><line x1="1338.5" y1="1182.2" x2="1341.5" y2="1182.2" stroke="#000" stroke-width="1.6"/><line x1="1385.5" y1="1182.2" x2="1382.5" y2="1182.2" stroke="#000" stroke-width="1.6"/><line x1="1338.5" y1="1161.9" x2="1341.5" y2="1161.9" stroke="#000" stroke-width="1.6"/><line x1="1385.5" y1="1161.9" x2="1382.5" y2="1161.9" stroke="#000" stroke-width="1.6"/><line x1="1338.5" y1="1145.4" x2="1341.5" y2="1145.4" stroke="#000" stroke-width="1.6"/><line x1="1385.5" y1="1145.4" x2="1382.5" y2="1145.4" stroke="#000" stroke-width="1.6"/><line x1="1338.5" y1="1131.4" x2="1341.5" y2="1131.4" stroke="#000" stroke-width="1.6"/><line x1="1385.5" y1="1131.4" x2="1382.5" y2="1131.4" stroke="#000" stroke-width="1.6"/><line x1="1338.5" y1="1119.3" x2="1341.5" y2="1119.3" stroke="#000" stroke-width="1.6"/><line x1="1385.5" y1="1119.3" x2="1382.5" y2="1119.3" stroke="#000" stroke-width="1.6"/><line x1="1338.5" y1="1108.6" x2="1341.5" y2="1108.6" stroke="#000" stroke-width="1.6"/><line x1="1385.5" y1="1108.6" x2="1382.5" y2="1108.6" stroke="#000" stroke-width="1.6"/><line x1="1338.5" y1="1036.1" x2="1341.5" y2="1036.1" stroke="#000" stroke-width="1.6"/><line x1="1385.5" y1="1036.1" x2="1382.5" y2="1036.1" stroke="#000" stroke-width="1.6"/><line x1="1338.5" y1="1099.0" x2="1344.0" y2="1099.0" stroke="#000" stroke-width="1.6"/><line x1="1385.5" y1="1099.0" x2="1380.0" y2="1099.0" stroke="#000" stroke-width="1.6"/><line x1="1341.00" y1="999.5" x2="1341.00" y2="1001.7" stroke="#000" stroke-width="1"/><line x1="1343.36" y1="999.5" x2="1343.36" y2="1001.7" stroke="#000" stroke-width="1"/><line x1="1345.71" y1="999.5" x2="1345.71" y2="1001.7" stroke="#000" stroke-width="1"/><line x1="1348.07" y1="999.5" x2="1348.07" y2="1001.7" stroke="#000" stroke-width="1"/><line x1="1350.43" y1="999.5" x2="1350.43" y2="1001.7" stroke="#000" stroke-width="1"/><line x1="1352.79" y1="999.5" x2="1352.79" y2="1001.7" stroke="#000" stroke-width="1"/><line x1="1355.14" y1="999.5" x2="1355.14" y2="1001.7" stroke="#000" stroke-width="1"/><line x1="1357.50" y1="999.5" x2="1357.50" y2="1001.7" stroke="#000" stroke-width="1"/><line x1="1359.86" y1="999.5" x2="1359.86" y2="1001.7" stroke="#000" stroke-width="1"/><line x1="1362.21" y1="999.5" x2="1362.21" y2="1001.7" stroke="#000" stroke-width="1"/><line x1="1364.57" y1="999.5" x2="1364.57" y2="1001.7" stroke="#000" stroke-width="1"/><line x1="1366.93" y1="999.5" x2="1366.93" y2="1001.7" stroke="#000" stroke-width="1"/><line x1="1369.28" y1="999.5" x2="1369.28" y2="1001.7" stroke="#000" stroke-width="1"/><line x1="1371.64" y1="999.5" x2="1371.64" y2="1001.7" stroke="#000" stroke-width="1"/><line x1="1374.00" y1="999.5" x2="1374.00" y2="1001.7" stroke="#000" stroke-width="1"/><line x1="1376.36" y1="999.5" x2="1376.36" y2="1001.7" stroke="#000" stroke-width="1"/><line x1="1378.71" y1="999.5" x2="1378.71" y2="1001.7" stroke="#000" stroke-width="1"/><line x1="1381.07" y1="999.5" x2="1381.07" y2="1001.7" stroke="#000" stroke-width="1"/><line x1="1383.43" y1="999.5" x2="1383.43" y2="1001.7" stroke="#000" stroke-width="1"/><line x1="1348.00" y1="999.5" x2="1348.00" y2="1003.7" stroke="#000" stroke-width="1.6"/><line x1="1357.43" y1="999.5" x2="1357.43" y2="1003.7" stroke="#000" stroke-width="1.6"/><line x1="1366.86" y1="999.5" x2="1366.86" y2="1003.7" stroke="#000" stroke-width="1.6"/><line x1="1376.29" y1="999.5" x2="1376.29" y2="1003.7" stroke="#000" stroke-width="1.6"/>
<text x="694.2" y="54.7" font-size="50" text-anchor="middle" font-family="Liberation Sans, Arial, Helvetica, sans-serif">24:00</text><text x="695.2" y="1361.6" font-size="50" text-anchor="middle" font-family="Liberation Sans, Arial, Helvetica, sans-serif">12:00</text><text transform="translate(56.6,692.6) rotate(-90)" font-size="50" text-anchor="middle" font-family="Liberation Sans, Arial, Helvetica, sans-serif">06:00</text><text transform="translate(1330.8,688.3) rotate(90)" font-size="50" text-anchor="middle" font-family="Liberation Sans, Arial, Helvetica, sans-serif">18:00</text><text x="1315" y="984.7" font-size="37" font-family="Liberation Sans, Arial, Helvetica, sans-serif">kR H<tspan font-size="16.5" dy="5.3">2</tspan></text><text transform="translate(1395,1109) scale(0.95,1)" font-size="31" font-family="Liberation Sans, Arial, Helvetica, sans-serif">10</text><text x="1395" y="1307.8" font-size="31" font-family="Liberation Sans, Arial, Helvetica, sans-serif">1</text><text x="857.7" y="961" font-size="37" fill="#fff" font-family="Liberation Sans, Arial, Helvetica, sans-serif">+<tspan dy="-2.6">70</tspan></text><text x="918.3" y="955.5" font-size="33" fill="#fff" font-family="Liberation Sans, Arial, Helvetica, sans-serif">°</text><text x="1037.7" y="1198.9" font-size="37" fill="#fff" font-family="Liberation Sans, Arial, Helvetica, sans-serif">+<tspan dy="-2.6">50</tspan></text><text x="1099" y="1193.3" font-size="33" fill="#fff" font-family="Liberation Sans, Arial, Helvetica, sans-serif">°</text>
</svg></body></html>
